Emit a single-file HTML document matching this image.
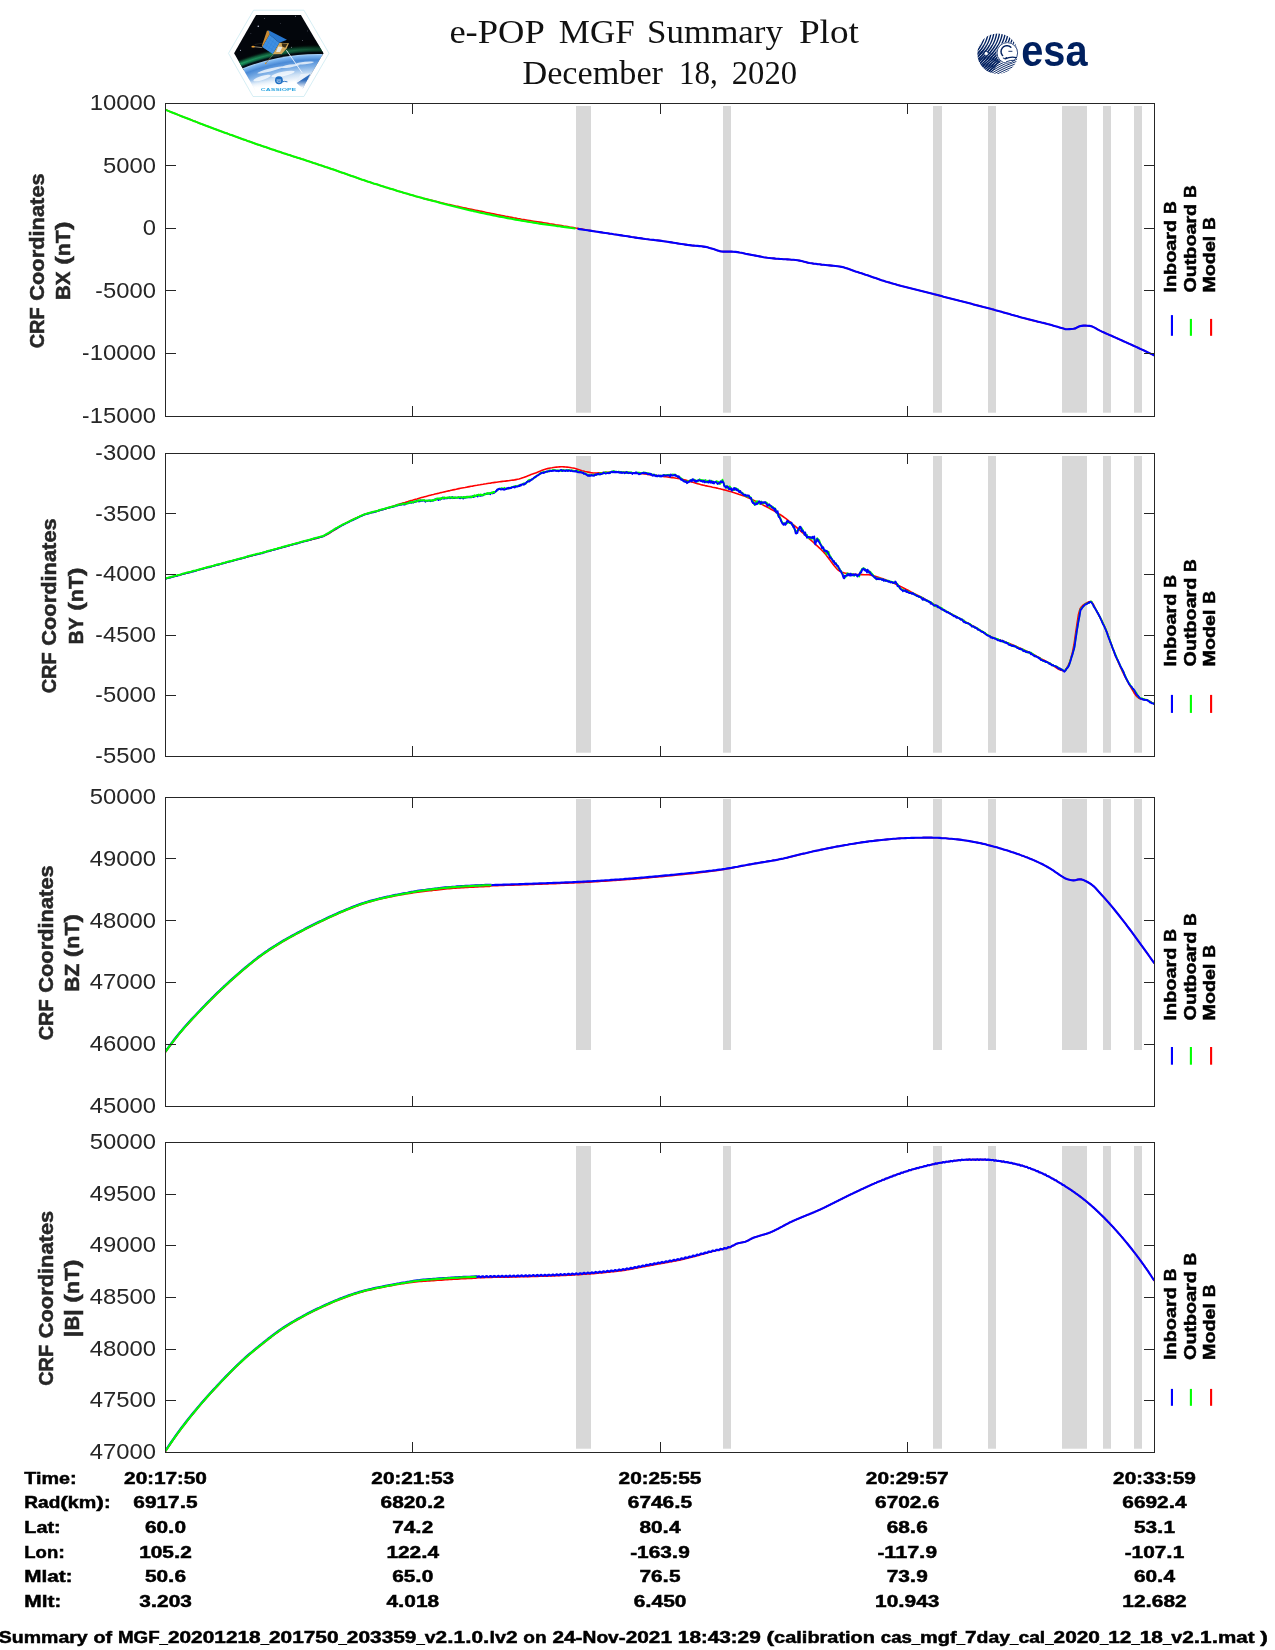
<!DOCTYPE html><html><head><meta charset="utf-8"><title>e-POP MGF Summary Plot</title>
<style>html,body{margin:0;padding:0;background:#fff}svg{display:block}text{font-family:"Liberation Sans",sans-serif}</style></head><body>
<svg width="1275" height="1650" viewBox="0 0 1275 1650" style="opacity:0.999">
<rect width="1275" height="1650" fill="#fff"/>
<clipPath id="c0"><rect x="165.5" y="103.5" width="989.0" height="313.0"/></clipPath>
<rect x="576" y="106" width="15" height="306.7" fill="#d8d8d8"/>
<rect x="723" y="106" width="8" height="306.7" fill="#d8d8d8"/>
<rect x="933" y="106" width="9" height="306.7" fill="#d8d8d8"/>
<rect x="988" y="106" width="8" height="306.7" fill="#d8d8d8"/>
<rect x="1062" y="106" width="25" height="306.7" fill="#d8d8d8"/>
<rect x="1103" y="106" width="8" height="306.7" fill="#d8d8d8"/>
<rect x="1134" y="106" width="8" height="306.7" fill="#d8d8d8"/>
<polyline points="165.5,109.8 167.5,110.6 169.5,111.4 171.5,112.2 173.5,113.0 175.5,113.8 177.5,114.6 179.5,115.4 181.5,116.2 183.5,117.0 185.5,117.7 187.5,118.5 189.5,119.3 191.5,120.1 193.5,120.9 195.5,121.6 197.5,122.4 199.5,123.2 201.5,123.9 203.5,124.7 205.5,125.5 207.5,126.2 209.5,127.0 211.5,127.7 213.5,128.5 215.5,129.2 217.5,130.0 219.5,130.7 221.5,131.4 223.5,132.2 225.5,132.9 227.5,133.6 229.5,134.4 231.5,135.1 233.5,135.8 235.5,136.6 237.5,137.3 239.5,138.0 241.5,138.7 243.5,139.4 245.5,140.1 247.5,140.9 249.5,141.6 251.5,142.3 253.5,143.0 255.5,143.7 257.5,144.4 259.5,145.1 261.5,145.8 263.5,146.4 265.5,147.1 267.5,147.8 269.5,148.5 271.5,149.2 273.5,149.8 275.5,150.5 277.5,151.2 279.5,151.8 281.5,152.5 283.5,153.2 285.5,153.8 287.5,154.5 289.5,155.1 291.5,155.8 293.5,156.4 295.5,157.1 297.5,157.7 299.5,158.3 301.5,159.0 303.5,159.6 305.5,160.3 307.5,160.9 309.5,161.6 311.5,162.2 313.5,162.9 315.5,163.5 317.5,164.2 319.5,164.9 321.5,165.5 323.5,166.2 325.5,166.9 327.5,167.5 329.5,168.2 331.5,168.9 333.5,169.6 335.5,170.3 337.5,171.0 339.5,171.7 341.5,172.4 343.5,173.1 345.5,173.8 347.5,174.5 349.5,175.2 351.5,175.9 353.5,176.6 355.5,177.3 357.5,178.0 359.5,178.7 361.5,179.4 363.5,180.0 365.5,180.7 367.5,181.4 369.5,182.0 371.5,182.7 373.5,183.4 375.5,184.0 377.5,184.6 379.5,185.3 381.5,185.9 383.5,186.5 385.5,187.2 387.5,187.8 389.5,188.4 391.5,189.0 393.5,189.6 395.5,190.2 397.5,190.9 399.5,191.5 401.5,192.1 403.5,192.7 405.5,193.3 407.5,193.8 409.5,194.4 411.5,195.0 413.5,195.6 415.5,196.2 417.5,196.7 419.5,197.3 421.5,197.8 423.5,198.4 425.5,198.9 427.5,199.4 429.5,199.9 431.5,200.4 433.5,200.9 435.5,201.3 437.5,201.8 439.5,202.3 441.5,202.8 443.5,203.2 445.5,203.7 447.5,204.2 449.5,204.6 451.5,205.1 453.5,205.5 455.5,206.0 457.5,206.4 459.5,206.9 461.5,207.3 463.5,207.7 465.5,208.1 467.5,208.6 469.5,209.0 471.5,209.4 473.5,209.8 475.5,210.2 477.5,210.6 479.5,211.0 481.5,211.4 483.5,211.8 485.5,212.3 487.5,212.7 489.5,213.1 491.5,213.5 493.5,213.9 495.5,214.3 497.5,214.7 499.5,215.1 501.5,215.5 503.5,215.9 505.5,216.3 507.5,216.6 509.5,217.0 511.5,217.4 513.5,217.8 515.5,218.1 517.5,218.5 519.5,218.8 521.5,219.2 523.5,219.5 525.5,219.9 527.5,220.2 529.5,220.5 531.5,220.9 533.5,221.2 535.5,221.5 537.5,221.8 539.5,222.1 541.5,222.4 543.5,222.7 545.5,223.0 547.5,223.3 549.5,223.7 551.5,224.0 553.5,224.3 555.5,224.7 557.5,225.0 559.5,225.3 561.5,225.6 563.5,226.0 565.5,226.3 567.5,226.6 569.5,227.0 571.5,227.3 573.5,227.6 575.5,228.0 577.5,228.3 579.5,228.7 581.5,229.0 583.5,229.4 585.5,229.7 587.5,230.1 589.5,230.4 591.5,230.8 593.5,231.1 595.5,231.5 597.5,231.8 599.5,232.1 601.5,232.4 603.5,232.7 605.5,233.0 607.5,233.3 609.5,233.6 611.5,233.8 613.5,234.2 615.5,234.5 617.5,234.8 619.5,235.1 621.5,235.4 623.5,235.7 625.5,236.0 627.5,236.3 629.5,236.6 631.5,237.0 633.5,237.3 635.5,237.6 637.5,237.9 639.5,238.1 641.5,238.4 643.5,238.7 645.5,239.0 647.5,239.2 649.5,239.5 651.5,239.7 653.5,239.9 655.5,240.2 657.5,240.4 659.5,240.6 661.5,240.9 663.5,241.2 665.5,241.5 667.5,241.8 669.5,242.1 671.5,242.4 673.5,242.7 675.5,243.0 677.5,243.4 679.5,243.7 681.5,244.0 683.5,244.3 685.5,244.6 687.5,244.9 689.5,245.1 691.5,245.4 693.5,245.6 695.5,245.8 697.5,245.9 699.5,246.1 701.5,246.3 703.5,246.6 705.5,246.9 707.5,247.3 709.5,247.9 711.5,248.5 713.5,249.1 715.5,249.7 717.5,250.4 719.5,251.1 721.5,251.5 723.5,251.6 725.5,251.6 727.5,251.6 729.5,251.6 731.5,251.6 733.5,251.7 735.5,251.9 737.5,252.1 739.5,252.5 741.5,252.8 743.5,253.2 745.5,253.7 747.5,254.1 749.5,254.5 751.5,254.9 753.5,255.2 755.5,255.6 757.5,256.0 759.5,256.4 761.5,256.8 763.5,257.2 765.5,257.5 767.5,257.8 769.5,258.0 771.5,258.2 773.5,258.4 775.5,258.6 777.5,258.7 779.5,258.9 781.5,259.0 783.5,259.2 785.5,259.3 787.5,259.4 789.5,259.5 791.5,259.7 793.5,259.8 795.5,260.0 797.5,260.2 799.5,260.6 801.5,261.0 803.5,261.6 805.5,262.1 807.5,262.6 809.5,263.0 811.5,263.3 813.5,263.6 815.5,263.8 817.5,264.1 819.5,264.3 821.5,264.6 823.5,264.8 825.5,265.0 827.5,265.2 829.5,265.4 831.5,265.6 833.5,265.8 835.5,266.0 837.5,266.2 839.5,266.5 841.5,266.9 843.5,267.3 845.5,267.9 847.5,268.6 849.5,269.3 851.5,270.0 853.5,270.7 855.5,271.4 857.5,272.0 859.5,272.7 861.5,273.3 863.5,274.0 865.5,274.7 867.5,275.3 869.5,276.0 871.5,276.7 873.5,277.4 875.5,278.1 877.5,278.8 879.5,279.5 881.5,280.2 883.5,280.8 885.5,281.5 887.5,282.1 889.5,282.6 891.5,283.2 893.5,283.8 895.5,284.3 897.5,284.9 899.5,285.4 901.5,286.0 903.5,286.5 905.5,287.0 907.5,287.5 909.5,288.0 911.5,288.5 913.5,289.0 915.5,289.5 917.5,290.0 919.5,290.5 921.5,291.0 923.5,291.5 925.5,292.0 927.5,292.5 929.5,293.0 931.5,293.5 933.5,294.1 935.5,294.6 937.5,295.1 939.5,295.6 941.5,296.1 943.5,296.7 945.5,297.2 947.5,297.7 949.5,298.2 951.5,298.7 953.5,299.2 955.5,299.7 957.5,300.2 959.5,300.8 961.5,301.3 963.5,301.8 965.5,302.3 967.5,302.8 969.5,303.3 971.5,303.8 973.5,304.4 975.5,304.9 977.5,305.4 979.5,305.9 981.5,306.4 983.5,307.0 985.5,307.5 987.5,308.0 989.5,308.5 991.5,309.1 993.5,309.6 995.5,310.2 997.5,310.7 999.5,311.3 1001.5,311.8 1003.5,312.4 1005.5,312.9 1007.5,313.5 1009.5,314.1 1011.5,314.7 1013.5,315.2 1015.5,315.8 1017.5,316.3 1019.5,316.9 1021.5,317.5 1023.5,318.0 1025.5,318.5 1027.5,319.1 1029.5,319.6 1031.5,320.1 1033.5,320.6 1035.5,321.1 1037.5,321.6 1039.5,322.0 1041.5,322.5 1043.5,322.9 1045.5,323.4 1047.5,324.0 1049.5,324.5 1051.5,325.1 1053.5,325.7 1055.5,326.3 1057.5,326.8 1059.5,327.4 1061.5,328.0 1063.5,328.6 1065.5,329.2 1067.5,329.2 1069.5,329.1 1071.5,329.0 1073.5,328.8 1075.5,328.4 1077.5,327.2 1079.5,326.3 1081.5,325.9 1083.5,325.6 1085.5,325.6 1087.5,325.7 1089.5,325.9 1091.5,326.3 1093.5,327.1 1095.5,328.1 1097.5,329.3 1099.5,330.4 1101.5,331.4 1103.5,332.3 1105.5,333.2 1107.5,334.1 1109.5,335.0 1111.5,335.8 1113.5,336.7 1115.5,337.6 1117.5,338.5 1119.5,339.4 1121.5,340.3 1123.5,341.2 1125.5,342.1 1127.5,343.0 1129.5,343.9 1131.5,344.8 1133.5,345.7 1135.5,346.6 1137.5,347.5 1139.5,348.5 1141.5,349.4 1143.5,350.3 1145.5,351.2 1147.5,352.2 1149.5,353.1 1151.5,354.1 1153.5,355.0 1154.5,355.5" fill="none" stroke="#ff0000" stroke-width="1.6" stroke-linejoin="round" clip-path="url(#c0)"/>
<polyline points="165.5,109.8 167.5,110.6 169.5,111.4 171.5,112.2 173.5,113.0 175.5,113.8 177.5,114.6 179.5,115.4 181.5,116.2 183.5,117.0 185.5,117.7 187.5,118.5 189.5,119.3 191.5,120.1 193.5,120.9 195.5,121.6 197.5,122.4 199.5,123.2 201.5,123.9 203.5,124.7 205.5,125.5 207.5,126.2 209.5,127.0 211.5,127.7 213.5,128.5 215.5,129.2 217.5,130.0 219.5,130.7 221.5,131.4 223.5,132.2 225.5,132.9 227.5,133.6 229.5,134.4 231.5,135.1 233.5,135.8 235.5,136.6 237.5,137.3 239.5,138.0 241.5,138.7 243.5,139.4 245.5,140.1 247.5,140.9 249.5,141.6 251.5,142.3 253.5,143.0 255.5,143.7 257.5,144.4 259.5,145.1 261.5,145.8 263.5,146.4 265.5,147.1 267.5,147.8 269.5,148.5 271.5,149.2 273.5,149.8 275.5,150.5 277.5,151.2 279.5,151.8 281.5,152.5 283.5,153.2 285.5,153.8 287.5,154.5 289.5,155.1 291.5,155.8 293.5,156.4 295.5,157.1 297.5,157.7 299.5,158.3 301.5,159.0 303.5,159.6 305.5,160.3 307.5,160.9 309.5,161.6 311.5,162.2 313.5,162.9 315.5,163.5 317.5,164.2 319.5,164.9 321.5,165.5 323.5,166.2 325.5,166.9 327.5,167.5 329.5,168.2 331.5,168.9 333.5,169.6 335.5,170.3 337.5,171.0 339.5,171.7 341.5,172.4 343.5,173.1 345.5,173.8 347.5,174.5 349.5,175.2 351.5,175.9 353.5,176.6 355.5,177.3 357.5,178.0 359.5,178.7 361.5,179.4 363.5,180.0 365.5,180.7 367.5,181.4 369.5,182.0 371.5,182.7 373.5,183.4 375.5,184.0 377.5,184.6 379.5,185.3 381.5,185.9 383.5,186.5 385.5,187.2 387.5,187.8 389.5,188.4 391.5,189.0 393.5,189.6 395.5,190.2 397.5,190.9 399.5,191.5 401.5,192.1 403.5,192.7 405.5,193.3 407.5,193.8 409.5,194.4 411.5,195.0 413.5,195.6 415.5,196.2 417.5,196.7 419.5,197.3 421.5,197.8 423.5,198.4 425.5,198.9 427.5,199.5 429.5,200.0 431.5,200.5 433.5,201.1 435.5,201.6 437.5,202.1 439.5,202.7 441.5,203.2 443.5,203.7 445.5,204.2 447.5,204.7 449.5,205.3 451.5,205.8 453.5,206.3 455.5,206.8 457.5,207.3 459.5,207.8 461.5,208.2 463.5,208.7 465.5,209.2 467.5,209.7 469.5,210.2 471.5,210.6 473.5,211.1 475.5,211.5 477.5,212.0 479.5,212.4 481.5,212.9 483.5,213.3 485.5,213.7 487.5,214.1 489.5,214.5 491.5,214.9 493.5,215.4 495.5,215.8 497.5,216.2 499.5,216.6 501.5,216.9 503.5,217.3 505.5,217.7 507.5,218.1 509.5,218.5 511.5,218.8 513.5,219.2 515.5,219.6 517.5,219.9 519.5,220.3 521.5,220.6 523.5,221.0 525.5,221.3 527.5,221.6 529.5,222.0 531.5,222.3 533.5,222.6 535.5,222.9 537.5,223.3 539.5,223.6 541.5,223.9 543.5,224.2 545.5,224.4 547.5,224.7 549.5,225.0 551.5,225.3 553.5,225.5 555.5,225.8 557.5,226.1 559.5,226.3 561.5,226.6 563.5,226.9 565.5,227.1 567.5,227.4 569.5,227.7 571.5,228.0 573.5,228.2 575.5,228.5" fill="none" stroke="#00ff00" stroke-width="2.1" stroke-linejoin="round" clip-path="url(#c0)"/>
<polyline points="577.5,228.8 579.5,229.1 581.5,229.4 583.5,229.7 585.5,230.0 587.5,230.3 589.5,230.6 591.5,230.9 593.5,231.2 595.5,231.5 597.5,231.8 599.5,232.1 601.5,232.4 603.5,232.7 605.5,233.0 607.5,233.3 609.5,233.6 611.5,233.8 613.5,234.2 615.5,234.5 617.5,234.8 619.5,235.1 621.5,235.4 623.5,235.7 625.5,236.0 627.5,236.3 629.5,236.6 631.5,237.0 633.5,237.3 635.5,237.6 637.5,237.9 639.5,238.1 641.5,238.4 643.5,238.7 645.5,239.0 647.5,239.2 649.5,239.5 651.5,239.7 653.5,239.9 655.5,240.2 657.5,240.4 659.5,240.6 661.5,240.9 663.5,241.2 665.5,241.5 667.5,241.8 669.5,242.1 671.5,242.4 673.5,242.7 675.5,243.0 677.5,243.4 679.5,243.7 681.5,244.0 683.5,244.3 685.5,244.6 687.5,244.9 689.5,245.1 691.5,245.4 693.5,245.6 695.5,245.8 697.5,245.9 699.5,246.1 701.5,246.3 703.5,246.6 705.5,246.9 707.5,247.3 709.5,247.9 711.5,248.5 713.5,249.1 715.5,249.7 717.5,250.4 719.5,251.1 721.5,251.5 723.5,251.6 725.5,251.6 727.5,251.6 729.5,251.6 731.5,251.6 733.5,251.7 735.5,251.9 737.5,252.1 739.5,252.5 741.5,252.8 743.5,253.2 745.5,253.7 747.5,254.1 749.5,254.5 751.5,254.9 753.5,255.2 755.5,255.6 757.5,256.0 759.5,256.4 761.5,256.8 763.5,257.2 765.5,257.5 767.5,257.8 769.5,258.0 771.5,258.2 773.5,258.4 775.5,258.6 777.5,258.7 779.5,258.9 781.5,259.0 783.5,259.2 785.5,259.3 787.5,259.4 789.5,259.5 791.5,259.7 793.5,259.8 795.5,260.0 797.5,260.2 799.5,260.6 801.5,261.0 803.5,261.6 805.5,262.1 807.5,262.6 809.5,263.0 811.5,263.3 813.5,263.6 815.5,263.8 817.5,264.1 819.5,264.3 821.5,264.6 823.5,264.8 825.5,265.0 827.5,265.2 829.5,265.4 831.5,265.6 833.5,265.8 835.5,266.0 837.5,266.2 839.5,266.5 841.5,266.9 843.5,267.3 845.5,267.9 847.5,268.6 849.5,269.3 851.5,270.0 853.5,270.7 855.5,271.4 857.5,272.0 859.5,272.7 861.5,273.3 863.5,274.0 865.5,274.7 867.5,275.3 869.5,276.0 871.5,276.7 873.5,277.4 875.5,278.1 877.5,278.8 879.5,279.5 881.5,280.2 883.5,280.8 885.5,281.5 887.5,282.1 889.5,282.6 891.5,283.2 893.5,283.8 895.5,284.3 897.5,284.9 899.5,285.4 901.5,286.0 903.5,286.5 905.5,287.0 907.5,287.5 909.5,288.0 911.5,288.5 913.5,289.0 915.5,289.5 917.5,290.0 919.5,290.5 921.5,291.0 923.5,291.5 925.5,292.0 927.5,292.5 929.5,293.0 931.5,293.5 933.5,294.1 935.5,294.6 937.5,295.1 939.5,295.6 941.5,296.1 943.5,296.7 945.5,297.2 947.5,297.7 949.5,298.2 951.5,298.7 953.5,299.2 955.5,299.7 957.5,300.2 959.5,300.8 961.5,301.3 963.5,301.8 965.5,302.3 967.5,302.8 969.5,303.3 971.5,303.8 973.5,304.4 975.5,304.9 977.5,305.4 979.5,305.9 981.5,306.4 983.5,307.0 985.5,307.5 987.5,308.0 989.5,308.5 991.5,309.1 993.5,309.6 995.5,310.2 997.5,310.7 999.5,311.3 1001.5,311.8 1003.5,312.4 1005.5,312.9 1007.5,313.5 1009.5,314.1 1011.5,314.7 1013.5,315.2 1015.5,315.8 1017.5,316.3 1019.5,316.9 1021.5,317.5 1023.5,318.0 1025.5,318.5 1027.5,319.1 1029.5,319.6 1031.5,320.1 1033.5,320.6 1035.5,321.1 1037.5,321.6 1039.5,322.0 1041.5,322.5 1043.5,322.9 1045.5,323.4 1047.5,324.0 1049.5,324.5 1051.5,325.1 1053.5,325.7 1055.5,326.3 1057.5,326.8 1059.5,327.4 1061.5,328.0 1063.5,328.6 1065.5,329.2 1067.5,329.2 1069.5,329.1 1071.5,329.0 1073.5,328.8 1075.5,328.4 1077.5,327.2 1079.5,326.3 1081.5,325.9 1083.5,325.6 1085.5,325.6 1087.5,325.7 1089.5,325.9 1091.5,326.3 1093.5,327.1 1095.5,328.1 1097.5,329.3 1099.5,330.4 1101.5,331.4 1103.5,332.3 1105.5,333.2 1107.5,334.1 1109.5,335.0 1111.5,335.8 1113.5,336.7 1115.5,337.6 1117.5,338.5 1119.5,339.4 1121.5,340.3 1123.5,341.2 1125.5,342.1 1127.5,343.0 1129.5,343.9 1131.5,344.8 1133.5,345.7 1135.5,346.6 1137.5,347.5 1139.5,348.5 1141.5,349.4 1143.5,350.3 1145.5,351.2 1147.5,352.2 1149.5,353.1 1151.5,354.1 1153.5,355.0 1154.5,355.5" fill="none" stroke="#0000ff" stroke-width="2.1" stroke-linejoin="round" clip-path="url(#c0)"/>
<g stroke="#262626" stroke-width="1" fill="none" shape-rendering="crispEdges">
<rect x="165.5" y="103.5" width="989.0" height="313.0"/>
<line x1="412.5" y1="103.5" x2="412.5" y2="114.0"/><line x1="412.5" y1="416.5" x2="412.5" y2="406.0"/>
<line x1="660.5" y1="103.5" x2="660.5" y2="114.0"/><line x1="660.5" y1="416.5" x2="660.5" y2="406.0"/>
<line x1="907.5" y1="103.5" x2="907.5" y2="114.0"/><line x1="907.5" y1="416.5" x2="907.5" y2="406.0"/>
<line x1="165.5" y1="165.5" x2="176.0" y2="165.5"/><line x1="1154.5" y1="165.5" x2="1144.0" y2="165.5"/>
<line x1="165.5" y1="228.5" x2="176.0" y2="228.5"/><line x1="1154.5" y1="228.5" x2="1144.0" y2="228.5"/>
<line x1="165.5" y1="290.5" x2="176.0" y2="290.5"/><line x1="1154.5" y1="290.5" x2="1144.0" y2="290.5"/>
<line x1="165.5" y1="353.5" x2="176.0" y2="353.5"/><line x1="1154.5" y1="353.5" x2="1144.0" y2="353.5"/>
</g>
<g font-size="22.07" fill="#262626">
<text x="89.65" y="110.00" textLength="66.25" lengthAdjust="spacingAndGlyphs">10000</text>
</g>
<g font-size="22.07" fill="#262626">
<text x="102.90" y="172.60" textLength="53.00" lengthAdjust="spacingAndGlyphs">5000</text>
</g>
<g font-size="22.07" fill="#262626">
<text x="142.65" y="235.20" textLength="13.25" lengthAdjust="spacingAndGlyphs">0</text>
</g>
<g font-size="22.07" fill="#262626">
<text x="95.38" y="297.80" textLength="7.52" lengthAdjust="spacingAndGlyphs">-</text>
<text x="102.90" y="297.80" textLength="53.00" lengthAdjust="spacingAndGlyphs">5000</text>
</g>
<g font-size="22.07" fill="#262626">
<text x="82.13" y="360.40" textLength="7.52" lengthAdjust="spacingAndGlyphs">-</text>
<text x="89.65" y="360.40" textLength="66.25" lengthAdjust="spacingAndGlyphs">10000</text>
</g>
<g font-size="22.07" fill="#262626">
<text x="82.13" y="423.00" textLength="7.52" lengthAdjust="spacingAndGlyphs">-</text>
<text x="89.65" y="423.00" textLength="66.25" lengthAdjust="spacingAndGlyphs">15000</text>
</g>
<g font-size="19.47" font-weight="bold" stroke="#262626" stroke-width="0.5" fill="#262626" transform="rotate(-90 44.20 260.80)">
<text x="-43.30" y="260.80" textLength="41.02" lengthAdjust="spacingAndGlyphs">CRF</text>
<text x="4.25" y="260.80" textLength="127.45" lengthAdjust="spacingAndGlyphs">Coordinates</text>
</g>
<g font-size="19.47" font-weight="bold" stroke="#262626" stroke-width="0.5" fill="#262626" transform="rotate(-90 69.60 260.80)">
<text x="30.33" y="260.80" textLength="28.75" lengthAdjust="spacingAndGlyphs">BX</text>
<text x="65.61" y="260.80" textLength="8.56" lengthAdjust="spacingAndGlyphs">(</text>
<text x="74.17" y="260.80" textLength="26.14" lengthAdjust="spacingAndGlyphs">nT</text>
<text x="100.31" y="260.80" textLength="8.56" lengthAdjust="spacingAndGlyphs">)</text>
</g>
<g font-size="17.31" font-weight="bold" stroke="#000" stroke-width="0.5" fill="#000" transform="rotate(-90 1176.20 292.60)">
<text x="1176.20" y="292.60" textLength="72.80" lengthAdjust="spacingAndGlyphs">Inboard</text>
<text x="1254.79" y="292.60" textLength="12.70" lengthAdjust="spacingAndGlyphs">B</text>
</g>
<g font-size="17.31" font-weight="bold" stroke="#000" stroke-width="0.5" fill="#000" transform="rotate(-90 1196.00 292.60)">
<text x="1196.00" y="292.60" textLength="88.72" lengthAdjust="spacingAndGlyphs">Outboard</text>
<text x="1290.52" y="292.60" textLength="12.70" lengthAdjust="spacingAndGlyphs">B</text>
</g>
<g font-size="17.31" font-weight="bold" stroke="#000" stroke-width="0.5" fill="#000" transform="rotate(-90 1215.20 292.60)">
<text x="1215.20" y="292.60" textLength="56.94" lengthAdjust="spacingAndGlyphs">Model</text>
<text x="1277.93" y="292.60" textLength="12.70" lengthAdjust="spacingAndGlyphs">B</text>
</g>
<rect x="1170.9" y="315.1" width="2.1" height="20.7" fill="#0000ff"/>
<rect x="1189.85" y="318.9" width="2.1" height="16.9" fill="#00ff00"/>
<rect x="1210.05" y="318.9" width="2.1" height="16.9" fill="#ff0000"/>
<clipPath id="c1"><rect x="165.5" y="453.5" width="989.0" height="303.0"/></clipPath>
<rect x="576" y="456" width="15" height="296.7" fill="#d8d8d8"/>
<rect x="723" y="456" width="8" height="296.7" fill="#d8d8d8"/>
<rect x="933" y="456" width="9" height="296.7" fill="#d8d8d8"/>
<rect x="988" y="456" width="8" height="296.7" fill="#d8d8d8"/>
<rect x="1062" y="456" width="25" height="296.7" fill="#d8d8d8"/>
<rect x="1103" y="456" width="8" height="296.7" fill="#d8d8d8"/>
<rect x="1134" y="456" width="8" height="296.7" fill="#d8d8d8"/>
<polyline points="165.0,578.9 166.5,578.5 168.0,578.1 169.5,577.7 171.0,577.3 172.5,576.9 174.0,576.5 175.5,576.1 177.0,575.7 178.5,575.3 180.0,574.9 181.5,574.5 183.0,574.1 184.5,573.7 186.0,573.3 187.5,572.9 189.0,572.5 190.5,572.1 192.0,571.7 193.5,571.3 195.0,570.9 196.5,570.5 198.0,570.1 199.5,569.6 201.0,569.2 202.5,568.8 204.0,568.4 205.5,568.0 207.0,567.6 208.5,567.2 210.0,566.8 211.5,566.4 213.0,566.0 214.5,565.6 216.0,565.2 217.5,564.8 219.0,564.4 220.5,564.0 222.0,563.6 223.5,563.2 225.0,562.8 226.5,562.4 228.0,562.0 229.5,561.6 231.0,561.2 232.5,560.8 234.0,560.4 235.5,560.0 237.0,559.6 238.5,559.2 240.0,558.8 241.5,558.4 243.0,558.0 244.5,557.7 246.0,557.3 247.5,556.9 249.0,556.5 250.5,556.1 252.0,555.7 253.5,555.3 255.0,554.9 256.5,554.5 258.0,554.1 259.5,553.7 261.0,553.3 262.5,552.9 264.0,552.5 265.5,552.1 267.0,551.6 268.5,551.2 270.0,550.8 271.5,550.4 273.0,550.0 274.5,549.6 276.0,549.2 277.5,548.8 279.0,548.3 280.5,547.9 282.0,547.5 283.5,547.1 285.0,546.7 286.5,546.3 288.0,545.8 289.5,545.4 291.0,545.0 292.5,544.6 294.0,544.2 295.5,543.8 297.0,543.4 298.5,542.9 300.0,542.5 301.5,542.1 303.0,541.7 304.5,541.3 306.0,540.9 307.5,540.6 309.0,540.2 310.5,539.9 312.0,539.5 313.5,539.1 315.0,538.8 316.5,538.4 318.0,538.0 319.5,537.5 321.0,537.0 322.5,536.5 324.0,535.9 325.5,535.3 327.0,534.5 328.5,533.7 330.0,532.8 331.5,531.9 333.0,530.9 334.5,530.0 336.0,529.0 337.5,528.0 339.0,527.0 340.5,526.1 342.0,525.2 343.5,524.4 345.0,523.6 346.5,522.8 348.0,522.1 349.5,521.3 351.0,520.5 352.5,519.8 354.0,519.0 355.5,518.3 357.0,517.6 358.5,516.9 360.0,516.3 361.5,515.7 363.0,515.1 364.5,514.6 366.0,514.1 367.5,513.6 369.0,513.2 370.5,512.8 372.0,512.4 373.5,512.0 375.0,511.6 376.5,511.2 378.0,510.8 379.5,510.4 381.0,510.0 382.5,509.6 384.0,509.2 385.5,508.7 387.0,508.2 388.5,507.8 390.0,507.2 391.5,506.7 393.0,506.2 394.5,505.7 396.0,505.2 397.5,504.7 399.0,504.2 400.5,503.7 402.0,503.3 403.5,502.8 405.0,502.4 406.5,501.9 408.0,501.5 409.5,501.0 411.0,500.6 412.5,500.2 414.0,499.7 415.5,499.3 417.0,498.9 418.5,498.4 420.0,498.0 421.5,497.6 423.0,497.2 424.5,496.8 426.0,496.4 427.5,496.0 429.0,495.6 430.5,495.2 432.0,494.8 433.5,494.5 435.0,494.1 436.5,493.7 438.0,493.4 439.5,493.0 441.0,492.6 442.5,492.3 444.0,491.9 445.5,491.6 447.0,491.2 448.5,490.9 450.0,490.6 451.5,490.2 453.0,489.9 454.5,489.6 456.0,489.3 457.5,488.9 459.0,488.6 460.5,488.3 462.0,488.0 463.5,487.7 465.0,487.5 466.5,487.2 468.0,486.9 469.5,486.6 471.0,486.3 472.5,486.1 474.0,485.8 475.5,485.5 477.0,485.3 478.5,485.0 480.0,484.8 481.5,484.5 483.0,484.3 484.5,484.0 486.0,483.8 487.5,483.5 489.0,483.3 490.5,483.1 492.0,482.8 493.5,482.6 495.0,482.4 496.5,482.2 498.0,482.0 499.5,481.8 501.0,481.6 502.5,481.4 504.0,481.3 505.5,481.1 507.0,480.9 508.5,480.7 510.0,480.5 511.5,480.3 513.0,480.1 514.5,479.9 516.0,479.6 517.5,479.3 519.0,479.0 520.5,478.6 522.0,478.1 523.5,477.6 525.0,477.0 526.5,476.4 528.0,475.8 529.5,475.2 531.0,474.6 532.5,474.1 534.0,473.5 535.5,473.0 537.0,472.4 538.5,471.8 540.0,471.2 541.5,470.6 543.0,470.0 544.5,469.5 546.0,469.0 547.5,468.6 549.0,468.3 550.5,468.0 552.0,467.8 553.5,467.5 555.0,467.3 556.5,467.1 558.0,467.0 559.5,466.9 561.0,466.8 562.5,466.8 564.0,466.9 565.5,467.0 567.0,467.1 568.5,467.3 570.0,467.5 571.5,467.8 573.0,468.0 574.5,468.3 576.0,468.7 577.5,469.2 579.0,469.7 580.5,470.2 582.0,470.7 583.5,471.1 585.0,471.5 586.5,471.8 588.0,472.1 589.5,472.4 591.0,472.7 592.5,472.9 594.0,473.0 595.5,473.0 597.0,473.0 598.5,472.9 600.0,472.8 601.5,472.7 603.0,472.6 604.5,472.5 606.0,472.4 607.5,472.3 609.0,472.2 610.5,472.1 612.0,472.0 613.5,472.0 615.0,472.0 616.5,472.0 618.0,472.1 619.5,472.1 621.0,472.2 622.5,472.2 624.0,472.3 625.5,472.4 627.0,472.5 628.5,472.6 630.0,472.7 631.5,472.8 633.0,472.9 634.5,473.1 636.0,473.2 637.5,473.3 639.0,473.4 640.5,473.5 642.0,473.7 643.5,473.8 645.0,474.0 646.5,474.2 648.0,474.4 649.5,474.6 651.0,474.8 652.5,475.0 654.0,475.2 655.5,475.4 657.0,475.6 658.5,475.8 660.0,476.0 661.5,476.2 663.0,476.4 664.5,476.6 666.0,476.8 667.5,477.0 669.0,477.2 670.5,477.4 672.0,477.6 673.5,477.8 675.0,478.0 676.5,478.3 678.0,478.5 679.5,478.8 681.0,479.0 682.5,479.3 684.0,479.7 685.5,480.1 687.0,480.5 688.5,480.9 690.0,481.4 691.5,481.9 693.0,482.3 694.5,482.8 696.0,483.3 697.5,483.7 699.0,484.1 700.5,484.5 702.0,484.9 703.5,485.2 705.0,485.6 706.5,485.9 708.0,486.2 709.5,486.5 711.0,486.8 712.5,487.2 714.0,487.5 715.5,487.8 717.0,488.1 718.5,488.5 720.0,488.8 721.5,489.2 723.0,489.6 724.5,489.9 726.0,490.3 727.5,490.8 729.0,491.2 730.5,491.6 732.0,492.0 733.5,492.5 735.0,492.9 736.5,493.4 738.0,493.9 739.5,494.4 741.0,494.9 742.5,495.5 744.0,496.1 745.5,496.6 747.0,497.3 748.5,497.9 750.0,498.6 751.5,499.3 753.0,500.0 754.5,500.7 756.0,501.4 757.5,502.2 759.0,502.9 760.5,503.7 762.0,504.4 763.5,505.2 765.0,506.0 766.5,506.8 768.0,507.6 769.5,508.4 771.0,509.2 772.5,510.0 774.0,510.9 775.5,511.8 777.0,512.6 778.5,513.6 780.0,514.5 781.5,515.5 783.0,516.5 784.5,517.6 786.0,518.7 787.5,519.8 789.0,521.0 790.5,522.2 792.0,523.5 793.5,524.8 795.0,526.1 796.5,527.4 798.0,528.7 799.5,530.0 801.0,531.4 802.5,532.7 804.0,534.0 805.5,535.3 807.0,536.6 808.5,537.9 810.0,539.3 811.5,540.6 813.0,542.0 814.5,543.4 816.0,544.8 817.5,546.2 819.0,547.6 820.5,549.0 822.0,550.5 823.5,552.0 825.0,553.6 826.5,555.4 828.0,557.4 829.5,559.4 831.0,561.5 832.5,563.5 834.0,565.5 835.5,567.3 837.0,569.0 838.5,570.4 840.0,571.4 841.5,572.2 843.0,572.6 844.5,573.0 846.0,573.3 847.5,573.6 849.0,573.9 850.5,574.1 852.0,574.2 853.5,574.4 855.0,574.4 856.5,574.5 858.0,574.5 859.5,574.6 861.0,574.6 862.5,574.6 864.0,574.7 865.5,574.7 867.0,574.7 868.5,574.8 870.0,574.9 871.5,575.2 873.0,575.5 874.5,575.9 876.0,576.4 877.5,576.9 879.0,577.4 880.5,578.0 882.0,578.5 883.5,579.1 885.0,579.6 886.5,580.2 888.0,580.7 889.5,581.4 891.0,582.0 892.5,582.7 894.0,583.4 895.5,584.1 897.0,584.8 898.5,585.5 900.0,586.2 901.5,586.9 903.0,587.7 904.5,588.5 906.0,589.3 907.5,590.0 909.0,590.8 910.5,591.6 912.0,592.4 913.5,593.2 915.0,593.9 916.5,594.7 918.0,595.5 919.5,596.3 921.0,597.0 922.5,597.8 924.0,598.7 925.5,599.5 927.0,600.4 928.5,601.2 930.0,602.1 931.5,603.0 933.0,603.9 934.5,604.8 936.0,605.7 937.5,606.5 939.0,607.4 940.5,608.2 942.0,609.0 943.5,609.8 945.0,610.6 946.5,611.4 948.0,612.2 949.5,613.0 951.0,613.8 952.5,614.7 954.0,615.5 955.5,616.3 957.0,617.1 958.5,617.9 960.0,618.8 961.5,619.6 963.0,620.4 964.5,621.3 966.0,622.1 967.5,622.9 969.0,623.8 970.5,624.6 972.0,625.5 973.5,626.3 975.0,627.2 976.5,628.1 978.0,629.0 979.5,629.9 981.0,630.9 982.5,631.8 984.0,632.8 985.5,633.7 987.0,634.6 988.5,635.4 990.0,636.2 991.5,636.9 993.0,637.6 994.5,638.2 996.0,638.7 997.5,639.3 999.0,639.8 1000.5,640.3 1002.0,640.8 1003.5,641.3 1005.0,641.8 1006.5,642.4 1008.0,643.0 1009.5,643.6 1011.0,644.2 1012.5,644.8 1014.0,645.5 1015.5,646.1 1017.0,646.7 1018.5,647.4 1020.0,648.1 1021.5,648.7 1023.0,649.4 1024.5,650.1 1026.0,650.8 1027.5,651.5 1029.0,652.2 1030.5,653.0 1032.0,653.7 1033.5,654.5 1035.0,655.3 1036.5,656.1 1038.0,656.9 1039.5,657.7 1041.0,658.6 1042.5,659.4 1044.0,660.2 1045.5,661.0 1047.0,661.8 1048.5,662.6 1050.0,663.5 1051.5,664.4 1053.0,665.5 1054.5,666.5 1056.0,667.5 1057.5,668.5 1059.0,669.4 1060.5,670.1 1062.0,670.5 1063.5,670.8 1065.0,670.4 1066.5,668.5 1068.0,665.9 1069.5,662.5 1071.0,657.8 1072.5,652.0 1074.0,644.5 1075.5,633.9 1077.0,623.9 1078.5,614.2 1080.0,609.0 1081.5,606.7 1083.0,605.2 1084.5,604.2 1086.0,603.2 1087.5,602.4 1089.0,601.8 1090.5,601.5 1092.0,602.2 1093.5,604.6 1095.0,607.8 1096.5,610.8 1098.0,613.5 1099.5,616.3 1101.0,619.2 1102.5,622.2 1104.0,625.4 1105.5,628.7 1107.0,632.3 1108.5,636.4 1110.0,640.7 1111.5,645.1 1113.0,649.3 1114.5,653.2 1116.0,656.8 1117.5,660.4 1119.0,663.9 1120.5,667.3 1122.0,670.6 1123.5,673.7 1125.0,676.7 1126.5,679.5 1128.0,682.1 1129.5,684.8 1131.0,687.5 1132.5,690.2 1134.0,692.7 1135.5,694.9 1137.0,696.7 1138.5,698.0 1140.0,698.7 1141.5,699.1 1143.0,699.3 1144.5,699.5 1146.0,699.7 1147.5,700.2 1149.0,700.9 1150.5,701.7 1152.0,702.6 1153.5,703.6 1154.5,704.4" fill="none" stroke="#ff0000" stroke-width="1.6" stroke-linejoin="round" clip-path="url(#c1)"/>
<polyline points="494.4,492.1 495.0,491.8 495.6,491.5 496.2,491.0 496.8,490.8 497.4,489.8 498.0,489.4 498.6,489.1 499.2,488.7 499.8,489.1 500.4,489.2 501.0,488.4 501.6,488.1 502.2,488.5 502.8,488.9 503.4,488.5 504.0,488.4 504.6,487.8 505.2,488.9 505.8,488.7 506.4,488.8 507.0,488.7 507.6,488.6 508.2,488.5 508.8,488.0 509.4,488.1 510.0,487.8 510.6,488.0 511.2,487.3 511.8,486.9 512.4,487.0 513.0,487.2 513.6,486.9 514.2,486.3 514.8,486.1 515.4,485.8 516.0,486.4 516.6,486.3 517.2,486.3 517.8,486.0 518.4,485.4 519.0,485.5 519.6,485.7 520.2,485.4 520.8,484.9 521.4,485.0 522.0,484.4 522.6,484.4 523.2,483.8 523.8,483.3 524.4,483.5 525.0,483.5 525.6,483.8 526.2,483.1 526.8,482.5 527.4,481.7 528.0,480.8 528.6,480.1 529.2,480.3 529.8,479.7 530.4,479.9 531.0,480.0 531.6,479.3 532.2,479.4 532.8,478.8 533.4,478.6 534.0,477.9 534.6,477.7 535.2,476.8 535.8,476.6 536.4,475.9 537.0,475.5 537.6,475.3 538.2,474.9 538.8,474.4 539.4,474.2 540.0,474.0 540.6,472.9 541.2,472.8 541.8,472.8 542.4,472.4 543.0,472.4 543.6,471.8 544.2,472.3 544.8,472.0 545.4,471.8 546.0,472.1 546.6,471.8 547.2,471.8 547.8,471.2 548.4,470.9 549.0,470.5 549.6,470.5 550.2,470.9 550.8,470.8 551.4,470.9 552.0,470.3 552.6,470.0 553.2,469.8 553.8,470.1 554.4,470.2 555.0,470.2 555.6,470.4 556.2,470.3 556.8,470.3 557.4,470.7 558.0,470.3 558.6,470.4 559.2,470.9 559.8,470.7 560.4,470.8 561.0,470.4 561.6,471.0 562.2,470.1 562.8,469.9 563.4,469.8 564.0,470.6 564.6,470.7 565.2,470.5 565.8,470.1 566.4,470.4 567.0,470.5 567.6,470.3 568.2,470.0 568.8,469.9 569.4,470.3 570.0,470.5 570.6,470.6 571.2,470.7 571.8,470.2 572.4,470.6 573.0,470.5 573.6,470.8 574.2,471.1 574.8,471.0 575.4,470.9 576.0,471.4 576.6,471.6 577.2,471.4 577.8,470.7 578.4,471.1 579.0,471.6 579.6,472.1 580.2,471.9 580.8,471.9 581.4,472.1 582.0,472.7 582.6,472.6 583.2,472.9 583.8,473.0 584.4,473.4 585.0,473.3 585.6,473.8 586.2,474.0 586.8,474.3 587.4,474.8 588.0,475.4 588.6,474.8 589.2,475.1 589.8,475.2 590.4,475.0 591.0,475.3 591.6,475.1 592.2,475.3 592.8,474.9 593.4,474.5 594.0,474.9 594.6,475.3 595.2,475.2 595.8,475.1 596.4,474.7 597.0,474.1 597.6,474.1 598.2,474.5 598.8,473.7 599.4,473.6 600.0,473.1 600.6,473.4 601.2,473.7 601.8,473.2 602.4,473.1 603.0,473.5 603.6,473.3 604.2,472.9 604.8,472.5 605.4,472.1 606.0,472.6 606.6,472.4 607.2,472.8 607.8,472.9 608.4,472.5 609.0,472.3 609.6,472.5 610.2,472.4 610.8,472.3 611.4,471.7 612.0,472.0 612.6,471.7 613.2,471.0 613.8,471.1 614.4,471.4 615.0,472.2 615.6,471.9 616.2,471.5 616.8,472.3 617.4,472.2 618.0,472.0 618.6,471.7 619.2,471.6 619.8,472.2 620.4,472.1 621.0,472.0 621.6,471.9 622.2,472.5 622.8,472.2 623.4,472.4 624.0,472.5 624.6,472.5 625.2,472.2 625.8,472.5 626.4,473.0 627.0,472.8 627.6,472.4 628.2,472.1 628.8,472.3 629.4,472.4 630.0,472.5 630.6,472.6 631.2,472.2 631.8,472.7 632.4,472.8 633.0,472.8 633.6,472.9 634.2,473.2 634.8,473.1 635.4,472.8 636.0,473.2 636.6,473.0 637.2,472.8 637.8,472.5 638.4,472.8 639.0,472.6 639.6,472.7 640.2,473.0 640.8,473.0 641.4,473.3 642.0,473.2 642.6,472.8 643.2,472.6 643.8,472.4 644.4,472.6 645.0,472.6 645.6,472.7 646.2,473.2 646.8,473.3 647.4,473.3 648.0,473.0 648.6,473.5 649.2,473.9 649.8,474.1 650.4,474.1 651.0,474.0 651.6,474.2 652.2,474.5 652.8,474.6 653.4,474.7 654.0,474.7 654.6,475.0 655.2,475.2 655.8,475.1 656.4,475.5 657.0,475.8 657.6,476.1 658.2,476.0 658.8,476.0 659.4,475.7 660.0,476.2 660.6,475.5 661.2,475.6 661.8,475.6 662.4,475.9 663.0,475.8 663.6,475.5 664.2,475.0 664.8,475.0 665.4,475.2 666.0,475.2 666.6,475.2 667.2,474.9 667.8,474.9 668.4,475.2 669.0,474.7 669.6,474.8 670.2,475.3 670.8,475.2 671.4,474.8 672.0,474.9 672.6,474.4 673.2,474.4 673.8,474.8 674.4,475.1 675.0,474.4 675.6,475.0 676.2,475.9 676.8,475.9 677.4,476.2 678.0,477.0 678.6,477.0 679.2,477.5 679.8,477.7 680.4,477.5 681.0,478.2 681.6,478.6 682.2,479.4 682.8,480.4 683.4,480.7 684.0,480.7 684.6,481.1 685.2,481.4 685.8,482.1 686.4,481.8 687.0,481.8 687.6,481.1 688.2,481.4 688.8,481.3 689.4,481.0 690.0,480.6 690.6,480.4 691.2,480.0 691.8,479.9 692.4,479.6 693.0,480.1 693.6,480.2 694.2,479.8 694.8,479.7 695.4,480.5 696.0,480.6 696.6,480.7 697.2,480.9 697.8,481.6 698.4,480.5 699.0,480.1 699.6,479.3 700.2,480.1 700.8,480.1 701.4,480.0 702.0,479.8 702.6,480.7 703.2,480.7 703.8,480.5 704.4,481.6 705.0,480.7 705.6,480.0 706.2,482.4 706.8,481.7 707.4,481.2 708.0,480.7 708.6,480.9 709.2,481.7 709.8,482.2 710.4,482.3 711.0,481.9 711.6,480.7 712.2,481.3 712.8,482.6 713.4,483.0 714.0,482.4 714.6,482.8 715.2,482.2 715.8,482.0 716.4,481.1 717.0,481.3 717.6,481.7 718.2,481.7 718.8,482.5 719.4,483.7 720.0,484.1 720.6,483.2 721.2,482.3 721.8,481.4 722.4,479.7 723.0,480.9 723.6,483.1 724.2,485.0 724.8,486.3 725.4,486.5 726.0,486.4 726.6,486.0 727.2,487.6 727.8,488.2 728.4,487.1 729.0,486.6 729.6,486.5 730.2,487.0 730.8,488.3 731.4,488.9 732.0,489.4 732.6,489.8 733.2,490.1 733.8,490.0 734.4,489.9 735.0,489.4 735.6,488.0 736.2,488.4 736.8,490.2 737.4,489.5 738.0,489.2 738.6,490.5 739.2,490.7 739.8,490.6 740.4,492.2 741.0,492.6 741.6,493.2 742.2,492.7 742.8,493.3 743.4,493.8 744.0,494.5 744.6,495.3 745.2,496.0 745.8,495.9 746.4,496.3 747.0,495.4 747.6,496.3 748.2,497.1 748.8,496.9 749.4,496.7 750.0,497.2 750.6,497.2 751.2,498.7 751.8,499.9 752.4,500.0 753.0,501.1 753.6,502.9 754.2,504.3 754.8,504.9 755.4,503.5 756.0,502.3 756.6,501.3 757.2,501.1 757.8,502.7 758.4,503.2 759.0,503.6 759.6,503.8 760.2,501.8 760.8,501.7 761.4,501.5 762.0,502.7 762.6,503.8 763.2,502.8 763.8,502.8 764.4,503.2 765.0,502.7 765.6,502.4 766.2,502.3 766.8,503.6 767.4,503.3 768.0,504.8 768.6,505.1 769.2,505.9 769.8,507.2 770.4,506.5 771.0,506.2 771.6,507.1 772.2,506.7 772.8,506.9 773.4,507.6 774.0,508.4 774.6,508.1 775.2,508.7 775.8,510.1 776.4,512.3 777.0,511.6 777.6,514.0 778.2,515.6 778.8,515.6 779.4,515.7 780.0,517.7 780.6,518.6 781.2,520.1 781.8,521.9 782.4,522.6 783.0,523.1 783.6,523.1 784.2,523.3 784.8,523.9 785.4,524.2 786.0,523.1 786.6,522.0 787.2,523.2 787.8,522.5 788.4,522.7 789.0,522.0 789.6,523.2 790.2,523.1 790.8,523.5 791.4,523.3 792.0,524.1 792.6,525.2 793.2,525.5 793.8,527.0 794.4,529.1 795.0,530.2 795.6,531.4 796.2,532.3 796.8,530.9 797.4,531.1 798.0,529.7 798.6,529.6 799.2,529.3 799.8,527.2 800.4,527.3 801.0,527.8 801.6,528.0 802.2,529.0 802.8,530.0 803.4,531.6 804.0,533.0 804.6,532.7 805.2,533.3 805.8,534.7 806.4,536.3 807.0,534.9 807.6,536.8 808.2,536.8 808.8,538.2 809.4,537.7 810.0,537.2 810.6,537.6 811.2,538.8 811.8,538.8 812.4,537.2 813.0,538.5 813.6,537.7 814.2,537.8 814.8,542.0 815.4,542.1 816.0,540.6 816.6,539.3 817.2,538.2 817.8,538.9 818.4,539.9 819.0,539.9 819.6,541.3 820.2,543.2 820.8,544.7 821.4,545.3 822.0,546.4 822.6,547.5 823.2,548.9 823.8,550.2 824.4,549.9 825.0,550.1 825.6,551.7 826.2,553.1 826.8,554.3 827.4,552.4 828.0,553.2 828.6,551.8 829.2,554.1 829.8,555.4 830.4,556.4 831.0,557.2 831.6,559.0 832.2,559.2 832.8,560.6 833.4,561.4 834.0,562.0 834.6,562.8 835.2,563.2 835.8,563.0 836.4,564.4 837.0,565.6 837.6,565.9 838.2,567.3 838.8,568.8 839.4,568.6 840.0,569.7 840.6,570.6 841.2,571.2 841.8,572.9 842.4,573.5 843.0,574.6 843.6,576.2 844.2,576.9 844.8,576.5 845.4,577.4 846.0,575.8 846.6,575.1 847.2,573.4 847.8,573.3 848.4,574.1 849.0,574.7 849.6,573.9 850.2,573.6 850.8,574.7 851.4,574.4 852.0,575.0 852.6,574.1 853.2,575.2 853.8,575.7 854.4,575.6 855.0,574.8 855.6,574.8 856.2,575.1 856.8,575.3 857.4,575.3 858.0,575.3 858.6,575.6 859.2,576.6 859.8,574.0 860.4,572.4 861.0,570.9 861.6,570.1 862.2,568.6 862.8,568.6 863.4,568.1 864.0,568.5 864.6,568.7 865.2,569.4 865.8,570.0 866.4,570.6 867.0,570.6 867.6,571.4 868.2,571.0 868.8,572.3 869.4,571.2 870.0,571.8 870.6,572.1 871.2,573.4 871.8,573.4 872.4,575.1 873.0,574.8 873.6,576.4 874.2,576.8 874.8,577.1 875.4,577.7 876.0,579.0 876.6,579.3 877.2,578.1 877.8,578.9 878.4,579.0 879.0,578.3 879.6,579.0 880.2,578.6 880.8,579.0 881.4,579.4 882.0,579.2 882.6,579.8 883.2,579.4 883.8,579.8 884.4,579.8 885.0,580.0 885.6,581.1 886.2,581.0 886.8,580.5 887.4,580.7 888.0,580.5 888.6,580.9 889.2,581.2 889.8,581.4 890.4,581.6 891.0,581.5 891.6,581.9 892.2,582.5 892.8,582.1 893.4,582.2 894.0,582.4 894.6,583.1 895.2,582.9 895.8,582.7 896.4,583.5 897.0,583.6 897.6,584.2 898.2,585.3 898.8,586.5 899.4,587.7 900.0,588.2 900.6,588.4 901.2,589.0 901.8,589.2 902.4,589.6 903.0,589.8 903.6,590.3 904.2,590.6 904.8,591.0 905.4,590.7 906.0,591.3 906.6,591.0 907.2,591.2 907.8,592.2 908.4,592.2 909.0,591.7 909.6,592.5 910.2,592.9 910.8,593.3 911.4,593.2 912.0,593.4 912.6,593.4 913.2,593.3 913.8,594.4 914.4,594.3 915.0,594.3 915.6,594.5 916.2,595.6 916.8,596.1 917.4,595.9 918.0,596.1 918.6,596.5 919.2,597.1 919.8,596.5 920.4,597.3 921.0,597.5 921.6,597.5 922.2,597.7 922.8,598.5 923.4,599.4 924.0,599.5 924.6,599.8 925.2,599.6 925.8,600.2 926.4,600.8 927.0,600.3 927.6,600.6 928.2,601.4 928.8,601.0 929.4,601.5 930.0,602.3 930.6,602.0 931.2,602.5 931.8,603.1 932.4,603.9 933.0,603.7 933.6,604.6 934.2,605.0 934.8,605.7 935.4,606.2 936.0,606.4 936.6,606.7 937.2,606.2 937.8,606.1 938.4,606.4 939.0,606.9 939.6,607.8 940.2,607.5 940.8,607.9 941.4,608.0 942.0,608.1 942.6,609.3 943.2,609.7 943.8,610.5 944.4,611.0 945.0,610.8 945.6,610.5 946.2,611.6 946.8,611.7 947.4,611.6 948.0,612.3 948.6,612.6 949.2,612.7 949.8,613.0 950.4,613.5 951.0,613.8 951.6,614.4 952.2,614.5 952.8,614.7 953.4,615.3 954.0,615.6 954.6,616.2 955.2,616.3 955.8,616.6 956.4,616.5 957.0,617.4 957.6,617.2 958.2,617.7 958.8,617.8 959.4,618.4 960.0,619.0 960.6,618.8 961.2,619.2 961.8,619.2 962.4,620.2 963.0,620.4 963.6,620.3 964.2,620.6 964.8,621.6 965.4,622.3 966.0,622.8 966.6,622.6 967.2,622.9 967.8,623.6 968.4,623.6 969.0,623.8 969.6,623.9 970.2,624.0 970.8,624.9 971.4,625.4 972.0,625.7 972.6,626.1 973.2,626.6 973.8,627.2 974.4,627.3 975.0,627.3 975.6,627.4 976.2,628.1 976.8,628.3 977.4,628.2 978.0,628.7 978.6,629.2 979.2,629.9 979.8,630.5 980.4,630.6 981.0,630.7 981.6,631.1 982.2,631.2 982.8,631.7 983.4,632.4 984.0,632.8 984.6,632.7 985.2,632.9 985.8,633.9 986.4,634.0 987.0,634.7 987.6,635.2 988.2,635.4 988.8,635.5 989.4,636.1 990.0,636.2 990.6,636.7 991.2,637.2 991.8,637.4 992.4,637.6 993.0,637.8 993.6,637.8 994.2,638.1 994.8,638.3 995.4,638.2 996.0,638.6 996.6,638.9 997.2,639.1 997.8,638.9 998.4,639.6 999.0,640.1 999.6,640.5 1000.2,640.7 1000.8,640.5 1001.4,640.8 1002.0,640.8 1002.6,641.8 1003.2,641.7 1003.8,642.0 1004.4,641.7 1005.0,641.7 1005.6,642.0 1006.2,642.5 1006.8,642.9 1007.4,643.2 1008.0,642.9 1008.6,643.7 1009.2,643.6 1009.8,644.4 1010.4,645.1 1011.0,645.3 1011.6,645.5 1012.2,645.2 1012.8,646.1 1013.4,646.2 1014.0,646.5 1014.6,646.3 1015.2,646.5 1015.8,646.4 1016.4,646.7 1017.0,647.1 1017.6,647.4 1018.2,648.1 1018.8,648.3 1019.4,648.5 1020.0,648.7 1020.6,649.4 1021.2,649.2 1021.8,649.7 1022.4,649.3 1023.0,649.4 1023.6,649.9 1024.2,650.2 1024.8,651.3 1025.4,651.9 1026.0,651.3 1026.6,651.2 1027.2,651.5 1027.8,652.3 1028.4,652.7 1029.0,652.9 1029.6,652.7 1030.2,652.8 1030.8,652.5 1031.4,652.8 1032.0,653.6 1032.6,654.3 1033.2,654.3 1033.8,654.8 1034.4,655.7 1035.0,655.9 1035.6,656.1 1036.2,656.5 1036.8,656.9 1037.4,657.1 1038.0,657.2 1038.6,657.5 1039.2,657.9 1039.8,658.0 1040.4,658.8 1041.0,659.2 1041.6,659.7 1042.2,660.3 1042.8,660.7 1043.4,661.1 1044.0,661.1 1044.6,661.1 1045.2,661.9 1045.8,661.7 1046.4,661.8 1047.0,661.8 1047.6,662.3 1048.2,662.8 1048.8,663.3 1049.4,663.4 1050.0,663.2 1050.6,663.8 1051.2,664.4 1051.8,664.6 1052.4,664.8 1053.0,665.3 1053.6,665.9 1054.2,666.0 1054.8,665.8 1055.4,666.0 1056.0,666.4 1056.6,666.3 1057.2,667.0 1057.8,667.2 1058.4,667.7 1059.0,668.1 1059.6,668.3 1060.2,669.1 1060.8,669.0 1061.4,669.1 1062.0,669.6 1062.6,670.1 1063.2,670.3 1063.8,670.3 1064.4,670.8 1065.0,670.7 1065.6,670.4 1066.2,669.3 1066.8,668.5 1067.4,667.5 1068.0,666.4 1068.6,665.8 1069.2,664.7 1069.8,662.5 1070.4,660.5 1071.0,658.4 1071.6,657.0 1072.2,654.9 1072.8,653.2 1073.4,651.0 1074.0,649.2 1074.6,645.7 1075.2,641.3 1075.8,637.6 1076.4,634.0 1077.0,629.5 1077.6,626.0 1078.2,622.6 1078.8,619.1 1079.4,615.9 1080.0,612.2 1080.6,609.1 1081.2,608.9 1081.8,607.8 1082.4,607.2 1083.0,607.0 1083.6,606.2 1084.2,605.3 1084.8,604.4 1085.4,604.2 1086.0,603.9 1086.6,603.9 1087.2,603.1 1087.8,603.3 1088.4,602.9 1089.0,602.8 1089.6,602.2 1090.2,601.7 1090.8,601.4 1091.4,601.5 1092.0,602.6 1092.6,603.9 1093.2,605.2 1093.8,606.2 1094.4,607.0 1095.0,607.9 1095.6,609.1 1096.2,610.3 1096.8,611.2 1097.4,612.3 1098.0,613.3 1098.6,614.7 1099.2,616.1 1099.8,616.5 1100.4,618.0 1101.0,619.2 1101.6,620.0 1102.2,621.6 1102.8,622.9 1103.4,624.3 1104.0,625.2 1104.6,627.1 1105.2,628.2 1105.8,629.2 1106.4,631.1 1107.0,632.8 1107.6,634.4 1108.2,636.2 1108.8,637.1 1109.4,639.2 1110.0,640.7 1110.6,642.3 1111.2,644.2 1111.8,645.5 1112.4,647.2 1113.0,649.0 1113.6,650.6 1114.2,652.3 1114.8,653.3 1115.4,654.4 1116.0,655.6 1116.6,657.2 1117.2,659.5 1117.8,660.6 1118.4,661.6 1119.0,662.8 1119.6,664.3 1120.2,665.6 1120.8,666.5 1121.4,668.1 1122.0,669.3 1122.6,670.7 1123.2,671.4 1123.8,672.5 1124.4,674.1 1125.0,675.1 1125.6,676.7 1126.2,678.2 1126.8,679.5 1127.4,680.8 1128.0,681.7 1128.6,682.6 1129.2,683.2 1129.8,684.1 1130.4,685.7 1131.0,686.5 1131.6,687.2 1132.2,687.9 1132.8,688.4 1133.4,689.3 1134.0,690.0 1134.6,691.1 1135.2,691.7 1135.8,692.0 1136.4,692.9 1137.0,694.2 1137.6,695.7 1138.2,696.6 1138.8,696.9 1139.4,697.7 1140.0,698.2 1140.6,698.3 1141.2,698.3 1141.8,698.1 1142.4,698.6 1143.0,698.8 1143.6,698.9 1144.2,699.2 1144.8,699.8 1145.4,699.7 1146.0,699.6 1146.6,700.0 1147.2,699.8 1147.8,700.4 1148.4,700.6 1149.0,700.8 1149.6,701.2 1150.2,702.0 1150.8,702.1 1151.4,702.6 1152.0,702.9 1152.6,702.8 1153.2,703.5 1153.8,703.6 1154.4,703.6" fill="none" stroke="#00ff00" stroke-width="1.8" stroke-linejoin="round" clip-path="url(#c1)"/>
<polyline points="165.0,578.9 165.6,578.8 166.2,578.6 166.8,578.4 167.4,578.2 168.0,578.1 168.6,577.8 169.2,577.5 169.8,577.6 170.4,577.5 171.0,577.3 171.6,577.1 172.2,577.0 172.8,576.7 173.4,576.6 174.0,576.3 174.6,576.4 175.2,576.2 175.8,576.0 176.4,575.8 177.0,575.8 177.6,575.6 178.2,575.4 178.8,575.4 179.4,575.1 180.0,574.9 180.6,574.7 181.2,574.4 181.8,574.4 182.4,574.2 183.0,574.0 183.6,574.0 184.2,573.6 184.8,573.6 185.4,573.4 186.0,573.2 186.6,573.0 187.2,572.9 187.8,572.9 188.4,572.7 189.0,572.6 189.6,572.4 190.2,572.3 190.8,572.0 191.4,571.8 192.0,571.5 192.6,571.3 193.2,571.5 193.8,571.3 194.4,571.1 195.0,571.0 195.6,570.8 196.2,570.6 196.8,570.3 197.4,570.2 198.0,570.1 198.6,569.8 199.2,569.7 199.8,569.6 200.4,569.4 201.0,569.3 201.6,568.9 202.2,568.8 202.8,568.8 203.4,568.6 204.0,568.3 204.6,568.1 205.2,567.8 205.8,567.9 206.4,567.6 207.0,567.6 207.6,567.4 208.2,567.3 208.8,567.2 209.4,567.2 210.0,566.9 210.6,566.8 211.2,566.6 211.8,566.4 212.4,566.1 213.0,566.0 213.6,565.9 214.2,565.7 214.8,565.5 215.4,565.3 216.0,565.2 216.6,564.8 217.2,564.9 217.8,564.9 218.4,564.7 219.0,564.5 219.6,564.4 220.2,564.2 220.8,564.0 221.4,563.7 222.0,563.6 222.6,563.6 223.2,563.4 223.8,563.2 224.4,562.9 225.0,562.8 225.6,562.5 226.2,562.5 226.8,562.1 227.4,562.1 228.0,561.9 228.6,561.9 229.2,561.7 229.8,561.6 230.4,561.4 231.0,561.3 231.6,561.1 232.2,561.0 232.8,560.8 233.4,560.5 234.0,560.4 234.6,560.2 235.2,560.1 235.8,559.9 236.4,559.9 237.0,559.6 237.6,559.4 238.2,559.3 238.8,559.2 239.4,559.0 240.0,558.8 240.6,558.7 241.2,558.6 241.8,558.4 242.4,558.3 243.0,558.1 243.6,557.8 244.2,557.6 244.8,557.6 245.4,557.3 246.0,557.1 246.6,557.0 247.2,556.7 247.8,556.5 248.4,556.4 249.0,556.3 249.6,556.2 250.2,556.0 250.8,555.8 251.4,555.7 252.0,555.5 252.6,555.3 253.2,555.1 253.8,555.0 254.4,554.8 255.0,554.8 255.6,554.6 256.2,554.3 256.8,554.3 257.4,554.3 258.0,554.2 258.6,553.9 259.2,553.8 259.8,553.7 260.4,553.5 261.0,553.3 261.6,553.2 262.2,553.2 262.8,552.7 263.4,552.6 264.0,552.5 264.6,552.2 265.2,552.2 265.8,551.9 266.4,551.7 267.0,551.4 267.6,551.4 268.2,551.3 268.8,551.3 269.4,550.9 270.0,550.8 270.6,550.6 271.2,550.5 271.8,550.2 272.4,550.1 273.0,550.0 273.6,549.9 274.2,549.6 274.8,549.6 275.4,549.3 276.0,549.1 276.6,548.8 277.2,548.8 277.8,548.6 278.4,548.5 279.0,548.4 279.6,548.1 280.2,548.1 280.8,547.8 281.4,547.5 282.0,547.6 282.6,547.2 283.2,547.1 283.8,547.2 284.4,546.8 285.0,546.5 285.6,546.6 286.2,546.3 286.8,546.0 287.4,545.8 288.0,545.8 288.6,545.6 289.2,545.5 289.8,545.3 290.4,545.2 291.0,545.0 291.6,544.7 292.2,544.7 292.8,544.5 293.4,544.4 294.0,544.1 294.6,543.9 295.2,543.9 295.8,543.7 296.4,543.5 297.0,543.5 297.6,543.4 298.2,543.1 298.8,542.8 299.4,542.6 300.0,542.5 300.6,542.4 301.2,542.1 301.8,542.1 302.4,542.0 303.0,541.7 303.6,541.4 304.2,541.4 304.8,541.3 305.4,541.2 306.0,541.1 306.6,540.9 307.2,540.6 307.8,540.4 308.4,540.3 309.0,540.1 309.6,539.8 310.2,539.8 310.8,539.6 311.4,539.5 312.0,539.2 312.6,539.1 313.2,539.0 313.8,538.7 314.4,538.5 315.0,538.4 315.6,538.3 316.2,538.1 316.8,538.0 317.4,537.8 318.0,537.7 318.6,537.5 319.2,537.3 319.8,537.1 320.4,537.0 321.0,536.9 321.6,536.8 322.2,536.5 322.8,536.4 323.4,536.4 324.0,535.9 324.6,535.4 325.2,535.1 325.8,534.7 326.4,534.4 327.0,534.1 327.6,533.9 328.2,533.3 328.8,533.0 329.4,532.7 330.0,532.4 330.6,532.0 331.2,531.5 331.8,531.1 332.4,530.8 333.0,530.4 333.6,530.0 334.2,529.5 334.8,529.3 335.4,529.0 336.0,528.7 336.6,528.5 337.2,528.0 337.8,527.5 338.4,527.3 339.0,527.2 339.6,526.7 340.2,526.4 340.8,526.0 341.4,525.5 342.0,525.3 342.6,525.2 343.2,524.7 343.8,524.5 344.4,524.1 345.0,523.8 345.6,523.4 346.2,523.0 346.8,522.8 347.4,522.6 348.0,522.3 348.6,522.0 349.2,521.8 349.8,521.4 350.4,521.0 351.0,520.7 351.6,520.5 352.2,520.3 352.8,520.1 353.4,519.8 354.0,519.4 354.6,519.3 355.2,518.9 355.8,518.6 356.4,518.4 357.0,518.2 357.6,517.7 358.2,517.5 358.8,517.1 359.4,517.0 360.0,516.6 360.6,516.2 361.2,516.0 361.8,515.8 362.4,515.5 363.0,515.2 363.6,514.9 364.2,514.6 364.8,514.4 365.4,514.3 366.0,514.1 366.6,514.0 367.2,513.8 367.8,513.7 368.4,513.4 369.0,513.5 369.6,513.1 370.2,512.9 370.8,512.7 371.4,512.5 372.0,512.5 372.6,512.4 373.2,512.2 373.8,512.2 374.4,511.9 375.0,511.9 375.6,511.9 376.2,511.5 376.8,511.1 377.4,511.0 378.0,510.9 378.6,510.5 379.2,510.5 379.8,510.3 380.4,510.0 381.0,509.9 381.6,509.9 382.2,509.6 382.8,509.5 383.4,509.3 384.0,509.0 384.6,509.0 385.2,509.0 385.8,508.6 386.4,508.3 387.0,508.2 387.6,508.0 388.2,507.9 388.8,507.9 389.4,507.7 390.0,507.6 390.6,507.2 391.2,507.2 391.8,507.1 392.4,507.0 393.0,506.9 393.6,506.7 394.2,506.4 394.8,506.3 395.4,505.8 396.0,505.5 396.6,505.7 397.2,505.4 397.8,505.5 398.4,505.1 399.0,505.0 399.6,505.0 400.2,504.7 400.8,504.8 401.4,504.1 402.0,504.5 402.6,504.2 403.2,504.4 403.8,504.5 404.4,504.3 405.0,504.5 405.6,504.1 406.2,503.7 406.8,503.3 407.4,503.4 408.0,502.9 408.6,503.3 409.2,502.8 409.8,502.8 410.4,502.0 411.0,502.8 411.6,502.8 412.2,502.4 412.8,502.1 413.4,502.5 414.0,502.2 414.6,502.1 415.2,501.7 415.8,501.9 416.4,501.0 417.0,500.9 417.6,500.7 418.2,501.2 418.8,501.5 419.4,501.0 420.0,501.3 420.6,500.3 421.2,500.9 421.8,500.9 422.4,500.9 423.0,500.4 423.6,500.6 424.2,500.5 424.8,501.0 425.4,501.8 426.0,500.9 426.6,500.7 427.2,501.1 427.8,500.9 428.4,500.8 429.0,500.4 429.6,500.5 430.2,501.2 430.8,500.9 431.4,500.8 432.0,500.8 432.6,500.3 433.2,500.7 433.8,500.6 434.4,499.5 435.0,499.7 435.6,499.2 436.2,499.4 436.8,499.3 437.4,499.2 438.0,499.5 438.6,500.1 439.2,498.8 439.8,498.6 440.4,499.5 441.0,498.8 441.6,498.8 442.2,498.1 442.8,497.5 443.4,498.2 444.0,498.7 444.6,498.6 445.2,498.1 445.8,498.3 446.4,498.2 447.0,498.3 447.6,498.0 448.2,497.8 448.8,497.8 449.4,497.3 450.0,498.3 450.6,497.9 451.2,497.7 451.8,498.0 452.4,497.0 453.0,498.2 453.6,498.1 454.2,498.0 454.8,498.1 455.4,497.5 456.0,497.7 456.6,497.6 457.2,497.8 457.8,497.7 458.4,497.3 459.0,497.8 459.6,498.0 460.2,498.3 460.8,497.9 461.4,497.2 462.0,497.8 462.6,497.9 463.2,498.5 463.8,497.3 464.4,497.2 465.0,497.9 465.6,497.6 466.2,497.3 466.8,496.7 467.4,497.4 468.0,497.4 468.6,496.8 469.2,497.3 469.8,497.3 470.4,497.2 471.0,497.3 471.6,496.4 472.2,496.5 472.8,496.1 473.4,497.1 474.0,496.8 474.6,495.9 475.2,496.2 475.8,495.7 476.4,496.0 477.0,495.5 477.6,496.5 478.2,495.6 478.8,494.9 479.4,495.4 480.0,495.9 480.6,495.8 481.2,495.2 481.8,495.6 482.4,495.0 483.0,495.3 483.6,495.0 484.2,494.1 484.8,493.8 485.4,494.1 486.0,493.9 486.6,494.1 487.2,493.8 487.8,493.5 488.4,493.5 489.0,493.3 489.6,493.4 490.2,494.3 490.8,493.3 491.4,492.5 492.0,493.0 492.6,493.4 493.2,493.2 493.8,493.1 494.4,492.4 495.0,492.1 495.6,491.6 496.2,491.2 496.8,490.1 497.4,489.4 498.0,489.7 498.6,489.3 499.2,488.6 499.8,488.8 500.4,489.3 501.0,489.5 501.6,489.4 502.2,489.4 502.8,488.8 503.4,489.3 504.0,489.8 504.6,489.7 505.2,489.4 505.8,488.9 506.4,489.1 507.0,488.1 507.6,488.5 508.2,487.8 508.8,488.5 509.4,488.3 510.0,487.8 510.6,488.2 511.2,488.0 511.8,487.7 512.4,487.1 513.0,487.1 513.6,486.7 514.2,487.4 514.8,487.5 515.4,487.1 516.0,486.4 516.6,486.3 517.2,486.6 517.8,486.6 518.4,486.2 519.0,485.9 519.6,486.0 520.2,484.6 520.8,485.6 521.4,484.9 522.0,484.3 522.6,484.2 523.2,484.3 523.8,484.8 524.4,483.7 525.0,484.0 525.6,483.2 526.2,482.7 526.8,481.9 527.4,481.8 528.0,481.3 528.6,481.6 529.2,481.5 529.8,481.0 530.4,480.7 531.0,480.0 531.6,479.9 532.2,479.0 532.8,478.9 533.4,478.4 534.0,477.6 534.6,477.1 535.2,477.2 535.8,476.7 536.4,476.4 537.0,475.6 537.6,475.4 538.2,475.4 538.8,474.9 539.4,474.4 540.0,473.6 540.6,473.5 541.2,473.3 541.8,472.7 542.4,472.7 543.0,472.7 543.6,473.1 544.2,472.5 544.8,472.5 545.4,472.2 546.0,471.6 546.6,471.5 547.2,471.5 547.8,471.6 548.4,471.4 549.0,471.4 549.6,471.3 550.2,470.5 550.8,470.9 551.4,471.0 552.0,471.1 552.6,470.6 553.2,470.9 553.8,470.9 554.4,470.4 555.0,470.5 555.6,470.8 556.2,470.6 556.8,471.1 557.4,470.8 558.0,470.6 558.6,471.2 559.2,470.7 559.8,470.7 560.4,470.1 561.0,470.0 561.6,470.0 562.2,470.9 562.8,471.1 563.4,470.7 564.0,470.5 564.6,470.5 565.2,471.0 565.8,471.0 566.4,470.3 567.0,470.1 567.6,471.1 568.2,471.1 568.8,470.7 569.4,470.5 570.0,470.4 570.6,471.0 571.2,470.5 571.8,470.8 572.4,471.1 573.0,471.3 573.6,471.3 574.2,471.2 574.8,471.6 575.4,471.5 576.0,470.7 576.6,471.0 577.2,471.9 577.8,472.2 578.4,472.2 579.0,472.3 579.6,471.9 580.2,472.5 580.8,472.1 581.4,472.5 582.0,472.7 582.6,473.0 583.2,472.6 583.8,473.9 584.4,473.7 585.0,473.7 585.6,473.8 586.2,474.9 586.8,474.8 587.4,475.5 588.0,475.8 588.6,475.3 589.2,475.9 589.8,475.2 590.4,475.8 591.0,475.6 591.6,474.9 592.2,475.3 592.8,475.7 593.4,475.6 594.0,475.9 594.6,474.8 595.2,475.0 595.8,474.3 596.4,474.8 597.0,474.2 597.6,474.3 598.2,473.8 598.8,474.2 599.4,474.3 600.0,474.5 600.6,473.9 601.2,474.1 601.8,474.1 602.4,473.7 603.0,473.2 603.6,472.5 604.2,473.0 604.8,473.1 605.4,473.6 606.0,473.6 606.6,473.1 607.2,473.1 607.8,472.9 608.4,473.0 609.0,473.3 609.6,472.7 610.2,473.0 610.8,472.2 611.4,471.8 612.0,471.5 612.6,472.3 613.2,472.4 613.8,471.8 614.4,471.7 615.0,472.5 615.6,471.7 616.2,471.8 616.8,472.3 617.4,471.9 618.0,472.4 618.6,471.8 619.2,472.7 619.8,472.5 620.4,472.9 621.0,472.1 621.6,472.8 622.2,473.0 622.8,472.6 623.4,472.4 624.0,472.5 624.6,473.3 625.2,472.9 625.8,472.5 626.4,471.9 627.0,472.1 627.6,472.9 628.2,473.2 628.8,473.1 629.4,473.0 630.0,472.7 630.6,473.0 631.2,473.1 631.8,473.1 632.4,473.9 633.0,472.8 633.6,472.8 634.2,473.3 634.8,473.0 635.4,473.4 636.0,472.1 636.6,473.4 637.2,473.2 637.8,473.1 638.4,473.8 639.0,474.3 639.6,473.8 640.2,474.0 640.8,473.6 641.4,473.4 642.0,472.9 642.6,472.9 643.2,473.3 643.8,472.7 644.4,473.4 645.0,473.4 645.6,472.9 646.2,473.0 646.8,473.4 647.4,473.6 648.0,474.3 648.6,473.9 649.2,474.0 649.8,473.4 650.4,474.7 651.0,474.0 651.6,474.6 652.2,475.4 652.8,475.8 653.4,475.1 654.0,474.6 654.6,475.7 655.2,475.6 655.8,476.2 656.4,475.4 657.0,476.4 657.6,476.4 658.2,475.5 658.8,475.4 659.4,475.6 660.0,476.4 660.6,475.7 661.2,476.5 661.8,476.0 662.4,475.4 663.0,476.0 663.6,475.0 664.2,475.3 664.8,475.4 665.4,475.9 666.0,475.4 666.6,475.4 667.2,475.6 667.8,475.2 668.4,475.5 669.0,475.6 669.6,475.5 670.2,476.7 670.8,474.5 671.4,475.1 672.0,475.3 672.6,475.5 673.2,475.5 673.8,475.2 674.4,475.5 675.0,474.8 675.6,475.0 676.2,476.2 676.8,476.0 677.4,476.3 678.0,477.2 678.6,476.1 679.2,477.0 679.8,478.2 680.4,478.5 681.0,479.7 681.6,479.3 682.2,480.1 682.8,479.9 683.4,481.2 684.0,481.5 684.6,481.2 685.2,481.9 685.8,481.3 686.4,481.7 687.0,483.2 687.6,482.3 688.2,482.4 688.8,481.6 689.4,481.8 690.0,480.6 690.6,480.2 691.2,480.4 691.8,481.4 692.4,479.3 693.0,479.1 693.6,479.8 694.2,480.8 694.8,481.0 695.4,480.6 696.0,482.0 696.6,480.9 697.2,481.1 697.8,480.3 698.4,480.1 699.0,480.6 699.6,480.3 700.2,480.5 700.8,481.1 701.4,481.0 702.0,481.2 702.6,481.7 703.2,481.4 703.8,480.4 704.4,482.3 705.0,482.4 705.6,481.9 706.2,481.7 706.8,481.6 707.4,481.8 708.0,482.5 708.6,482.6 709.2,481.1 709.8,480.5 710.4,482.5 711.0,482.7 711.6,481.5 712.2,482.5 712.8,483.0 713.4,481.7 714.0,483.5 714.6,482.1 715.2,482.1 715.8,481.9 716.4,482.3 717.0,483.1 717.6,484.0 718.2,483.7 718.8,483.4 719.4,482.6 720.0,482.3 720.6,481.2 721.2,482.3 721.8,482.3 722.4,481.3 723.0,482.1 723.6,482.9 724.2,485.8 724.8,486.4 725.4,486.7 726.0,487.8 726.6,486.6 727.2,486.3 727.8,487.1 728.4,487.3 729.0,489.2 729.6,488.7 730.2,488.5 730.8,489.5 731.4,488.4 732.0,490.7 732.6,489.7 733.2,489.5 733.8,488.1 734.4,488.0 735.0,489.8 735.6,489.0 736.2,488.8 736.8,490.2 737.4,489.4 738.0,490.7 738.6,490.6 739.2,492.1 739.8,491.8 740.4,491.1 741.0,492.6 741.6,492.9 742.2,493.4 742.8,494.2 743.4,494.6 744.0,495.1 744.6,495.0 745.2,494.6 745.8,496.0 746.4,495.4 747.0,495.7 747.6,495.5 748.2,495.9 748.8,495.4 749.4,497.0 750.0,497.9 750.6,497.9 751.2,498.2 751.8,501.0 752.4,502.3 753.0,503.1 753.6,502.7 754.2,503.2 754.8,504.7 755.4,504.3 756.0,504.3 756.6,503.1 757.2,503.9 757.8,503.3 758.4,502.5 759.0,501.2 759.6,501.6 760.2,502.3 760.8,503.8 761.4,502.2 762.0,503.0 762.6,502.7 763.2,502.1 763.8,502.6 764.4,502.4 765.0,502.0 765.6,502.7 766.2,503.8 766.8,504.1 767.4,505.9 768.0,505.6 768.6,505.4 769.2,504.3 769.8,505.2 770.4,505.5 771.0,505.9 771.6,506.6 772.2,507.8 772.8,507.6 773.4,508.3 774.0,508.8 774.6,510.5 775.2,508.8 775.8,511.1 776.4,512.7 777.0,512.3 777.6,511.1 778.2,514.3 778.8,517.1 779.4,517.0 780.0,518.4 780.6,519.6 781.2,521.3 781.8,522.3 782.4,523.5 783.0,524.1 783.6,524.8 784.2,523.4 784.8,523.3 785.4,524.8 786.0,523.9 786.6,522.4 787.2,520.8 787.8,520.7 788.4,521.7 789.0,522.2 789.6,522.3 790.2,522.8 790.8,523.0 791.4,522.6 792.0,524.8 792.6,524.9 793.2,527.0 793.8,526.2 794.4,528.4 795.0,529.7 795.6,533.0 796.2,533.6 796.8,532.8 797.4,533.0 798.0,530.0 798.6,529.6 799.2,527.9 799.8,526.7 800.4,526.7 801.0,528.2 801.6,531.4 802.2,530.1 802.8,530.6 803.4,531.7 804.0,532.7 804.6,534.9 805.2,532.5 805.8,535.5 806.4,535.2 807.0,537.8 807.6,537.3 808.2,536.9 808.8,536.9 809.4,537.2 810.0,537.7 810.6,537.3 811.2,537.9 811.8,537.9 812.4,536.8 813.0,538.0 813.6,537.9 814.2,536.4 814.8,542.4 815.4,544.4 816.0,541.9 816.6,541.5 817.2,538.9 817.8,539.8 818.4,540.9 819.0,542.0 819.6,542.9 820.2,543.9 820.8,544.9 821.4,546.0 822.0,548.4 822.6,547.3 823.2,547.2 823.8,548.9 824.4,551.0 825.0,550.6 825.6,550.7 826.2,551.6 826.8,550.8 827.4,552.0 828.0,552.9 828.6,554.5 829.2,555.3 829.8,557.6 830.4,557.2 831.0,558.3 831.6,558.6 832.2,559.8 832.8,560.7 833.4,561.9 834.0,561.1 834.6,563.2 835.2,564.2 835.8,563.5 836.4,564.4 837.0,565.8 837.6,565.6 838.2,566.3 838.8,568.0 839.4,568.7 840.0,570.6 840.6,570.8 841.2,571.5 841.8,573.5 842.4,574.2 843.0,576.1 843.6,578.0 844.2,578.3 844.8,575.6 845.4,576.0 846.0,575.9 846.6,575.5 847.2,575.6 847.8,574.0 848.4,574.2 849.0,575.3 849.6,574.2 850.2,575.7 850.8,573.6 851.4,575.2 852.0,575.6 852.6,574.7 853.2,574.9 853.8,574.3 854.4,575.4 855.0,574.7 855.6,574.2 856.2,574.5 856.8,575.5 857.4,576.5 858.0,575.3 858.6,574.4 859.2,575.0 859.8,573.5 860.4,572.2 861.0,572.7 861.6,571.3 862.2,569.4 862.8,569.5 863.4,568.5 864.0,568.9 864.6,570.3 865.2,569.4 865.8,570.8 866.4,570.3 867.0,572.5 867.6,569.6 868.2,571.1 868.8,571.5 869.4,572.9 870.0,572.2 870.6,573.6 871.2,574.2 871.8,574.9 872.4,575.7 873.0,575.8 873.6,576.6 874.2,577.1 874.8,577.8 875.4,577.3 876.0,578.4 876.6,579.2 877.2,578.4 877.8,579.0 878.4,578.5 879.0,579.3 879.6,579.0 880.2,579.1 880.8,579.2 881.4,579.1 882.0,580.0 882.6,579.7 883.2,579.3 883.8,580.8 884.4,580.7 885.0,580.1 885.6,580.7 886.2,580.4 886.8,580.8 887.4,581.3 888.0,581.1 888.6,581.8 889.2,581.3 889.8,581.7 890.4,582.6 891.0,582.1 891.6,582.0 892.2,582.2 892.8,582.9 893.4,582.8 894.0,583.0 894.6,582.9 895.2,581.5 895.8,581.9 896.4,583.5 897.0,584.1 897.6,586.2 898.2,585.8 898.8,586.4 899.4,586.7 900.0,588.3 900.6,589.1 901.2,589.6 901.8,590.0 902.4,590.1 903.0,591.2 903.6,590.6 904.2,590.7 904.8,590.8 905.4,590.1 906.0,591.6 906.6,592.1 907.2,591.2 907.8,592.2 908.4,592.2 909.0,593.1 909.6,592.8 910.2,592.9 910.8,593.1 911.4,593.2 912.0,593.9 912.6,593.1 913.2,593.8 913.8,594.0 914.4,594.6 915.0,594.9 915.6,595.1 916.2,595.4 916.8,595.8 917.4,596.2 918.0,596.0 918.6,596.7 919.2,596.7 919.8,597.0 920.4,597.0 921.0,597.4 921.6,598.7 922.2,599.0 922.8,599.9 923.4,598.3 924.0,599.3 924.6,599.7 925.2,599.7 925.8,599.7 926.4,600.7 927.0,600.7 927.6,600.6 928.2,601.5 928.8,601.8 929.4,602.1 930.0,601.9 930.6,603.7 931.2,602.8 931.8,603.9 932.4,604.1 933.0,604.7 933.6,605.2 934.2,605.7 934.8,605.6 935.4,605.1 936.0,605.3 936.6,605.8 937.2,605.7 937.8,607.3 938.4,606.7 939.0,607.5 939.6,607.8 940.2,607.6 940.8,608.8 941.4,608.9 942.0,609.6 942.6,609.7 943.2,610.0 943.8,609.7 944.4,610.3 945.0,611.1 945.6,611.4 946.2,611.7 946.8,612.3 947.4,612.0 948.0,612.1 948.6,612.8 949.2,613.1 949.8,613.4 950.4,614.1 951.0,614.1 951.6,614.4 952.2,615.0 952.8,615.4 953.4,615.8 954.0,616.3 954.6,615.7 955.2,616.3 955.8,616.9 956.4,617.7 957.0,617.0 957.6,617.5 958.2,617.9 958.8,618.1 959.4,618.6 960.0,618.5 960.6,619.7 961.2,619.4 961.8,619.5 962.4,619.7 963.0,621.2 963.6,621.8 964.2,622.3 964.8,621.7 965.4,622.5 966.0,622.9 966.6,623.1 967.2,623.2 967.8,623.1 968.4,623.3 969.0,623.7 969.6,624.5 970.2,624.9 970.8,625.1 971.4,625.9 972.0,626.7 972.6,626.4 973.2,626.3 973.8,626.4 974.4,627.3 975.0,627.9 975.6,627.5 976.2,628.0 976.8,628.1 977.4,629.2 978.0,629.8 978.6,629.6 979.2,629.9 979.8,630.1 980.4,630.6 981.0,631.3 981.6,631.6 982.2,632.1 982.8,632.0 983.4,632.0 984.0,632.9 984.6,633.1 985.2,633.9 985.8,634.4 986.4,634.9 987.0,634.9 987.6,635.6 988.2,635.7 988.8,635.8 989.4,636.4 990.0,636.2 990.6,637.5 991.2,637.2 991.8,637.4 992.4,638.3 993.0,637.7 993.6,637.8 994.2,638.3 994.8,638.5 995.4,638.9 996.0,638.8 996.6,639.5 997.2,639.8 997.8,640.3 998.4,640.3 999.0,640.4 999.6,640.8 1000.2,640.1 1000.8,641.3 1001.4,641.4 1002.0,641.2 1002.6,640.6 1003.2,641.5 1003.8,641.5 1004.4,642.4 1005.0,642.6 1005.6,642.8 1006.2,642.4 1006.8,643.2 1007.4,643.0 1008.0,643.8 1008.6,644.7 1009.2,644.6 1009.8,645.1 1010.4,644.7 1011.0,645.5 1011.6,645.4 1012.2,646.1 1012.8,645.6 1013.4,646.1 1014.0,645.6 1014.6,646.3 1015.2,646.7 1015.8,646.8 1016.4,647.2 1017.0,647.8 1017.6,648.0 1018.2,648.0 1018.8,648.7 1019.4,649.0 1020.0,649.2 1020.6,648.7 1021.2,649.2 1021.8,649.5 1022.4,649.6 1023.0,650.9 1023.6,651.2 1024.2,651.1 1024.8,650.6 1025.4,651.1 1026.0,652.0 1026.6,652.2 1027.2,652.4 1027.8,652.1 1028.4,652.4 1029.0,652.0 1029.6,652.4 1030.2,653.0 1030.8,654.2 1031.4,653.5 1032.0,654.4 1032.6,654.7 1033.2,655.3 1033.8,655.7 1034.4,655.6 1035.0,656.6 1035.6,656.2 1036.2,656.4 1036.8,656.9 1037.4,656.9 1038.0,657.6 1038.6,658.2 1039.2,657.9 1039.8,658.6 1040.4,659.4 1041.0,660.0 1041.6,660.0 1042.2,660.2 1042.8,660.6 1043.4,660.9 1044.0,661.1 1044.6,660.8 1045.2,661.4 1045.8,662.0 1046.4,661.8 1047.0,662.1 1047.6,662.4 1048.2,662.9 1048.8,663.0 1049.4,664.0 1050.0,663.7 1050.6,664.0 1051.2,664.6 1051.8,665.4 1052.4,665.3 1053.0,665.0 1053.6,665.5 1054.2,665.8 1054.8,665.9 1055.4,666.4 1056.0,666.5 1056.6,667.1 1057.2,666.9 1057.8,667.8 1058.4,668.7 1059.0,668.6 1059.6,668.3 1060.2,668.6 1060.8,669.7 1061.4,669.5 1062.0,669.7 1062.6,670.3 1063.2,670.5 1063.8,671.3 1064.4,671.7 1065.0,670.9 1065.6,670.5 1066.2,669.1 1066.8,668.4 1067.4,668.1 1068.0,667.1 1068.6,666.3 1069.2,664.6 1069.8,662.9 1070.4,661.3 1071.0,659.2 1071.6,656.9 1072.2,655.4 1072.8,653.3 1073.4,650.8 1074.0,649.2 1074.6,646.3 1075.2,642.2 1075.8,638.0 1076.4,633.8 1077.0,629.9 1077.6,626.5 1078.2,622.6 1078.8,619.5 1079.4,616.8 1080.0,613.1 1080.6,609.6 1081.2,609.4 1081.8,608.4 1082.4,607.5 1083.0,606.7 1083.6,605.9 1084.2,605.6 1084.8,605.0 1085.4,604.2 1086.0,604.4 1086.6,604.0 1087.2,603.7 1087.8,603.3 1088.4,602.7 1089.0,602.9 1089.6,601.9 1090.2,602.0 1090.8,602.2 1091.4,602.2 1092.0,603.2 1092.6,604.0 1093.2,604.7 1093.8,606.6 1094.4,607.5 1095.0,608.1 1095.6,609.2 1096.2,610.2 1096.8,611.3 1097.4,612.6 1098.0,613.4 1098.6,614.5 1099.2,615.8 1099.8,616.8 1100.4,618.1 1101.0,619.6 1101.6,620.8 1102.2,622.5 1102.8,623.6 1103.4,625.0 1104.0,625.7 1104.6,627.2 1105.2,628.6 1105.8,629.8 1106.4,631.4 1107.0,632.4 1107.6,634.7 1108.2,636.4 1108.8,638.1 1109.4,639.5 1110.0,641.2 1110.6,642.9 1111.2,644.2 1111.8,645.8 1112.4,647.6 1113.0,649.2 1113.6,650.3 1114.2,651.8 1114.8,653.9 1115.4,655.7 1116.0,656.8 1116.6,658.1 1117.2,659.2 1117.8,660.1 1118.4,661.7 1119.0,663.0 1119.6,664.1 1120.2,665.9 1120.8,667.0 1121.4,667.9 1122.0,669.0 1122.6,670.1 1123.2,671.4 1123.8,672.9 1124.4,674.6 1125.0,676.2 1125.6,677.2 1126.2,678.6 1126.8,679.5 1127.4,680.9 1128.0,681.7 1128.6,683.2 1129.2,684.2 1129.8,685.1 1130.4,685.6 1131.0,686.2 1131.6,686.7 1132.2,687.9 1132.8,688.8 1133.4,689.0 1134.0,689.8 1134.6,690.6 1135.2,692.1 1135.8,693.4 1136.4,694.2 1137.0,695.0 1137.6,695.4 1138.2,696.0 1138.8,696.9 1139.4,697.7 1140.0,698.0 1140.6,698.7 1141.2,698.9 1141.8,698.8 1142.4,698.8 1143.0,699.9 1143.6,699.9 1144.2,699.7 1144.8,700.0 1145.4,699.8 1146.0,699.8 1146.6,700.2 1147.2,700.0 1147.8,700.4 1148.4,701.3 1149.0,701.3 1149.6,702.0 1150.2,702.6 1150.8,702.2 1151.4,703.0 1152.0,703.3 1152.6,703.3 1153.2,703.3 1153.8,703.5 1154.4,704.6" fill="none" stroke="#0000ff" stroke-width="1.85" stroke-linejoin="round" clip-path="url(#c1)"/>
<polyline points="165.0,578.4 165.6,578.3 166.2,578.2 166.8,578.1 167.4,577.9 168.0,577.8 168.6,577.7 169.2,577.4 169.8,577.3 170.4,577.1 171.0,576.8 171.6,576.8 172.2,576.7 172.8,576.5 173.4,576.3 174.0,576.2 174.6,576.0 175.2,575.9 175.8,575.6 176.4,575.5 177.0,575.4 177.6,575.3 178.2,574.9 178.8,575.0 179.4,574.8 180.0,574.6 180.6,574.6 181.2,574.4 181.8,574.0 182.4,573.9 183.0,573.5 183.6,573.6 184.2,573.4 184.8,573.2 185.4,573.2 186.0,572.8 186.6,572.8 187.2,572.4 187.8,572.3 188.4,572.1 189.0,572.2 189.6,572.2 190.2,571.9 190.8,571.8 191.4,571.6 192.0,571.5 192.6,571.2 193.2,570.9 193.8,570.6 194.4,570.6 195.0,570.7 195.6,570.5 196.2,570.3 196.8,570.3 197.4,570.1 198.0,569.8 198.6,569.7 199.2,569.5 199.8,569.3 200.4,569.0 201.0,568.9 201.6,568.8 202.2,568.7 202.8,568.5 203.4,568.1 204.0,568.0 204.6,568.1 205.2,567.8 205.8,567.6 206.4,567.3 207.0,567.1 207.6,567.0 208.2,566.8 208.8,566.9 209.4,566.7 210.0,566.5 210.6,566.5 211.2,566.4 211.8,566.2 212.4,566.0 213.0,565.8 213.6,565.6 214.2,565.3 214.8,565.2 215.4,565.1 216.0,565.0 216.6,564.7 217.2,564.5 217.8,564.3 218.4,564.2 219.0,564.2 219.6,564.1 220.2,564.0 220.8,563.8 221.4,563.6 222.0,563.4 222.6,563.2 223.2,562.9 223.8,562.8 224.4,562.9 225.0,562.7 225.6,562.4 226.2,562.2 226.8,561.9 227.4,561.8 228.0,561.7 228.6,561.4 229.2,561.4 229.8,561.2 230.4,561.2 231.0,561.0 231.6,561.0 232.2,560.7 232.8,560.5 233.4,560.3 234.0,560.2 234.6,560.1 235.2,559.8 235.8,559.6 236.4,559.5 237.0,559.3 237.6,559.1 238.2,559.1 238.8,558.9 239.4,558.6 240.0,558.5 240.6,558.4 241.2,558.2 241.8,558.1 242.4,558.0 243.0,557.8 243.6,557.7 244.2,557.5 244.8,557.3 245.4,557.1 246.0,556.9 246.6,556.8 247.2,556.5 247.8,556.2 248.4,556.2 249.0,555.9 249.6,555.7 250.2,555.7 250.8,555.5 251.4,555.5 252.0,555.3 252.6,555.0 253.2,554.8 253.8,554.7 254.4,554.6 255.0,554.4 255.6,554.3 256.2,554.0 256.8,553.9 257.4,553.7 258.0,553.6 258.6,553.6 259.2,553.5 259.8,553.5 260.4,553.1 261.0,553.0 261.6,553.0 262.2,552.8 262.8,552.5 263.4,552.4 264.0,552.4 264.6,552.0 265.2,551.9 265.8,551.8 266.4,551.5 267.0,551.4 267.6,551.1 268.2,550.9 268.8,550.7 269.4,550.6 270.0,550.4 270.6,550.4 271.2,550.1 271.8,550.0 272.4,549.9 273.0,549.8 273.6,549.4 274.2,549.4 274.8,549.1 275.4,549.0 276.0,548.9 276.6,548.8 277.2,548.6 277.8,548.2 278.4,548.0 279.0,548.0 279.6,547.8 280.2,547.8 280.8,547.6 281.4,547.3 282.0,547.3 282.6,547.0 283.2,546.7 283.8,546.8 284.4,546.4 285.0,546.3 285.6,546.3 286.2,546.1 286.8,545.7 287.4,545.7 288.0,545.4 288.6,545.2 289.2,545.1 289.8,545.0 290.4,544.9 291.0,544.8 291.6,544.6 292.2,544.4 292.8,544.1 293.4,544.0 294.0,543.9 294.6,543.7 295.2,543.6 295.8,543.4 296.4,543.2 297.0,543.0 297.6,542.9 298.2,542.8 298.8,542.6 299.4,542.6 300.0,542.3 300.6,542.1 301.2,541.8 301.8,541.7 302.4,541.6 303.0,541.4 303.6,541.2 304.2,541.1 304.8,541.0 305.4,540.7 306.0,540.7 306.6,540.5 307.2,540.4 307.8,540.3 308.4,540.2 309.0,539.9 309.6,539.6 310.2,539.5 310.8,539.3 311.4,539.0 312.0,539.0 312.6,538.8 313.2,538.7 313.8,538.4 314.4,538.4 315.0,538.2 315.6,538.0 316.2,537.7 316.8,537.6 317.4,537.5 318.0,537.3 318.6,537.2 319.2,537.1 319.8,537.0 320.4,536.7 321.0,536.5 321.6,536.3 322.2,536.3 322.8,536.2 323.4,536.0 324.0,535.4 324.6,535.1 325.2,534.9 325.8,534.5 326.4,534.1 327.0,533.8 327.6,533.3 328.2,533.1 328.8,532.7 329.4,532.5 330.0,532.1 330.6,531.6 331.2,531.3 331.8,531.1 332.4,530.6 333.0,530.2 333.6,529.6 334.2,529.5 334.8,529.1 335.4,528.6 336.0,528.1 336.6,527.9 337.2,527.7 337.8,527.4 338.4,527.1 339.0,526.6 339.6,526.2 340.2,526.0 340.8,525.7 341.4,525.3 342.0,525.1 342.6,524.6 343.2,524.2 343.8,524.0 344.4,523.9 345.0,523.5 345.6,523.4 346.2,522.9 346.8,522.6 347.4,522.3 348.0,521.8 348.6,521.6 349.2,521.5 349.8,521.2 350.4,520.9 351.0,520.7 351.6,520.2 352.2,519.8 352.8,519.6 353.4,519.2 354.0,519.2 354.6,518.9 355.2,518.5 355.8,518.2 356.4,518.2 357.0,517.8 357.6,517.4 358.2,517.2 358.8,517.0 359.4,516.7 360.0,516.3 360.6,515.9 361.2,515.7 361.8,515.5 362.4,515.0 363.0,514.9 363.6,514.7 364.2,514.4 364.8,514.2 365.4,514.1 366.0,513.9 366.6,513.6 367.2,513.5 367.8,513.2 368.4,513.2 369.0,512.9 369.6,512.8 370.2,512.7 370.8,512.7 371.4,512.4 372.0,512.1 372.6,511.9 373.2,511.7 373.8,511.6 374.4,511.5 375.0,511.4 375.6,511.4 376.2,511.1 376.8,511.2 377.4,511.1 378.0,510.8 378.6,510.3 379.2,510.2 379.8,510.0 380.4,509.6 381.0,509.6 381.6,509.5 382.2,509.2 382.8,509.2 383.4,509.1 384.0,508.9 384.6,508.7 385.2,508.5 385.8,508.3 386.4,508.2 387.0,508.1 387.6,507.9 388.2,507.5 388.8,507.5 389.4,507.2 390.0,507.2 390.6,507.2 391.2,507.0 391.8,506.7 392.4,506.4 393.0,506.5 393.6,506.3 394.2,506.2 394.8,506.1 395.4,505.9 396.0,505.7 396.6,505.4 397.2,504.9 397.8,504.7 398.4,504.7 399.0,504.6 399.6,504.6 400.2,504.5 400.8,504.4 401.4,504.5 402.0,504.1 402.6,504.0 403.2,503.5 403.8,503.8 404.4,503.7 405.0,503.7 405.6,503.9 406.2,503.9 406.8,503.6 407.4,503.5 408.0,502.8 408.6,502.9 409.2,502.8 409.8,502.1 410.4,502.6 411.0,502.2 411.6,502.4 412.2,502.1 412.8,502.3 413.4,502.5 414.0,501.8 414.6,501.2 415.2,501.2 415.8,501.5 416.4,501.3 417.0,501.1 417.6,501.3 418.2,500.3 418.8,500.4 419.4,500.2 420.0,500.6 420.6,500.5 421.2,500.3 421.8,500.4 422.4,500.1 423.0,500.4 423.6,500.3 424.2,500.3 424.8,500.2 425.4,500.7 426.0,500.6 426.6,500.7 427.2,500.8 427.8,500.4 428.4,500.5 429.0,500.6 429.6,500.6 430.2,500.3 430.8,500.1 431.4,500.4 432.0,500.9 432.6,500.2 433.2,500.2 433.8,499.9 434.4,500.0 435.0,499.9 435.6,500.1 436.2,498.8 436.8,498.7 437.4,498.5 438.0,498.7 438.6,498.5 439.2,498.4 439.8,498.7 440.4,499.3 441.0,498.0 441.6,498.0 442.2,498.2 442.8,498.2 443.4,498.0 444.0,497.5 444.6,497.4 445.2,497.8 445.8,498.1 446.4,497.9 447.0,497.5 447.6,497.5 448.2,497.5 448.8,497.7 449.4,497.7 450.0,497.4 450.6,497.5 451.2,497.1 451.8,497.6 452.4,498.0 453.0,497.4 453.6,497.6 454.2,497.2 454.8,497.7 455.4,497.9 456.0,497.7 456.6,497.9 457.2,497.6 457.8,497.3 458.4,497.2 459.0,497.2 459.6,497.2 460.2,497.3 460.8,497.2 461.4,497.5 462.0,497.8 462.6,497.5 463.2,496.9 463.8,497.3 464.4,497.7 465.0,497.4 465.6,496.9 466.2,497.1 466.8,497.6 467.4,496.7 468.0,497.0 468.6,496.9 469.2,496.6 469.8,496.9 470.4,496.4 471.0,496.7 471.6,497.2 472.2,497.1 472.8,496.6 473.4,496.0 474.0,495.7 474.6,495.3 475.2,496.2 475.8,496.0 476.4,495.5 477.0,495.1 477.6,494.9 478.2,494.9 478.8,494.6 479.4,495.4 480.0,494.9 480.6,494.5 481.2,494.7 481.8,495.1 482.4,495.3 483.0,494.7 483.6,494.6 484.2,494.5 484.8,494.5 485.4,494.4 486.0,493.8 486.6,493.3 487.2,493.5 487.8,493.1 488.4,493.8 489.0,493.6 489.6,493.1 490.2,493.0 490.8,492.9 491.4,492.9 492.0,493.2 492.6,492.5 493.2,491.9 493.8,492.3 494.4,492.1 495.0,491.8" fill="none" stroke="#00ff00" stroke-width="1.9" stroke-linejoin="round" clip-path="url(#c1)"/>
<g stroke="#262626" stroke-width="1" fill="none" shape-rendering="crispEdges">
<rect x="165.5" y="453.5" width="989.0" height="303.0"/>
<line x1="412.5" y1="453.5" x2="412.5" y2="464.0"/><line x1="412.5" y1="756.5" x2="412.5" y2="746.0"/>
<line x1="660.5" y1="453.5" x2="660.5" y2="464.0"/><line x1="660.5" y1="756.5" x2="660.5" y2="746.0"/>
<line x1="907.5" y1="453.5" x2="907.5" y2="464.0"/><line x1="907.5" y1="756.5" x2="907.5" y2="746.0"/>
<line x1="165.5" y1="513.5" x2="176.0" y2="513.5"/><line x1="1154.5" y1="513.5" x2="1144.0" y2="513.5"/>
<line x1="165.5" y1="574.5" x2="176.0" y2="574.5"/><line x1="1154.5" y1="574.5" x2="1144.0" y2="574.5"/>
<line x1="165.5" y1="635.5" x2="176.0" y2="635.5"/><line x1="1154.5" y1="635.5" x2="1144.0" y2="635.5"/>
<line x1="165.5" y1="695.5" x2="176.0" y2="695.5"/><line x1="1154.5" y1="695.5" x2="1144.0" y2="695.5"/>
</g>
<g font-size="22.07" fill="#262626">
<text x="95.38" y="460.00" textLength="7.52" lengthAdjust="spacingAndGlyphs">-</text>
<text x="102.90" y="460.00" textLength="53.00" lengthAdjust="spacingAndGlyphs">3000</text>
</g>
<g font-size="22.07" fill="#262626">
<text x="95.38" y="520.60" textLength="7.52" lengthAdjust="spacingAndGlyphs">-</text>
<text x="102.90" y="520.60" textLength="53.00" lengthAdjust="spacingAndGlyphs">3500</text>
</g>
<g font-size="22.07" fill="#262626">
<text x="95.38" y="581.20" textLength="7.52" lengthAdjust="spacingAndGlyphs">-</text>
<text x="102.90" y="581.20" textLength="53.00" lengthAdjust="spacingAndGlyphs">4000</text>
</g>
<g font-size="22.07" fill="#262626">
<text x="95.38" y="641.80" textLength="7.52" lengthAdjust="spacingAndGlyphs">-</text>
<text x="102.90" y="641.80" textLength="53.00" lengthAdjust="spacingAndGlyphs">4500</text>
</g>
<g font-size="22.07" fill="#262626">
<text x="95.38" y="702.40" textLength="7.52" lengthAdjust="spacingAndGlyphs">-</text>
<text x="102.90" y="702.40" textLength="53.00" lengthAdjust="spacingAndGlyphs">5000</text>
</g>
<g font-size="22.07" fill="#262626">
<text x="95.38" y="763.00" textLength="7.52" lengthAdjust="spacingAndGlyphs">-</text>
<text x="102.90" y="763.00" textLength="53.00" lengthAdjust="spacingAndGlyphs">5500</text>
</g>
<g font-size="19.47" font-weight="bold" stroke="#262626" stroke-width="0.5" fill="#262626" transform="rotate(-90 56.50 605.80)">
<text x="-31.00" y="605.80" textLength="41.02" lengthAdjust="spacingAndGlyphs">CRF</text>
<text x="16.55" y="605.80" textLength="127.45" lengthAdjust="spacingAndGlyphs">Coordinates</text>
</g>
<g font-size="19.47" font-weight="bold" stroke="#262626" stroke-width="0.5" fill="#262626" transform="rotate(-90 83.00 605.80)">
<text x="44.68" y="605.80" textLength="26.84" lengthAdjust="spacingAndGlyphs">BY</text>
<text x="78.05" y="605.80" textLength="8.56" lengthAdjust="spacingAndGlyphs">(</text>
<text x="86.62" y="605.80" textLength="26.14" lengthAdjust="spacingAndGlyphs">nT</text>
<text x="112.76" y="605.80" textLength="8.56" lengthAdjust="spacingAndGlyphs">)</text>
</g>
<g font-size="17.31" font-weight="bold" stroke="#000" stroke-width="0.5" fill="#000" transform="rotate(-90 1176.20 666.40)">
<text x="1176.20" y="666.40" textLength="72.80" lengthAdjust="spacingAndGlyphs">Inboard</text>
<text x="1254.79" y="666.40" textLength="12.70" lengthAdjust="spacingAndGlyphs">B</text>
</g>
<g font-size="17.31" font-weight="bold" stroke="#000" stroke-width="0.5" fill="#000" transform="rotate(-90 1196.00 666.40)">
<text x="1196.00" y="666.40" textLength="88.72" lengthAdjust="spacingAndGlyphs">Outboard</text>
<text x="1290.52" y="666.40" textLength="12.70" lengthAdjust="spacingAndGlyphs">B</text>
</g>
<g font-size="17.31" font-weight="bold" stroke="#000" stroke-width="0.5" fill="#000" transform="rotate(-90 1215.20 666.40)">
<text x="1215.20" y="666.40" textLength="56.94" lengthAdjust="spacingAndGlyphs">Model</text>
<text x="1277.93" y="666.40" textLength="12.70" lengthAdjust="spacingAndGlyphs">B</text>
</g>
<rect x="1170.9" y="694.9" width="2.1" height="18.0" fill="#0000ff"/>
<rect x="1189.85" y="694.9" width="2.1" height="18.0" fill="#00ff00"/>
<rect x="1210.05" y="694.9" width="2.1" height="18.0" fill="#ff0000"/>
<clipPath id="c2"><rect x="165.5" y="797.5" width="989.0" height="309.0"/></clipPath>
<rect x="576" y="799" width="15" height="251.0" fill="#d8d8d8"/>
<rect x="723" y="799" width="8" height="251.0" fill="#d8d8d8"/>
<rect x="933" y="799" width="9" height="251.0" fill="#d8d8d8"/>
<rect x="988" y="799" width="8" height="251.0" fill="#d8d8d8"/>
<rect x="1062" y="799" width="25" height="251.0" fill="#d8d8d8"/>
<rect x="1103" y="799" width="8" height="251.0" fill="#d8d8d8"/>
<rect x="1134" y="799" width="8" height="251.0" fill="#d8d8d8"/>
<polyline points="165.5,1052.2 167.5,1049.4 169.5,1046.7 171.5,1044.0 173.5,1041.4 175.5,1038.8 177.5,1036.3 179.5,1033.8 181.5,1031.4 183.5,1029.1 185.5,1026.8 187.5,1024.6 189.5,1022.4 191.5,1020.2 193.5,1018.0 195.5,1015.9 197.5,1013.8 199.5,1011.7 201.5,1009.6 203.5,1007.5 205.5,1005.5 207.5,1003.4 209.5,1001.4 211.5,999.4 213.5,997.4 215.5,995.4 217.5,993.5 219.5,991.6 221.5,989.7 223.5,987.8 225.5,985.9 227.5,984.1 229.5,982.2 231.5,980.4 233.5,978.6 235.5,976.8 237.5,975.1 239.5,973.3 241.5,971.6 243.5,969.9 245.5,968.3 247.5,966.6 249.5,964.9 251.5,963.3 253.5,961.7 255.5,960.1 257.5,958.6 259.5,957.1 261.5,955.6 263.5,954.2 265.5,952.8 267.5,951.4 269.5,950.1 271.5,948.8 273.5,947.5 275.5,946.2 277.5,945.0 279.5,943.7 281.5,942.5 283.5,941.3 285.5,940.2 287.5,939.0 289.5,937.9 291.5,936.8 293.5,935.7 295.5,934.6 297.5,933.6 299.5,932.5 301.5,931.5 303.5,930.4 305.5,929.4 307.5,928.4 309.5,927.3 311.5,926.3 313.5,925.3 315.5,924.3 317.5,923.3 319.5,922.4 321.5,921.4 323.5,920.5 325.5,919.5 327.5,918.6 329.5,917.6 331.5,916.7 333.5,915.8 335.5,914.9 337.5,914.0 339.5,913.1 341.5,912.3 343.5,911.5 345.5,910.6 347.5,909.8 349.5,909.0 351.5,908.2 353.5,907.4 355.5,906.6 357.5,905.9 359.5,905.1 361.5,904.4 363.5,903.8 365.5,903.2 367.5,902.5 369.5,902.0 371.5,901.4 373.5,900.8 375.5,900.3 377.5,899.8 379.5,899.3 381.5,898.8 383.5,898.3 385.5,897.9 387.5,897.4 389.5,897.0 391.5,896.6 393.5,896.2 395.5,895.8 397.5,895.4 399.5,895.0 401.5,894.7 403.5,894.4 405.5,894.0 407.5,893.7 409.5,893.4 411.5,893.1 413.5,892.7 415.5,892.4 417.5,892.2 419.5,891.9 421.5,891.7 423.5,891.5 425.5,891.2 427.5,891.0 429.5,890.8 431.5,890.6 433.5,890.3 435.5,890.1 437.5,889.9 439.5,889.6 441.5,889.4 443.5,889.2 445.5,889.0 447.5,888.8 449.5,888.6 451.5,888.5 453.5,888.3 455.5,888.2 457.5,888.0 459.5,887.9 461.5,887.7 463.5,887.6 465.5,887.5 467.5,887.4 469.5,887.3 471.5,887.2 473.5,887.1 475.5,887.0 477.5,886.9 479.5,886.8 481.5,886.7 483.5,886.6 485.5,886.5 487.5,886.4 489.5,886.4 491.5,885.8 493.5,885.7 495.5,885.7 497.5,885.6 499.5,885.5 501.5,885.5 503.5,885.4 505.5,885.3 507.5,885.3 509.5,885.2 511.5,885.1 513.5,885.1 515.5,885.0 517.5,884.9 519.5,884.9 521.5,884.8 523.5,884.7 525.5,884.7 527.5,884.6 529.5,884.5 531.5,884.5 533.5,884.4 535.5,884.3 537.5,884.2 539.5,884.2 541.5,884.1 543.5,884.0 545.5,884.0 547.5,883.9 549.5,883.8 551.5,883.7 553.5,883.6 555.5,883.6 557.5,883.5 559.5,883.4 561.5,883.3 563.5,883.3 565.5,883.2 567.5,883.1 569.5,883.0 571.5,882.9 573.5,882.9 575.5,882.8 577.5,882.7 579.5,882.6 581.5,882.5 583.5,882.4 585.5,882.3 587.5,882.2 589.5,882.1 591.5,881.9 593.5,881.8 595.5,881.7 597.5,881.6 599.5,881.5 601.5,881.3 603.5,881.2 605.5,881.1 607.5,880.9 609.5,880.8 611.5,880.7 613.5,880.5 615.5,880.4 617.5,880.2 619.5,880.1 621.5,880.0 623.5,879.8 625.5,879.7 627.5,879.5 629.5,879.4 631.5,879.2 633.5,879.1 635.5,878.9 637.5,878.7 639.5,878.6 641.5,878.4 643.5,878.2 645.5,878.0 647.5,877.9 649.5,877.7 651.5,877.5 653.5,877.3 655.5,877.1 657.5,877.0 659.5,876.8 661.5,876.6 663.5,876.4 665.5,876.2 667.5,876.0 669.5,875.8 671.5,875.6 673.5,875.4 675.5,875.2 677.5,875.0 679.5,874.8 681.5,874.6 683.5,874.4 685.5,874.2 687.5,874.0 689.5,873.8 691.5,873.6 693.5,873.4 695.5,873.2 697.5,873.0 699.5,872.8 701.5,872.5 703.5,872.3 705.5,872.0 707.5,871.8 709.5,871.5 711.5,871.3 713.5,871.0 715.5,870.7 717.5,870.4 719.5,870.1 721.5,869.8 723.5,869.5 725.5,869.2 727.5,868.8 729.5,868.5 731.5,868.1 733.5,867.7 735.5,867.3 737.5,866.9 739.5,866.5 741.5,866.1 743.5,865.7 745.5,865.3 747.5,865.0 749.5,864.6 751.5,864.2 753.5,863.8 755.5,863.4 757.5,863.1 759.5,862.7 761.5,862.4 763.5,862.1 765.5,861.8 767.5,861.4 769.5,861.1 771.5,860.8 773.5,860.4 775.5,860.1 777.5,859.7 779.5,859.3 781.5,858.9 783.5,858.5 785.5,858.0 787.5,857.6 789.5,857.1 791.5,856.6 793.5,856.1 795.5,855.6 797.5,855.1 799.5,854.6 801.5,854.1 803.5,853.6 805.5,853.2 807.5,852.7 809.5,852.2 811.5,851.8 813.5,851.3 815.5,850.9 817.5,850.5 819.5,850.1 821.5,849.6 823.5,849.2 825.5,848.8 827.5,848.4 829.5,848.0 831.5,847.6 833.5,847.2 835.5,846.8 837.5,846.4 839.5,846.1 841.5,845.7 843.5,845.4 845.5,845.0 847.5,844.7 849.5,844.3 851.5,844.0 853.5,843.7 855.5,843.4 857.5,843.0 859.5,842.7 861.5,842.4 863.5,842.1 865.5,841.9 867.5,841.6 869.5,841.3 871.5,841.1 873.5,840.9 875.5,840.6 877.5,840.4 879.5,840.2 881.5,840.0 883.5,839.8 885.5,839.6 887.5,839.4 889.5,839.2 891.5,839.0 893.5,838.8 895.5,838.7 897.5,838.5 899.5,838.4 901.5,838.3 903.5,838.2 905.5,838.1 907.5,838.0 909.5,838.0 911.5,837.9 913.5,837.9 915.5,837.8 917.5,837.7 919.5,837.7 921.5,837.7 923.5,837.6 925.5,837.6 927.5,837.6 929.5,837.6 931.5,837.6 933.5,837.7 935.5,837.7 937.5,837.8 939.5,837.9 941.5,838.1 943.5,838.2 945.5,838.3 947.5,838.5 949.5,838.7 951.5,838.8 953.5,839.0 955.5,839.2 957.5,839.4 959.5,839.6 961.5,839.9 963.5,840.2 965.5,840.5 967.5,840.8 969.5,841.1 971.5,841.5 973.5,841.9 975.5,842.2 977.5,842.6 979.5,843.0 981.5,843.4 983.5,843.9 985.5,844.3 987.5,844.9 989.5,845.4 991.5,845.9 993.5,846.5 995.5,847.0 997.5,847.6 999.5,848.2 1001.5,848.8 1003.5,849.4 1005.5,850.0 1007.5,850.6 1009.5,851.2 1011.5,851.9 1013.5,852.5 1015.5,853.2 1017.5,853.9 1019.5,854.6 1021.5,855.4 1023.5,856.1 1025.5,856.9 1027.5,857.6 1029.5,858.5 1031.5,859.3 1033.5,860.1 1035.5,861.0 1037.5,861.9 1039.5,862.9 1041.5,863.8 1043.5,864.8 1045.5,865.9 1047.5,867.0 1049.5,868.1 1051.5,869.4 1053.5,870.7 1055.5,872.1 1057.5,873.4 1059.5,874.8 1061.5,876.1 1063.5,877.3 1065.5,878.6 1067.5,879.3 1069.5,879.8 1071.5,880.2 1073.5,880.4 1075.5,880.2 1077.5,879.6 1079.5,879.2 1081.5,879.4 1083.5,880.1 1085.5,881.0 1087.5,882.0 1089.5,883.2 1091.5,884.5 1093.5,886.1 1095.5,888.0 1097.5,890.2 1099.5,892.5 1101.5,894.7 1103.5,896.9 1105.5,899.1 1107.5,901.4 1109.5,903.7 1111.5,906.1 1113.5,908.5 1115.5,911.0 1117.5,913.5 1119.5,916.0 1121.5,918.6 1123.5,921.1 1125.5,923.7 1127.5,926.4 1129.5,929.0 1131.5,931.7 1133.5,934.4 1135.5,937.2 1137.5,939.9 1139.5,942.7 1141.5,945.4 1143.5,948.2 1145.5,950.9 1147.5,953.7 1149.5,956.5 1151.5,959.3 1153.5,962.1 1154.5,963.5" fill="none" stroke="#ff0000" stroke-width="1.6" stroke-linejoin="round" clip-path="url(#c2)"/>
<polyline points="165.5,1051.3 167.5,1048.5 169.5,1045.8 171.5,1043.2 173.5,1040.5 175.5,1038.0 177.5,1035.4 179.5,1033.0 181.5,1030.6 183.5,1028.3 185.5,1026.0 187.5,1023.7 189.5,1021.5 191.5,1019.3 193.5,1017.2 195.5,1015.1 197.5,1013.0 199.5,1010.9 201.5,1008.8 203.5,1006.7 205.5,1004.6 207.5,1002.6 209.5,1000.6 211.5,998.5 213.5,996.6 215.5,994.6 217.5,992.6 219.5,990.7 221.5,988.8 223.5,986.9 225.5,985.1 227.5,983.2 229.5,981.4 231.5,979.6 233.5,977.8 235.5,976.0 237.5,974.2 239.5,972.5 241.5,970.8 243.5,969.1 245.5,967.4 247.5,965.7 249.5,964.1 251.5,962.5 253.5,960.9 255.5,959.3 257.5,957.7 259.5,956.2 261.5,954.8 263.5,953.3 265.5,951.9 267.5,950.6 269.5,949.2 271.5,947.9 273.5,946.6 275.5,945.4 277.5,944.1 279.5,942.9 281.5,941.7 283.5,940.5 285.5,939.3 287.5,938.2 289.5,937.1 291.5,936.0 293.5,934.9 295.5,933.8 297.5,932.7 299.5,931.7 301.5,930.6 303.5,929.6 305.5,928.5 307.5,927.5 309.5,926.5 311.5,925.5 313.5,924.5 315.5,923.5 317.5,922.5 319.5,921.5 321.5,920.6 323.5,919.6 325.5,918.7 327.5,917.7 329.5,916.8 331.5,915.9 333.5,915.0 335.5,914.1 337.5,913.2 339.5,912.3 341.5,911.4 343.5,910.6 345.5,909.8 347.5,908.9 349.5,908.1 351.5,907.3 353.5,906.5 355.5,905.8 357.5,905.0 359.5,904.3 361.5,903.6 363.5,902.9 365.5,902.3 367.5,901.7 369.5,901.1 371.5,900.5 373.5,900.0 375.5,899.5 377.5,898.9 379.5,898.4 381.5,898.0 383.5,897.5 385.5,897.0 387.5,896.6 389.5,896.2 391.5,895.7 393.5,895.3 395.5,894.9 397.5,894.6 399.5,894.2 401.5,893.8 403.5,893.4 405.5,893.0 407.5,892.7 409.5,892.3 411.5,891.9 413.5,891.6 415.5,891.2 417.5,890.9 419.5,890.6 421.5,890.3 423.5,890.0 425.5,889.8 427.5,889.5 429.5,889.2 431.5,889.0 433.5,888.7 435.5,888.5 437.5,888.3 439.5,888.0 441.5,887.8 443.5,887.6 445.5,887.4 447.5,887.2 449.5,887.0 451.5,886.9 453.5,886.7 455.5,886.6 457.5,886.4 459.5,886.3 461.5,886.1 463.5,886.0 465.5,885.9 467.5,885.8 469.5,885.7 471.5,885.6 473.5,885.5 475.5,885.4 477.5,885.3 479.5,885.2 481.5,885.1 483.5,885.0 485.5,884.9 487.5,884.8 489.5,884.8 491.5,884.7" fill="none" stroke="#0000ff" stroke-width="2.1" stroke-linejoin="round" clip-path="url(#c2)"/>
<polyline points="165.5,1051.7 167.5,1048.9 169.5,1046.2 171.5,1043.6 173.5,1040.9 175.5,1038.4 177.5,1035.8 179.5,1033.4 181.5,1031.0 183.5,1028.7 185.5,1026.4 187.5,1024.1 189.5,1021.9 191.5,1019.7 193.5,1017.6 195.5,1015.5 197.5,1013.4 199.5,1011.3 201.5,1009.2 203.5,1007.1 205.5,1005.0 207.5,1003.0 209.5,1001.0 211.5,998.9 213.5,997.0 215.5,995.0 217.5,993.0 219.5,991.1 221.5,989.2 223.5,987.3 225.5,985.5 227.5,983.6 229.5,981.8 231.5,980.0 233.5,978.2 235.5,976.4 237.5,974.6 239.5,972.9 241.5,971.2 243.5,969.5 245.5,967.8 247.5,966.1 249.5,964.5 251.5,962.9 253.5,961.3 255.5,959.7 257.5,958.1 259.5,956.6 261.5,955.2 263.5,953.7 265.5,952.3 267.5,951.0 269.5,949.6 271.5,948.3 273.5,947.0 275.5,945.8 277.5,944.5 279.5,943.3 281.5,942.1 283.5,940.9 285.5,939.7 287.5,938.6 289.5,937.5 291.5,936.4 293.5,935.3 295.5,934.2 297.5,933.1 299.5,932.1 301.5,931.0 303.5,930.0 305.5,928.9 307.5,927.9 309.5,926.9 311.5,925.9 313.5,924.9 315.5,923.9 317.5,922.9 319.5,921.9 321.5,921.0 323.5,920.0 325.5,919.1 327.5,918.1 329.5,917.2 331.5,916.3 333.5,915.4 335.5,914.5 337.5,913.6 339.5,912.7 341.5,911.8 343.5,911.0 345.5,910.2 347.5,909.3 349.5,908.5 351.5,907.7 353.5,906.9 355.5,906.2 357.5,905.4 359.5,904.7 361.5,904.0 363.5,903.3 365.5,902.7 367.5,902.1 369.5,901.5 371.5,900.9 373.5,900.4 375.5,899.9 377.5,899.3 379.5,898.8 381.5,898.4 383.5,897.9 385.5,897.4 387.5,897.0 389.5,896.6 391.5,896.1 393.5,895.7 395.5,895.3 397.5,895.0 399.5,894.6 401.5,894.2 403.5,893.8 405.5,893.4 407.5,893.1 409.5,892.7 411.5,892.3 413.5,892.0 415.5,891.6 417.5,891.3 419.5,891.0 421.5,890.7 423.5,890.4 425.5,890.2 427.5,889.9 429.5,889.6 431.5,889.4 433.5,889.1 435.5,888.9 437.5,888.7 439.5,888.4 441.5,888.2 443.5,888.0 445.5,887.8 447.5,887.6 449.5,887.4 451.5,887.3 453.5,887.1 455.5,887.0 457.5,886.8 459.5,886.7 461.5,886.5 463.5,886.4 465.5,886.3 467.5,886.2 469.5,886.1 471.5,886.0 473.5,885.9 475.5,885.8 477.5,885.7 479.5,885.6 481.5,885.5 483.5,885.4 485.5,885.3 487.5,885.2 489.5,885.2 491.5,885.1" fill="none" stroke="#00ff00" stroke-width="2.1" stroke-linejoin="round" clip-path="url(#c2)"/>
<polyline points="491.5,885.1 493.5,885.0 495.5,884.9 497.5,884.9 499.5,884.8 501.5,884.7 503.5,884.6 505.5,884.6 507.5,884.5 509.5,884.5 511.5,884.4 513.5,884.3 515.5,884.3 517.5,884.2 519.5,884.1 521.5,884.1 523.5,884.0 525.5,883.9 527.5,883.9 529.5,883.8 531.5,883.7 533.5,883.6 535.5,883.6 537.5,883.5 539.5,883.4 541.5,883.3 543.5,883.3 545.5,883.2 547.5,883.1 549.5,883.0 551.5,883.0 553.5,882.9 555.5,882.8 557.5,882.7 559.5,882.7 561.5,882.6 563.5,882.5 565.5,882.4 567.5,882.4 569.5,882.3 571.5,882.2 573.5,882.1 575.5,882.0 577.5,881.9 579.5,881.8 581.5,881.7 583.5,881.6 585.5,881.5 587.5,881.4 589.5,881.3 591.5,881.2 593.5,881.1 595.5,881.0 597.5,880.8 599.5,880.7 601.5,880.6 603.5,880.5 605.5,880.3 607.5,880.2 609.5,880.1 611.5,879.9 613.5,879.8 615.5,879.6 617.5,879.5 619.5,879.4 621.5,879.2 623.5,879.1 625.5,878.9 627.5,878.8 629.5,878.6 631.5,878.5 633.5,878.3 635.5,878.1 637.5,878.0 639.5,877.8 641.5,877.6 643.5,877.5 645.5,877.3 647.5,877.1 649.5,876.9 651.5,876.8 653.5,876.6 655.5,876.4 657.5,876.2 659.5,876.0 661.5,875.8 663.5,875.6 665.5,875.4 667.5,875.2 669.5,875.1 671.5,874.9 673.5,874.7 675.5,874.5 677.5,874.3 679.5,874.1 681.5,873.9 683.5,873.7 685.5,873.5 687.5,873.3 689.5,873.1 691.5,872.9 693.5,872.7 695.5,872.5 697.5,872.2 699.5,872.0 701.5,871.8 703.5,871.6 705.5,871.4 707.5,871.1 709.5,870.9 711.5,870.7 713.5,870.4 715.5,870.2 717.5,869.9 719.5,869.6 721.5,869.4 723.5,869.1 725.5,868.8 727.5,868.4 729.5,868.1 731.5,867.8 733.5,867.4 735.5,867.0 737.5,866.7 739.5,866.3 741.5,865.9 743.5,865.5 745.5,865.2 747.5,864.8 749.5,864.4 751.5,864.1 753.5,863.7 755.5,863.4 757.5,863.1 759.5,862.7 761.5,862.4 763.5,862.1 765.5,861.8 767.5,861.4 769.5,861.1 771.5,860.8 773.5,860.4 775.5,860.1 777.5,859.7 779.5,859.3 781.5,858.9 783.5,858.5 785.5,858.0 787.5,857.6 789.5,857.1 791.5,856.6 793.5,856.1 795.5,855.6 797.5,855.1 799.5,854.6 801.5,854.1 803.5,853.6 805.5,853.2 807.5,852.7 809.5,852.2 811.5,851.8 813.5,851.3 815.5,850.9 817.5,850.5 819.5,850.1 821.5,849.6 823.5,849.2 825.5,848.8 827.5,848.4 829.5,848.0 831.5,847.6 833.5,847.2 835.5,846.8 837.5,846.4 839.5,846.1 841.5,845.7 843.5,845.4 845.5,845.0 847.5,844.7 849.5,844.3 851.5,844.0 853.5,843.7 855.5,843.4 857.5,843.0 859.5,842.7 861.5,842.4 863.5,842.1 865.5,841.9 867.5,841.6 869.5,841.3 871.5,841.1 873.5,840.9 875.5,840.6 877.5,840.4 879.5,840.2 881.5,840.0 883.5,839.8 885.5,839.6 887.5,839.4 889.5,839.2 891.5,839.0 893.5,838.8 895.5,838.7 897.5,838.5 899.5,838.4 901.5,838.3 903.5,838.2 905.5,838.1 907.5,838.0 909.5,838.0 911.5,837.9 913.5,837.9 915.5,837.8 917.5,837.7 919.5,837.7 921.5,837.7 923.5,837.6 925.5,837.6 927.5,837.6 929.5,837.6 931.5,837.6 933.5,837.7 935.5,837.7 937.5,837.8 939.5,837.9 941.5,838.1 943.5,838.2 945.5,838.3 947.5,838.5 949.5,838.7 951.5,838.8 953.5,839.0 955.5,839.2 957.5,839.4 959.5,839.6 961.5,839.9 963.5,840.2 965.5,840.5 967.5,840.8 969.5,841.1 971.5,841.5 973.5,841.9 975.5,842.2 977.5,842.6 979.5,843.0 981.5,843.4 983.5,843.9 985.5,844.3 987.5,844.9 989.5,845.4 991.5,845.9 993.5,846.5 995.5,847.0 997.5,847.6 999.5,848.2 1001.5,848.8 1003.5,849.4 1005.5,850.0 1007.5,850.6 1009.5,851.2 1011.5,851.9 1013.5,852.5 1015.5,853.2 1017.5,853.9 1019.5,854.6 1021.5,855.4 1023.5,856.1 1025.5,856.9 1027.5,857.6 1029.5,858.5 1031.5,859.3 1033.5,860.1 1035.5,861.0 1037.5,861.9 1039.5,862.9 1041.5,863.8 1043.5,864.8 1045.5,865.9 1047.5,867.0 1049.5,868.1 1051.5,869.4 1053.5,870.7 1055.5,872.1 1057.5,873.4 1059.5,874.8 1061.5,876.1 1063.5,877.3 1065.5,878.6 1067.5,879.3 1069.5,879.8 1071.5,880.2 1073.5,880.4 1075.5,880.2 1077.5,879.6 1079.5,879.2 1081.5,879.4 1083.5,880.1 1085.5,881.0 1087.5,882.0 1089.5,883.2 1091.5,884.5 1093.5,886.1 1095.5,888.0 1097.5,890.2 1099.5,892.5 1101.5,894.7 1103.5,896.9 1105.5,899.1 1107.5,901.4 1109.5,903.7 1111.5,906.1 1113.5,908.5 1115.5,911.0 1117.5,913.5 1119.5,916.0 1121.5,918.6 1123.5,921.1 1125.5,923.7 1127.5,926.4 1129.5,929.0 1131.5,931.7 1133.5,934.4 1135.5,937.2 1137.5,939.9 1139.5,942.7 1141.5,945.4 1143.5,948.2 1145.5,950.9 1147.5,953.7 1149.5,956.5 1151.5,959.3 1153.5,962.1 1154.5,963.5" fill="none" stroke="#0000ff" stroke-width="2.1" stroke-linejoin="round" clip-path="url(#c2)"/>
<g stroke="#262626" stroke-width="1" fill="none" shape-rendering="crispEdges">
<rect x="165.5" y="797.5" width="989.0" height="309.0"/>
<line x1="412.5" y1="797.5" x2="412.5" y2="808.0"/><line x1="412.5" y1="1106.5" x2="412.5" y2="1096.0"/>
<line x1="660.5" y1="797.5" x2="660.5" y2="808.0"/><line x1="660.5" y1="1106.5" x2="660.5" y2="1096.0"/>
<line x1="907.5" y1="797.5" x2="907.5" y2="808.0"/><line x1="907.5" y1="1106.5" x2="907.5" y2="1096.0"/>
<line x1="165.5" y1="858.5" x2="176.0" y2="858.5"/><line x1="1154.5" y1="858.5" x2="1144.0" y2="858.5"/>
<line x1="165.5" y1="920.5" x2="176.0" y2="920.5"/><line x1="1154.5" y1="920.5" x2="1144.0" y2="920.5"/>
<line x1="165.5" y1="982.5" x2="176.0" y2="982.5"/><line x1="1154.5" y1="982.5" x2="1144.0" y2="982.5"/>
<line x1="165.5" y1="1044.5" x2="176.0" y2="1044.5"/><line x1="1154.5" y1="1044.5" x2="1144.0" y2="1044.5"/>
</g>
<g font-size="22.07" fill="#262626">
<text x="89.65" y="804.00" textLength="66.25" lengthAdjust="spacingAndGlyphs">50000</text>
</g>
<g font-size="22.07" fill="#262626">
<text x="89.65" y="865.80" textLength="66.25" lengthAdjust="spacingAndGlyphs">49000</text>
</g>
<g font-size="22.07" fill="#262626">
<text x="89.65" y="927.60" textLength="66.25" lengthAdjust="spacingAndGlyphs">48000</text>
</g>
<g font-size="22.07" fill="#262626">
<text x="89.65" y="989.40" textLength="66.25" lengthAdjust="spacingAndGlyphs">47000</text>
</g>
<g font-size="22.07" fill="#262626">
<text x="89.65" y="1051.20" textLength="66.25" lengthAdjust="spacingAndGlyphs">46000</text>
</g>
<g font-size="22.07" fill="#262626">
<text x="89.65" y="1113.00" textLength="66.25" lengthAdjust="spacingAndGlyphs">45000</text>
</g>
<g font-size="19.47" font-weight="bold" stroke="#262626" stroke-width="0.5" fill="#262626" transform="rotate(-90 53.50 952.80)">
<text x="-34.00" y="952.80" textLength="41.02" lengthAdjust="spacingAndGlyphs">CRF</text>
<text x="13.55" y="952.80" textLength="127.45" lengthAdjust="spacingAndGlyphs">Coordinates</text>
</g>
<g font-size="19.47" font-weight="bold" stroke="#262626" stroke-width="0.5" fill="#262626" transform="rotate(-90 79.40 952.80)">
<text x="40.56" y="952.80" textLength="27.89" lengthAdjust="spacingAndGlyphs">BZ</text>
<text x="74.98" y="952.80" textLength="8.56" lengthAdjust="spacingAndGlyphs">(</text>
<text x="83.54" y="952.80" textLength="26.14" lengthAdjust="spacingAndGlyphs">nT</text>
<text x="109.68" y="952.80" textLength="8.56" lengthAdjust="spacingAndGlyphs">)</text>
</g>
<g font-size="17.31" font-weight="bold" stroke="#000" stroke-width="0.5" fill="#000" transform="rotate(-90 1176.20 1020.40)">
<text x="1176.20" y="1020.40" textLength="72.80" lengthAdjust="spacingAndGlyphs">Inboard</text>
<text x="1254.79" y="1020.40" textLength="12.70" lengthAdjust="spacingAndGlyphs">B</text>
</g>
<g font-size="17.31" font-weight="bold" stroke="#000" stroke-width="0.5" fill="#000" transform="rotate(-90 1196.00 1020.40)">
<text x="1196.00" y="1020.40" textLength="88.72" lengthAdjust="spacingAndGlyphs">Outboard</text>
<text x="1290.52" y="1020.40" textLength="12.70" lengthAdjust="spacingAndGlyphs">B</text>
</g>
<g font-size="17.31" font-weight="bold" stroke="#000" stroke-width="0.5" fill="#000" transform="rotate(-90 1215.20 1020.40)">
<text x="1215.20" y="1020.40" textLength="56.94" lengthAdjust="spacingAndGlyphs">Model</text>
<text x="1277.93" y="1020.40" textLength="12.70" lengthAdjust="spacingAndGlyphs">B</text>
</g>
<rect x="1170.9" y="1047.0" width="2.1" height="17.7" fill="#0000ff"/>
<rect x="1189.85" y="1047.0" width="2.1" height="17.7" fill="#00ff00"/>
<rect x="1210.05" y="1047.0" width="2.1" height="17.7" fill="#ff0000"/>
<clipPath id="c3"><rect x="165.5" y="1142.5" width="989.0" height="310.0"/></clipPath>
<rect x="576" y="1146" width="15" height="302.7" fill="#d8d8d8"/>
<rect x="723" y="1146" width="8" height="302.7" fill="#d8d8d8"/>
<rect x="933" y="1146" width="9" height="302.7" fill="#d8d8d8"/>
<rect x="988" y="1146" width="8" height="302.7" fill="#d8d8d8"/>
<rect x="1062" y="1146" width="25" height="302.7" fill="#d8d8d8"/>
<rect x="1103" y="1146" width="8" height="302.7" fill="#d8d8d8"/>
<rect x="1134" y="1146" width="8" height="302.7" fill="#d8d8d8"/>
<polyline points="165.5,1451.5 167.5,1448.4 169.5,1445.5 171.5,1442.5 173.5,1439.6 175.5,1436.8 177.5,1434.0 179.5,1431.3 181.5,1428.6 183.5,1426.0 185.5,1423.4 187.5,1420.8 189.5,1418.3 191.5,1415.8 193.5,1413.4 195.5,1410.9 197.5,1408.5 199.5,1406.2 201.5,1403.8 203.5,1401.5 205.5,1399.2 207.5,1397.0 209.5,1394.7 211.5,1392.5 213.5,1390.4 215.5,1388.2 217.5,1386.1 219.5,1383.9 221.5,1381.8 223.5,1379.7 225.5,1377.7 227.5,1375.6 229.5,1373.5 231.5,1371.5 233.5,1369.5 235.5,1367.5 237.5,1365.6 239.5,1363.7 241.5,1361.8 243.5,1360.0 245.5,1358.2 247.5,1356.5 249.5,1354.7 251.5,1353.0 253.5,1351.4 255.5,1349.7 257.5,1348.1 259.5,1346.5 261.5,1344.8 263.5,1343.3 265.5,1341.7 267.5,1340.1 269.5,1338.5 271.5,1337.0 273.5,1335.4 275.5,1333.9 277.5,1332.5 279.5,1331.1 281.5,1329.7 283.5,1328.4 285.5,1327.1 287.5,1325.8 289.5,1324.5 291.5,1323.3 293.5,1322.1 295.5,1321.0 297.5,1319.8 299.5,1318.7 301.5,1317.6 303.5,1316.5 305.5,1315.4 307.5,1314.4 309.5,1313.4 311.5,1312.3 313.5,1311.3 315.5,1310.3 317.5,1309.4 319.5,1308.4 321.5,1307.5 323.5,1306.6 325.5,1305.7 327.5,1304.8 329.5,1303.9 331.5,1303.0 333.5,1302.1 335.5,1301.3 337.5,1300.5 339.5,1299.7 341.5,1298.9 343.5,1298.2 345.5,1297.4 347.5,1296.7 349.5,1296.0 351.5,1295.3 353.5,1294.6 355.5,1293.9 357.5,1293.3 359.5,1292.7 361.5,1292.1 363.5,1291.6 365.5,1291.0 367.5,1290.5 369.5,1290.1 371.5,1289.6 373.5,1289.2 375.5,1288.7 377.5,1288.3 379.5,1287.9 381.5,1287.5 383.5,1287.1 385.5,1286.7 387.5,1286.3 389.5,1285.9 391.5,1285.6 393.5,1285.2 395.5,1284.8 397.5,1284.5 399.5,1284.1 401.5,1283.8 403.5,1283.6 405.5,1283.3 407.5,1283.0 409.5,1282.7 411.5,1282.4 413.5,1282.2 415.5,1281.9 417.5,1281.7 419.5,1281.5 421.5,1281.4 423.5,1281.2 425.5,1281.1 427.5,1281.0 429.5,1280.9 431.5,1280.8 433.5,1280.6 435.5,1280.5 437.5,1280.3 439.5,1280.2 441.5,1280.1 443.5,1279.9 445.5,1279.8 447.5,1279.7 449.5,1279.5 451.5,1279.4 453.5,1279.3 455.5,1279.2 457.5,1279.1 459.5,1278.9 461.5,1278.8 463.5,1278.7 465.5,1278.6 467.5,1278.5 469.5,1278.5 471.5,1278.4 473.5,1278.3 475.5,1278.2 477.5,1277.7 479.5,1277.7 481.5,1277.6 483.5,1277.6 485.5,1277.5 487.5,1277.5 489.5,1277.4 491.5,1277.4 493.5,1277.3 495.5,1277.3 497.5,1277.3 499.5,1277.2 501.5,1277.2 503.5,1277.2 505.5,1277.1 507.5,1277.1 509.5,1277.1 511.5,1277.0 513.5,1277.0 515.5,1276.9 517.5,1276.9 519.5,1276.8 521.5,1276.8 523.5,1276.7 525.5,1276.7 527.5,1276.6 529.5,1276.6 531.5,1276.5 533.5,1276.5 535.5,1276.4 537.5,1276.4 539.5,1276.3 541.5,1276.3 543.5,1276.2 545.5,1276.2 547.5,1276.1 549.5,1276.0 551.5,1275.9 553.5,1275.9 555.5,1275.8 557.5,1275.7 559.5,1275.6 561.5,1275.5 563.5,1275.4 565.5,1275.4 567.5,1275.3 569.5,1275.2 571.5,1275.1 573.5,1274.9 575.5,1274.8 577.5,1274.7 579.5,1274.6 581.5,1274.5 583.5,1274.3 585.5,1274.2 587.5,1274.0 589.5,1273.9 591.5,1273.7 593.5,1273.6 595.5,1273.4 597.5,1273.2 599.5,1273.0 601.5,1272.9 603.5,1272.7 605.5,1272.5 607.5,1272.3 609.5,1272.1 611.5,1271.8 613.5,1271.6 615.5,1271.4 617.5,1271.2 619.5,1270.9 621.5,1270.7 623.5,1270.4 625.5,1270.1 627.5,1269.8 629.5,1269.4 631.5,1269.1 633.5,1268.7 635.5,1268.3 637.5,1267.9 639.5,1267.5 641.5,1267.2 643.5,1266.8 645.5,1266.4 647.5,1266.0 649.5,1265.6 651.5,1265.2 653.5,1264.9 655.5,1264.5 657.5,1264.2 659.5,1263.8 661.5,1263.5 663.5,1263.1 665.5,1262.7 667.5,1262.4 669.5,1262.0 671.5,1261.7 673.5,1261.3 675.5,1260.9 677.5,1260.5 679.5,1260.1 681.5,1259.7 683.5,1259.2 685.5,1258.7 687.5,1258.3 689.5,1257.7 691.5,1257.2 693.5,1256.7 695.5,1256.2 697.5,1255.6 699.5,1255.1 701.5,1254.5 703.5,1253.9 705.5,1253.4 707.5,1252.8 709.5,1252.3 711.5,1251.8 713.5,1251.3 715.5,1250.8 717.5,1250.3 719.5,1249.9 721.5,1249.4 723.5,1249.0 725.5,1248.5 727.5,1248.0 729.5,1247.4 731.5,1246.5 733.5,1245.5 735.5,1244.3 737.5,1243.5 739.5,1242.9 741.5,1242.5 743.5,1242.1 745.5,1241.6 747.5,1240.8 749.5,1239.7 751.5,1238.6 753.5,1237.7 755.5,1237.0 757.5,1236.4 759.5,1235.8 761.5,1235.2 763.5,1234.7 765.5,1234.1 767.5,1233.4 769.5,1232.7 771.5,1231.9 773.5,1231.0 775.5,1230.0 777.5,1229.0 779.5,1228.0 781.5,1226.9 783.5,1225.8 785.5,1224.7 787.5,1223.7 789.5,1222.6 791.5,1221.7 793.5,1220.7 795.5,1219.9 797.5,1219.0 799.5,1218.2 801.5,1217.3 803.5,1216.5 805.5,1215.7 807.5,1214.9 809.5,1214.1 811.5,1213.3 813.5,1212.4 815.5,1211.6 817.5,1210.7 819.5,1209.8 821.5,1208.9 823.5,1208.0 825.5,1207.0 827.5,1206.0 829.5,1205.0 831.5,1204.0 833.5,1203.0 835.5,1202.0 837.5,1201.0 839.5,1200.0 841.5,1199.0 843.5,1198.0 845.5,1197.0 847.5,1196.0 849.5,1195.0 851.5,1194.1 853.5,1193.1 855.5,1192.2 857.5,1191.2 859.5,1190.3 861.5,1189.3 863.5,1188.4 865.5,1187.5 867.5,1186.5 869.5,1185.6 871.5,1184.7 873.5,1183.8 875.5,1183.0 877.5,1182.1 879.5,1181.3 881.5,1180.5 883.5,1179.7 885.5,1178.9 887.5,1178.1 889.5,1177.3 891.5,1176.6 893.5,1175.8 895.5,1175.1 897.5,1174.3 899.5,1173.6 901.5,1172.9 903.5,1172.2 905.5,1171.6 907.5,1170.9 909.5,1170.3 911.5,1169.7 913.5,1169.2 915.5,1168.6 917.5,1168.1 919.5,1167.5 921.5,1167.0 923.5,1166.5 925.5,1166.0 927.5,1165.5 929.5,1165.0 931.5,1164.6 933.5,1164.1 935.5,1163.7 937.5,1163.3 939.5,1163.0 941.5,1162.6 943.5,1162.3 945.5,1162.0 947.5,1161.7 949.5,1161.4 951.5,1161.2 953.5,1160.9 955.5,1160.6 957.5,1160.4 959.5,1160.1 961.5,1160.0 963.5,1159.8 965.5,1159.7 967.5,1159.6 969.5,1159.6 971.5,1159.6 973.5,1159.6 975.5,1159.6 977.5,1159.6 979.5,1159.6 981.5,1159.6 983.5,1159.6 985.5,1159.6 987.5,1159.7 989.5,1159.8 991.5,1160.0 993.5,1160.3 995.5,1160.5 997.5,1160.8 999.5,1161.1 1001.5,1161.4 1003.5,1161.6 1005.5,1162.0 1007.5,1162.3 1009.5,1162.7 1011.5,1163.1 1013.5,1163.5 1015.5,1164.0 1017.5,1164.5 1019.5,1165.0 1021.5,1165.5 1023.5,1166.1 1025.5,1166.7 1027.5,1167.4 1029.5,1168.1 1031.5,1168.9 1033.5,1169.7 1035.5,1170.5 1037.5,1171.3 1039.5,1172.2 1041.5,1173.1 1043.5,1174.0 1045.5,1174.9 1047.5,1175.9 1049.5,1177.0 1051.5,1178.0 1053.5,1179.2 1055.5,1180.3 1057.5,1181.5 1059.5,1182.7 1061.5,1183.9 1063.5,1185.1 1065.5,1186.4 1067.5,1187.7 1069.5,1189.0 1071.5,1190.3 1073.5,1191.7 1075.5,1193.1 1077.5,1194.6 1079.5,1196.0 1081.5,1197.5 1083.5,1199.1 1085.5,1200.7 1087.5,1202.4 1089.5,1204.1 1091.5,1205.8 1093.5,1207.6 1095.5,1209.4 1097.5,1211.3 1099.5,1213.2 1101.5,1215.1 1103.5,1217.1 1105.5,1219.1 1107.5,1221.1 1109.5,1223.2 1111.5,1225.4 1113.5,1227.5 1115.5,1229.7 1117.5,1232.0 1119.5,1234.3 1121.5,1236.6 1123.5,1239.0 1125.5,1241.3 1127.5,1243.8 1129.5,1246.2 1131.5,1248.8 1133.5,1251.3 1135.5,1253.9 1137.5,1256.6 1139.5,1259.2 1141.5,1262.0 1143.5,1264.7 1145.5,1267.5 1147.5,1270.4 1149.5,1273.4 1151.5,1276.4 1153.5,1279.5 1154.5,1281.1" fill="none" stroke="#ff0000" stroke-width="1.6" stroke-linejoin="round" clip-path="url(#c3)"/>
<polyline points="165.5,1450.6 167.5,1447.6 169.5,1444.6 171.5,1441.7 173.5,1438.8 175.5,1435.9 177.5,1433.1 179.5,1430.4 181.5,1427.7 183.5,1425.1 185.5,1422.5 187.5,1420.0 189.5,1417.4 191.5,1415.0 193.5,1412.5 195.5,1410.1 197.5,1407.7 199.5,1405.3 201.5,1403.0 203.5,1400.7 205.5,1398.4 207.5,1396.1 209.5,1393.9 211.5,1391.7 213.5,1389.5 215.5,1387.4 217.5,1385.2 219.5,1383.1 221.5,1381.0 223.5,1378.9 225.5,1376.8 227.5,1374.7 229.5,1372.7 231.5,1370.7 233.5,1368.7 235.5,1366.7 237.5,1364.8 239.5,1362.9 241.5,1361.0 243.5,1359.2 245.5,1357.4 247.5,1355.6 249.5,1353.9 251.5,1352.2 253.5,1350.5 255.5,1348.9 257.5,1347.2 259.5,1345.6 261.5,1344.0 263.5,1342.4 265.5,1340.8 267.5,1339.2 269.5,1337.7 271.5,1336.1 273.5,1334.6 275.5,1333.1 277.5,1331.6 279.5,1330.2 281.5,1328.8 283.5,1327.5 285.5,1326.2 287.5,1324.9 289.5,1323.7 291.5,1322.5 293.5,1321.3 295.5,1320.1 297.5,1319.0 299.5,1317.9 301.5,1316.8 303.5,1315.7 305.5,1314.6 307.5,1313.5 309.5,1312.5 311.5,1311.5 313.5,1310.5 315.5,1309.5 317.5,1308.5 319.5,1307.6 321.5,1306.6 323.5,1305.7 325.5,1304.8 327.5,1303.9 329.5,1303.0 331.5,1302.1 333.5,1301.3 335.5,1300.4 337.5,1299.6 339.5,1298.8 341.5,1298.1 343.5,1297.3 345.5,1296.6 347.5,1295.8 349.5,1295.1 351.5,1294.4 353.5,1293.7 355.5,1293.1 357.5,1292.5 359.5,1291.8 361.5,1291.3 363.5,1290.7 365.5,1290.2 367.5,1289.7 369.5,1289.2 371.5,1288.8 373.5,1288.3 375.5,1287.9 377.5,1287.5 379.5,1287.1 381.5,1286.7 383.5,1286.3 385.5,1285.9 387.5,1285.5 389.5,1285.1 391.5,1284.7 393.5,1284.4 395.5,1284.0 397.5,1283.6 399.5,1283.3 401.5,1282.9 403.5,1282.6 405.5,1282.3 407.5,1281.9 409.5,1281.6 411.5,1281.2 413.5,1280.9 415.5,1280.6 417.5,1280.3 419.5,1280.1 421.5,1279.8 423.5,1279.6 425.5,1279.5 427.5,1279.3 429.5,1279.1 431.5,1279.0 433.5,1278.8 435.5,1278.7 437.5,1278.5 439.5,1278.4 441.5,1278.3 443.5,1278.1 445.5,1278.0 447.5,1277.9 449.5,1277.7 451.5,1277.6 453.5,1277.5 455.5,1277.4 457.5,1277.3 459.5,1277.1 461.5,1277.0 463.5,1276.9 465.5,1276.8 467.5,1276.7 469.5,1276.7 471.5,1276.6 473.5,1276.5 475.5,1276.4 477.5,1276.4" fill="none" stroke="#0000ff" stroke-width="2.1" stroke-linejoin="round" clip-path="url(#c3)"/>
<polyline points="165.5,1451.0 167.5,1448.0 169.5,1445.0 171.5,1442.1 173.5,1439.2 175.5,1436.3 177.5,1433.5 179.5,1430.8 181.5,1428.1 183.5,1425.5 185.5,1422.9 187.5,1420.4 189.5,1417.8 191.5,1415.4 193.5,1412.9 195.5,1410.5 197.5,1408.1 199.5,1405.7 201.5,1403.4 203.5,1401.1 205.5,1398.8 207.5,1396.5 209.5,1394.3 211.5,1392.1 213.5,1389.9 215.5,1387.8 217.5,1385.6 219.5,1383.5 221.5,1381.4 223.5,1379.3 225.5,1377.2 227.5,1375.1 229.5,1373.1 231.5,1371.1 233.5,1369.1 235.5,1367.1 237.5,1365.2 239.5,1363.3 241.5,1361.4 243.5,1359.6 245.5,1357.8 247.5,1356.0 249.5,1354.3 251.5,1352.6 253.5,1350.9 255.5,1349.3 257.5,1347.6 259.5,1346.0 261.5,1344.4 263.5,1342.8 265.5,1341.2 267.5,1339.6 269.5,1338.1 271.5,1336.5 273.5,1335.0 275.5,1333.5 277.5,1332.0 279.5,1330.6 281.5,1329.2 283.5,1327.9 285.5,1326.6 287.5,1325.3 289.5,1324.1 291.5,1322.9 293.5,1321.7 295.5,1320.5 297.5,1319.4 299.5,1318.3 301.5,1317.2 303.5,1316.1 305.5,1315.0 307.5,1313.9 309.5,1312.9 311.5,1311.9 313.5,1310.9 315.5,1309.9 317.5,1308.9 319.5,1308.0 321.5,1307.0 323.5,1306.1 325.5,1305.2 327.5,1304.3 329.5,1303.4 331.5,1302.5 333.5,1301.7 335.5,1300.8 337.5,1300.0 339.5,1299.2 341.5,1298.5 343.5,1297.7 345.5,1297.0 347.5,1296.2 349.5,1295.5 351.5,1294.8 353.5,1294.1 355.5,1293.5 357.5,1292.9 359.5,1292.2 361.5,1291.7 363.5,1291.1 365.5,1290.6 367.5,1290.1 369.5,1289.6 371.5,1289.2 373.5,1288.7 375.5,1288.3 377.5,1287.9 379.5,1287.5 381.5,1287.1 383.5,1286.7 385.5,1286.3 387.5,1285.9 389.5,1285.5 391.5,1285.1 393.5,1284.8 395.5,1284.4 397.5,1284.0 399.5,1283.7 401.5,1283.3 403.5,1283.0 405.5,1282.7 407.5,1282.3 409.5,1282.0 411.5,1281.6 413.5,1281.3 415.5,1281.0 417.5,1280.7 419.5,1280.5 421.5,1280.2 423.5,1280.0 425.5,1279.9 427.5,1279.7 429.5,1279.5 431.5,1279.4 433.5,1279.2 435.5,1279.1 437.5,1278.9 439.5,1278.8 441.5,1278.7 443.5,1278.5 445.5,1278.4 447.5,1278.3 449.5,1278.1 451.5,1278.0 453.5,1277.9 455.5,1277.8 457.5,1277.7 459.5,1277.5 461.5,1277.4 463.5,1277.3 465.5,1277.2 467.5,1277.1 469.5,1277.1 471.5,1277.0 473.5,1276.9 475.5,1276.8 477.5,1276.8" fill="none" stroke="#00ff00" stroke-width="2.1" stroke-linejoin="round" clip-path="url(#c3)"/>
<polyline points="476.5,1277.3 477.3,1277.1 478.1,1276.5 478.9,1276.2 479.7,1276.7 480.5,1277.2 481.3,1276.9 482.1,1276.3 482.9,1276.2 483.7,1276.7 484.5,1277.1 485.3,1276.8 486.1,1276.2 486.9,1276.1 487.7,1276.7 488.5,1277.0 489.3,1276.6 490.1,1276.0 490.9,1276.1 491.7,1276.7 492.5,1276.9 493.3,1276.4 494.1,1275.9 494.9,1276.1 495.7,1276.7 496.5,1276.8 497.3,1276.3 498.1,1275.8 498.9,1276.1 499.7,1276.6 500.5,1276.7 501.3,1276.1 502.1,1275.7 502.9,1276.1 503.7,1276.6 504.5,1276.6 505.3,1276.0 506.1,1275.7 506.9,1276.1 507.7,1276.6 508.5,1276.5 509.3,1275.8 510.1,1275.6 510.9,1276.1 511.7,1276.5 512.5,1276.3 513.3,1275.7 514.1,1275.5 514.9,1276.1 515.7,1276.5 516.5,1276.1 517.3,1275.5 518.1,1275.5 518.9,1276.0 519.7,1276.4 520.5,1276.0 521.3,1275.4 522.1,1275.5 522.9,1276.0 523.7,1276.3 524.5,1275.8 525.3,1275.3 526.1,1275.4 526.9,1276.0 527.7,1276.2 528.5,1275.6 529.3,1275.2 530.1,1275.4 530.9,1276.0 531.7,1276.0 532.5,1275.4 533.3,1275.0 534.1,1275.4 534.9,1275.9 535.7,1275.9 536.5,1275.3 537.3,1274.9 538.1,1275.3 538.9,1275.9 539.7,1275.7 540.5,1275.1 541.3,1274.8 542.1,1275.3 542.9,1275.8 543.7,1275.5 544.5,1274.9 545.3,1274.8 546.1,1275.3 546.9,1275.7 547.7,1275.3 548.5,1274.7 549.3,1274.7 550.1,1275.2 550.9,1275.5 551.7,1275.1 552.5,1274.5 553.3,1274.6 554.1,1275.1 554.9,1275.4 555.7,1274.9 556.5,1274.3 557.3,1274.5 558.1,1275.0 558.9,1275.2 559.7,1274.6 560.5,1274.1 561.3,1274.4 562.1,1274.9 562.9,1275.0 563.7,1274.4 564.5,1274.0 565.3,1274.3 566.1,1274.8 566.9,1274.7 567.7,1274.1 568.5,1273.8 569.3,1274.1 570.1,1274.6 570.9,1274.5 571.7,1273.8 572.5,1273.6 573.3,1274.0 574.1,1274.4 574.9,1274.2 575.7,1273.5 576.5,1273.4 577.3,1273.9 578.1,1274.2 578.9,1273.9 579.7,1273.2 580.5,1273.2 581.3,1273.7 582.1,1274.0 582.9,1273.5 583.7,1272.9 584.5,1272.9 585.3,1273.5 586.1,1273.7 586.9,1273.2 587.7,1272.6 588.5,1272.7 589.3,1273.3 590.1,1273.4 590.9,1272.8 591.7,1272.3 592.5,1272.5 593.3,1273.0 594.1,1273.0 594.9,1272.4 595.7,1271.9 596.5,1272.2 597.3,1272.7 598.1,1272.6 598.9,1272.0 599.7,1271.6 600.5,1271.9 601.3,1272.4 602.1,1272.2 602.9,1271.5 603.7,1271.2 604.5,1271.6 605.3,1272.0 606.1,1271.7 606.9,1271.0 607.7,1270.8 608.5,1271.3 609.3,1271.6 610.1,1271.2 610.9,1270.6 611.7,1270.5 612.5,1270.9 613.3,1271.2 614.1,1270.7 614.9,1270.1 615.7,1270.1 616.5,1270.6 617.3,1270.7 618.1,1270.2 618.9,1269.6 619.7,1269.6 620.5,1270.1 621.3,1270.2 622.1,1269.6 622.9,1269.0 623.7,1269.2 624.5,1269.6 625.3,1269.6 626.1,1268.9 626.9,1268.4 627.7,1268.6 628.5,1269.1 629.3,1268.9 630.1,1268.2 630.9,1267.7 631.7,1268.0 632.5,1268.4 633.3,1268.1 634.1,1267.4 634.9,1267.0 635.7,1267.3 636.5,1267.7 637.3,1267.3 638.1,1266.5 638.9,1266.3 639.7,1266.6 640.5,1266.9 641.3,1266.4 642.1,1265.7 642.9,1265.5 643.7,1265.9 644.5,1266.1 645.3,1265.6 646.1,1264.9 646.9,1264.8 647.7,1265.2 648.5,1265.3 649.3,1264.7 650.1,1264.1 650.9,1264.1 651.7,1264.5 652.5,1264.6 653.3,1263.9 654.1,1263.3 654.9,1263.4 655.7,1263.9 656.5,1263.8 657.3,1263.1 658.1,1262.6 658.9,1262.8 659.7,1263.2 660.5,1263.1 661.3,1262.3 662.1,1261.9 662.9,1262.2 663.7,1262.6 664.5,1262.3 665.3,1261.6 666.1,1261.2 666.9,1261.5 667.7,1261.9 668.5,1261.5 669.3,1260.8 670.1,1260.5 670.9,1260.9 671.7,1261.2 672.5,1260.7 673.3,1260.0 674.1,1259.8 674.9,1260.2 675.7,1260.4 676.5,1259.9 677.3,1259.2 678.1,1259.1 678.9,1259.5 679.7,1259.6 680.5,1259.0 681.3,1258.3 682.1,1258.3 682.9,1258.8 683.7,1258.8 684.5,1258.1 685.3,1257.4 686.1,1257.5 686.9,1257.9 687.7,1257.8 688.5,1257.1 689.3,1256.5 690.1,1256.6 690.9,1257.0 691.7,1256.8 692.5,1256.0 693.3,1255.5 694.1,1255.7 694.9,1256.1 695.7,1255.7 696.5,1254.9 697.3,1254.5 698.1,1254.8 698.9,1255.0 699.7,1254.6 700.5,1253.8 701.3,1253.5 702.1,1253.8 702.9,1254.0 703.7,1253.5 704.5,1252.7 705.3,1252.5 706.1,1252.9 706.9,1253.0 707.7,1252.4 708.5,1251.6 709.3,1251.5 710.1,1251.9 710.9,1252.0 711.7,1251.3 712.5,1250.6 713.3,1250.6 714.1,1251.0 714.9,1251.0 715.7,1250.3 716.5,1249.7 717.3,1249.8 718.1,1250.2 718.9,1250.1 719.7,1249.4 720.5,1248.9 721.3,1249.0 722.1,1249.4 722.9,1249.3 723.7,1248.5 724.5,1248.0 725.3,1248.3 726.1,1248.6 726.9,1248.3 727.7,1247.5 728.5,1247.0 729.3,1247.3 730.1,1247.3 730.9,1246.8 731.7,1246.1 732.5,1245.6 733.3,1245.5 734.1,1245.2 734.9,1244.7 735.7,1244.1 736.5,1243.8 737.3,1243.5 738.1,1243.3 738.9,1243.1 739.7,1242.9 740.5,1242.7 741.3,1242.6 742.1,1242.4 742.9,1242.2 743.7,1242.1 744.5,1241.9 745.3,1241.7 746.1,1241.4 746.9,1241.0 747.7,1240.7 748.5,1240.3 749.3,1239.8 750.1,1239.4 750.9,1239.0 751.7,1238.5 752.5,1238.2 753.3,1237.8 754.1,1237.5 754.9,1237.2 755.7,1236.9 756.5,1236.7 757.3,1236.4 758.1,1236.2 758.9,1236.0 759.7,1235.7 760.5,1235.5 761.3,1235.3 762.1,1235.1 762.9,1234.8 763.7,1234.6 764.5,1234.4 765.3,1234.1 766.1,1233.9 766.9,1233.6 767.7,1233.4 768.5,1233.1 769.3,1232.8 770.1,1232.5 770.9,1232.1 771.7,1231.8 772.5,1231.4 773.3,1231.1 774.1,1230.7 774.9,1230.3 775.7,1229.9 776.5,1229.5 777.3,1229.1 778.1,1228.7 778.9,1228.3 779.7,1227.8 780.5,1227.4 781.3,1227.0 782.1,1226.6 782.9,1226.1 783.7,1225.7 784.5,1225.3 785.3,1224.8 786.1,1224.4 786.9,1224.0 787.7,1223.6 788.5,1223.2 789.3,1222.7 790.1,1222.3 790.9,1222.0 791.7,1221.6 792.5,1221.2 793.3,1220.8 794.1,1220.5 794.9,1220.1 795.7,1219.8 796.5,1219.4 797.3,1219.1 798.1,1218.7 798.9,1218.4 799.7,1218.1 800.5,1217.7 801.3,1217.4 802.1,1217.1 802.9,1216.7 803.7,1216.4 804.5,1216.1 805.3,1215.8 806.1,1215.4 806.9,1215.1 807.7,1214.8 808.5,1214.5 809.3,1214.2 810.1,1213.8 810.9,1213.5 811.7,1213.2 812.5,1212.8 813.3,1212.5 814.1,1212.2 814.9,1211.8 815.7,1211.5 816.5,1211.1 817.3,1210.8 818.1,1210.4 818.9,1210.1 819.7,1209.7 820.5,1209.4 821.3,1209.0 822.1,1208.6 822.9,1208.3 823.7,1207.9 824.5,1207.5 825.3,1207.1 826.1,1206.7 826.9,1206.3 827.7,1205.9 828.5,1205.5 829.3,1205.1 830.1,1204.7 830.9,1204.3 831.7,1203.9 832.5,1203.5 833.3,1203.1 834.1,1202.7 834.9,1202.3 835.7,1201.9 836.5,1201.5 837.3,1201.1 838.1,1200.7 838.9,1200.3 839.7,1199.9 840.5,1199.5 841.3,1199.1 842.1,1198.7 842.9,1198.3 843.7,1197.9 844.5,1197.5 845.3,1197.1 846.1,1196.7 846.9,1196.3 847.7,1195.9 848.5,1195.5 849.3,1195.1 850.1,1194.7 850.9,1194.3 851.7,1194.0 852.5,1193.6 853.3,1193.2 854.1,1192.8 854.9,1192.4 855.7,1192.1 856.5,1191.7 857.3,1191.3 858.1,1190.9 858.9,1190.6 859.7,1190.2 860.5,1189.8 861.3,1189.4 862.1,1189.0 862.9,1188.7 863.7,1188.3 864.5,1187.9 865.3,1187.6 866.1,1187.2 866.9,1186.8 867.7,1186.5 868.5,1186.1 869.3,1185.7 870.1,1185.4 870.9,1185.0 871.7,1184.6 872.5,1184.3 873.3,1184.0 874.1,1183.6 874.9,1183.1 875.7,1182.9 876.5,1182.7 877.3,1182.2 878.1,1181.7 878.9,1181.6 879.7,1181.3 880.5,1180.9 881.3,1180.7 882.1,1180.2 882.9,1179.7 883.7,1179.7 884.5,1179.6 885.3,1178.8 886.1,1178.4 886.9,1178.5 887.7,1178.2 888.5,1177.7 889.3,1177.5 890.1,1177.0 890.9,1176.6 891.7,1176.8 892.5,1176.4 893.3,1175.6 894.1,1175.4 894.9,1175.6 895.7,1175.1 896.5,1174.6 897.3,1174.4 898.1,1174.0 898.9,1173.8 899.7,1173.9 900.5,1173.3 901.3,1172.6 902.1,1172.7 902.9,1172.8 903.7,1172.2 904.5,1171.7 905.3,1171.7 906.1,1171.4 906.9,1171.2 907.7,1171.1 908.5,1170.5 909.3,1170.0 910.1,1170.3 910.9,1170.2 911.7,1169.5 912.5,1169.3 913.3,1169.3 914.1,1169.0 914.9,1168.8 915.7,1168.7 916.5,1168.1 917.3,1167.9 918.1,1168.3 918.9,1167.9 919.7,1167.2 920.5,1167.2 921.3,1167.3 922.1,1166.9 922.9,1166.7 923.7,1166.5 924.5,1166.0 925.3,1166.0 926.1,1166.2 926.9,1165.7 927.7,1165.1 928.5,1165.3 929.3,1165.4 930.1,1164.9 930.9,1164.7 931.7,1164.5 932.5,1164.2 933.3,1164.3 934.1,1164.3 934.9,1163.7 935.7,1163.3 936.5,1163.7 937.3,1163.6 938.1,1163.1 938.9,1163.0 939.7,1162.9 940.5,1162.7 941.3,1162.8 942.1,1162.7 942.9,1162.1 943.7,1162.1 944.5,1162.5 945.3,1162.2 946.1,1161.6 946.9,1161.7 947.7,1161.8 948.5,1161.6 949.3,1161.6 950.1,1161.4 950.9,1160.9 951.7,1161.1 952.5,1161.4 953.3,1160.9 954.1,1160.5 954.9,1160.7 955.7,1160.7 956.5,1160.5 957.3,1160.5 958.1,1160.2 958.9,1160.0 959.7,1160.3 960.5,1160.4 961.3,1159.7 962.1,1159.6 962.9,1160.0 963.7,1159.9 964.5,1159.7 965.3,1159.7 966.1,1159.6 966.9,1159.5 967.7,1159.9 968.5,1159.8 969.3,1159.2 970.1,1159.4 970.9,1159.9 971.7,1159.7 972.5,1159.4 973.3,1159.6 974.1,1159.5 974.9,1159.6 975.7,1159.9 976.5,1159.6 977.3,1159.2 978.1,1159.6 978.9,1160.0 979.7,1159.5 980.5,1159.4 981.3,1159.6 982.1,1159.6 982.9,1159.6 983.7,1159.8 984.5,1159.5 985.3,1159.3 986.1,1159.9 986.9,1160.0 987.7,1159.5 988.5,1159.5 989.3,1160.0 990.1,1159.9 990.9,1160.0 991.7,1160.1 992.5,1159.9 993.3,1160.1 994.1,1160.7 994.9,1160.6 995.7,1160.2 996.5,1160.6 997.3,1161.0 998.1,1160.9 998.9,1160.9 999.7,1161.1 1000.5,1161.0 1001.3,1161.3 1002.1,1161.8 1002.9,1161.5 1003.7,1161.3 1004.5,1161.9 1005.3,1162.2 1006.1,1162.0 1006.9,1162.1 1007.7,1162.4 1008.5,1162.4 1009.3,1162.8 1010.1,1163.1 1010.9,1162.8 1011.7,1162.8 1012.5,1163.6 1013.3,1163.8 1014.1,1163.5 1014.9,1163.7 1015.7,1164.1 1016.5,1164.2 1017.3,1164.6 1018.1,1164.7 1018.9,1164.5 1019.7,1164.9 1020.5,1165.6 1021.3,1165.6 1022.1,1165.4 1022.9,1165.9 1023.7,1166.3 1024.5,1166.4 1025.3,1166.7 1026.1,1166.9 1026.9,1166.9 1027.7,1167.5 1028.5,1168.1 1029.3,1168.0 1030.1,1168.0 1030.9,1168.7 1031.7,1169.1 1032.5,1169.2 1033.3,1169.6 1034.1,1169.8 1034.9,1170.0 1035.7,1170.7 1036.5,1171.2 1037.3,1171.0 1038.1,1171.3 1038.9,1172.2 1039.7,1172.4 1040.5,1172.5 1041.3,1172.9 1042.1,1173.3 1042.9,1173.6 1043.7,1174.3 1044.5,1174.6 1045.3,1174.4 1046.1,1175.1 1046.9,1176.0 1047.7,1176.1 1048.5,1176.2 1049.3,1176.8 1050.1,1177.3 1050.9,1177.7 1051.7,1178.4 1052.5,1178.6 1053.3,1178.7 1054.1,1179.6 1054.9,1180.3 1055.7,1180.3 1056.5,1180.6 1057.3,1181.5 1058.1,1181.9 1058.9,1182.4 1059.7,1182.9 1060.5,1183.2 1061.3,1183.6 1062.1,1184.5 1062.9,1185.0 1063.7,1185.1 1064.5,1185.7 1065.3,1186.3 1066.1,1186.8 1066.9,1187.3 1067.7,1187.8 1068.5,1188.3 1069.3,1188.9 1070.1,1189.4 1070.9,1189.9 1071.7,1190.5 1072.5,1191.0 1073.3,1191.6 1074.1,1192.1 1074.9,1192.7 1075.7,1193.3 1076.5,1193.8 1077.3,1194.4 1078.1,1195.0 1078.9,1195.6 1079.7,1196.2 1080.5,1196.8 1081.3,1197.4 1082.1,1198.0 1082.9,1198.6 1083.7,1199.3 1084.5,1199.9 1085.3,1200.5 1086.1,1201.2 1086.9,1201.9 1087.7,1202.5 1088.5,1203.2 1089.3,1203.9 1090.1,1204.6 1090.9,1205.3 1091.7,1206.0 1092.5,1206.7 1093.3,1207.4 1094.1,1208.1 1094.9,1208.9 1095.7,1209.6 1096.5,1210.4 1097.3,1211.1 1098.1,1211.9 1098.9,1212.6 1099.7,1213.4 1100.5,1214.2 1101.3,1214.9 1102.1,1215.7 1102.9,1216.5 1103.7,1217.3 1104.5,1218.1 1105.3,1218.9 1106.1,1219.7 1106.9,1220.5 1107.7,1221.4 1108.5,1222.2 1109.3,1223.0 1110.1,1223.9 1110.9,1224.7 1111.7,1225.6 1112.5,1226.4 1113.3,1227.3 1114.1,1228.2 1114.9,1229.1 1115.7,1230.0 1116.5,1230.9 1117.3,1231.8 1118.1,1232.7 1118.9,1233.6 1119.7,1234.5 1120.5,1235.4 1121.3,1236.4 1122.1,1237.3 1122.9,1238.2 1123.7,1239.2 1124.5,1240.1 1125.3,1241.1 1126.1,1242.1 1126.9,1243.0 1127.7,1244.0 1128.5,1245.0 1129.3,1246.0 1130.1,1247.0 1130.9,1248.0 1131.7,1249.0 1132.5,1250.0 1133.3,1251.1 1134.1,1252.1 1134.9,1253.1 1135.7,1254.2 1136.5,1255.2 1137.3,1256.3 1138.1,1257.4 1138.9,1258.4 1139.7,1259.5 1140.5,1260.6 1141.3,1261.7 1142.1,1262.8 1142.9,1263.9 1143.7,1265.0 1144.5,1266.1 1145.3,1267.3 1146.1,1268.4 1146.9,1269.6 1147.7,1270.7 1148.5,1271.9 1149.3,1273.1 1150.1,1274.3 1150.9,1275.5 1151.7,1276.8 1152.5,1278.0 1153.3,1279.2 1154.1,1280.5" fill="none" stroke="#0000ff" stroke-width="2.1" stroke-linejoin="round" clip-path="url(#c3)"/>
<g stroke="#262626" stroke-width="1" fill="none" shape-rendering="crispEdges">
<rect x="165.5" y="1142.5" width="989.0" height="310.0"/>
<line x1="412.5" y1="1142.5" x2="412.5" y2="1153.0"/><line x1="412.5" y1="1452.5" x2="412.5" y2="1442.0"/>
<line x1="660.5" y1="1142.5" x2="660.5" y2="1153.0"/><line x1="660.5" y1="1452.5" x2="660.5" y2="1442.0"/>
<line x1="907.5" y1="1142.5" x2="907.5" y2="1153.0"/><line x1="907.5" y1="1452.5" x2="907.5" y2="1442.0"/>
<line x1="165.5" y1="1194.5" x2="176.0" y2="1194.5"/><line x1="1154.5" y1="1194.5" x2="1144.0" y2="1194.5"/>
<line x1="165.5" y1="1245.5" x2="176.0" y2="1245.5"/><line x1="1154.5" y1="1245.5" x2="1144.0" y2="1245.5"/>
<line x1="165.5" y1="1297.5" x2="176.0" y2="1297.5"/><line x1="1154.5" y1="1297.5" x2="1144.0" y2="1297.5"/>
<line x1="165.5" y1="1349.5" x2="176.0" y2="1349.5"/><line x1="1154.5" y1="1349.5" x2="1144.0" y2="1349.5"/>
<line x1="165.5" y1="1400.5" x2="176.0" y2="1400.5"/><line x1="1154.5" y1="1400.5" x2="1144.0" y2="1400.5"/>
</g>
<g font-size="22.07" fill="#262626">
<text x="89.65" y="1149.00" textLength="66.25" lengthAdjust="spacingAndGlyphs">50000</text>
</g>
<g font-size="22.07" fill="#262626">
<text x="89.65" y="1200.67" textLength="66.25" lengthAdjust="spacingAndGlyphs">49500</text>
</g>
<g font-size="22.07" fill="#262626">
<text x="89.65" y="1252.33" textLength="66.25" lengthAdjust="spacingAndGlyphs">49000</text>
</g>
<g font-size="22.07" fill="#262626">
<text x="89.65" y="1304.00" textLength="66.25" lengthAdjust="spacingAndGlyphs">48500</text>
</g>
<g font-size="22.07" fill="#262626">
<text x="89.65" y="1355.67" textLength="66.25" lengthAdjust="spacingAndGlyphs">48000</text>
</g>
<g font-size="22.07" fill="#262626">
<text x="89.65" y="1407.33" textLength="66.25" lengthAdjust="spacingAndGlyphs">47500</text>
</g>
<g font-size="22.07" fill="#262626">
<text x="89.65" y="1459.00" textLength="66.25" lengthAdjust="spacingAndGlyphs">47000</text>
</g>
<g font-size="19.47" font-weight="bold" stroke="#262626" stroke-width="0.5" fill="#262626" transform="rotate(-90 53.50 1298.30)">
<text x="-34.00" y="1298.30" textLength="41.02" lengthAdjust="spacingAndGlyphs">CRF</text>
<text x="13.55" y="1298.30" textLength="127.45" lengthAdjust="spacingAndGlyphs">Coordinates</text>
</g>
<g font-size="19.47" font-weight="bold" stroke="#262626" stroke-width="0.5" fill="#262626" transform="rotate(-90 79.40 1298.30)">
<text x="40.51" y="1298.30" textLength="6.84" lengthAdjust="spacingAndGlyphs">|</text>
<text x="47.35" y="1298.30" textLength="14.30" lengthAdjust="spacingAndGlyphs">B</text>
<text x="61.65" y="1298.30" textLength="6.84" lengthAdjust="spacingAndGlyphs">|</text>
<text x="75.03" y="1298.30" textLength="8.56" lengthAdjust="spacingAndGlyphs">(</text>
<text x="83.59" y="1298.30" textLength="26.14" lengthAdjust="spacingAndGlyphs">nT</text>
<text x="109.73" y="1298.30" textLength="8.56" lengthAdjust="spacingAndGlyphs">)</text>
</g>
<g font-size="17.31" font-weight="bold" stroke="#000" stroke-width="0.5" fill="#000" transform="rotate(-90 1176.20 1359.90)">
<text x="1176.20" y="1359.90" textLength="72.80" lengthAdjust="spacingAndGlyphs">Inboard</text>
<text x="1254.79" y="1359.90" textLength="12.70" lengthAdjust="spacingAndGlyphs">B</text>
</g>
<g font-size="17.31" font-weight="bold" stroke="#000" stroke-width="0.5" fill="#000" transform="rotate(-90 1196.00 1359.90)">
<text x="1196.00" y="1359.90" textLength="88.72" lengthAdjust="spacingAndGlyphs">Outboard</text>
<text x="1290.52" y="1359.90" textLength="12.70" lengthAdjust="spacingAndGlyphs">B</text>
</g>
<g font-size="17.31" font-weight="bold" stroke="#000" stroke-width="0.5" fill="#000" transform="rotate(-90 1215.20 1359.90)">
<text x="1215.20" y="1359.90" textLength="56.94" lengthAdjust="spacingAndGlyphs">Model</text>
<text x="1277.93" y="1359.90" textLength="12.70" lengthAdjust="spacingAndGlyphs">B</text>
</g>
<rect x="1170.9" y="1388.9" width="2.1" height="16.9" fill="#0000ff"/>
<rect x="1189.85" y="1388.9" width="2.1" height="16.9" fill="#00ff00"/>
<rect x="1210.05" y="1388.9" width="2.1" height="16.9" fill="#ff0000"/>
<g font-size="17.31" font-weight="bold" stroke="#000" stroke-width="0.5" fill="#000">
<text x="24.30" y="1483.70" textLength="45.72" lengthAdjust="spacingAndGlyphs">Time</text>
<text x="70.02" y="1483.70" textLength="6.66" lengthAdjust="spacingAndGlyphs">:</text>
</g>
<g font-size="17.31" font-weight="bold" stroke="#000" stroke-width="0.5" fill="#000">
<text x="124.06" y="1483.70" textLength="23.19" lengthAdjust="spacingAndGlyphs">20</text>
<text x="147.25" y="1483.70" textLength="6.66" lengthAdjust="spacingAndGlyphs">:</text>
<text x="153.91" y="1483.70" textLength="23.19" lengthAdjust="spacingAndGlyphs">17</text>
<text x="177.09" y="1483.70" textLength="6.66" lengthAdjust="spacingAndGlyphs">:</text>
<text x="183.75" y="1483.70" textLength="23.19" lengthAdjust="spacingAndGlyphs">50</text>
</g>
<g font-size="17.31" font-weight="bold" stroke="#000" stroke-width="0.5" fill="#000">
<text x="371.31" y="1483.70" textLength="23.19" lengthAdjust="spacingAndGlyphs">20</text>
<text x="394.50" y="1483.70" textLength="6.66" lengthAdjust="spacingAndGlyphs">:</text>
<text x="401.16" y="1483.70" textLength="23.19" lengthAdjust="spacingAndGlyphs">21</text>
<text x="424.34" y="1483.70" textLength="6.66" lengthAdjust="spacingAndGlyphs">:</text>
<text x="431.00" y="1483.70" textLength="23.19" lengthAdjust="spacingAndGlyphs">53</text>
</g>
<g font-size="17.31" font-weight="bold" stroke="#000" stroke-width="0.5" fill="#000">
<text x="618.56" y="1483.70" textLength="23.19" lengthAdjust="spacingAndGlyphs">20</text>
<text x="641.75" y="1483.70" textLength="6.66" lengthAdjust="spacingAndGlyphs">:</text>
<text x="648.41" y="1483.70" textLength="23.19" lengthAdjust="spacingAndGlyphs">25</text>
<text x="671.59" y="1483.70" textLength="6.66" lengthAdjust="spacingAndGlyphs">:</text>
<text x="678.25" y="1483.70" textLength="23.19" lengthAdjust="spacingAndGlyphs">55</text>
</g>
<g font-size="17.31" font-weight="bold" stroke="#000" stroke-width="0.5" fill="#000">
<text x="865.81" y="1483.70" textLength="23.19" lengthAdjust="spacingAndGlyphs">20</text>
<text x="889.00" y="1483.70" textLength="6.66" lengthAdjust="spacingAndGlyphs">:</text>
<text x="895.66" y="1483.70" textLength="23.19" lengthAdjust="spacingAndGlyphs">29</text>
<text x="918.84" y="1483.70" textLength="6.66" lengthAdjust="spacingAndGlyphs">:</text>
<text x="925.50" y="1483.70" textLength="23.19" lengthAdjust="spacingAndGlyphs">57</text>
</g>
<g font-size="17.31" font-weight="bold" stroke="#000" stroke-width="0.5" fill="#000">
<text x="1113.06" y="1483.70" textLength="23.19" lengthAdjust="spacingAndGlyphs">20</text>
<text x="1136.25" y="1483.70" textLength="6.66" lengthAdjust="spacingAndGlyphs">:</text>
<text x="1142.91" y="1483.70" textLength="23.19" lengthAdjust="spacingAndGlyphs">33</text>
<text x="1166.09" y="1483.70" textLength="6.66" lengthAdjust="spacingAndGlyphs">:</text>
<text x="1172.75" y="1483.70" textLength="23.19" lengthAdjust="spacingAndGlyphs">59</text>
</g>
<g font-size="17.31" font-weight="bold" stroke="#000" stroke-width="0.5" fill="#000">
<text x="24.30" y="1508.30" textLength="35.98" lengthAdjust="spacingAndGlyphs">Rad</text>
<text x="60.28" y="1508.30" textLength="7.61" lengthAdjust="spacingAndGlyphs">(</text>
<text x="67.89" y="1508.30" textLength="28.44" lengthAdjust="spacingAndGlyphs">km</text>
<text x="96.33" y="1508.30" textLength="7.61" lengthAdjust="spacingAndGlyphs">)</text>
<text x="103.94" y="1508.30" textLength="6.66" lengthAdjust="spacingAndGlyphs">:</text>
</g>
<g font-size="17.31" font-weight="bold" stroke="#000" stroke-width="0.5" fill="#000">
<text x="133.35" y="1508.30" textLength="46.38" lengthAdjust="spacingAndGlyphs">6917</text>
<text x="179.73" y="1508.30" textLength="6.33" lengthAdjust="spacingAndGlyphs">.</text>
<text x="186.05" y="1508.30" textLength="11.59" lengthAdjust="spacingAndGlyphs">5</text>
</g>
<g font-size="17.31" font-weight="bold" stroke="#000" stroke-width="0.5" fill="#000">
<text x="380.60" y="1508.30" textLength="46.38" lengthAdjust="spacingAndGlyphs">6820</text>
<text x="426.98" y="1508.30" textLength="6.33" lengthAdjust="spacingAndGlyphs">.</text>
<text x="433.30" y="1508.30" textLength="11.59" lengthAdjust="spacingAndGlyphs">2</text>
</g>
<g font-size="17.31" font-weight="bold" stroke="#000" stroke-width="0.5" fill="#000">
<text x="627.85" y="1508.30" textLength="46.38" lengthAdjust="spacingAndGlyphs">6746</text>
<text x="674.23" y="1508.30" textLength="6.33" lengthAdjust="spacingAndGlyphs">.</text>
<text x="680.55" y="1508.30" textLength="11.59" lengthAdjust="spacingAndGlyphs">5</text>
</g>
<g font-size="17.31" font-weight="bold" stroke="#000" stroke-width="0.5" fill="#000">
<text x="875.10" y="1508.30" textLength="46.38" lengthAdjust="spacingAndGlyphs">6702</text>
<text x="921.48" y="1508.30" textLength="6.33" lengthAdjust="spacingAndGlyphs">.</text>
<text x="927.80" y="1508.30" textLength="11.59" lengthAdjust="spacingAndGlyphs">6</text>
</g>
<g font-size="17.31" font-weight="bold" stroke="#000" stroke-width="0.5" fill="#000">
<text x="1122.35" y="1508.30" textLength="46.38" lengthAdjust="spacingAndGlyphs">6692</text>
<text x="1168.73" y="1508.30" textLength="6.33" lengthAdjust="spacingAndGlyphs">.</text>
<text x="1175.05" y="1508.30" textLength="11.59" lengthAdjust="spacingAndGlyphs">4</text>
</g>
<g font-size="17.31" font-weight="bold" stroke="#000" stroke-width="0.5" fill="#000">
<text x="24.30" y="1533.00" textLength="29.81" lengthAdjust="spacingAndGlyphs">Lat</text>
<text x="54.11" y="1533.00" textLength="6.66" lengthAdjust="spacingAndGlyphs">:</text>
</g>
<g font-size="17.31" font-weight="bold" stroke="#000" stroke-width="0.5" fill="#000">
<text x="144.95" y="1533.00" textLength="23.19" lengthAdjust="spacingAndGlyphs">60</text>
<text x="168.13" y="1533.00" textLength="6.33" lengthAdjust="spacingAndGlyphs">.</text>
<text x="174.46" y="1533.00" textLength="11.59" lengthAdjust="spacingAndGlyphs">0</text>
</g>
<g font-size="17.31" font-weight="bold" stroke="#000" stroke-width="0.5" fill="#000">
<text x="392.20" y="1533.00" textLength="23.19" lengthAdjust="spacingAndGlyphs">74</text>
<text x="415.38" y="1533.00" textLength="6.33" lengthAdjust="spacingAndGlyphs">.</text>
<text x="421.71" y="1533.00" textLength="11.59" lengthAdjust="spacingAndGlyphs">2</text>
</g>
<g font-size="17.31" font-weight="bold" stroke="#000" stroke-width="0.5" fill="#000">
<text x="639.45" y="1533.00" textLength="23.19" lengthAdjust="spacingAndGlyphs">80</text>
<text x="662.63" y="1533.00" textLength="6.33" lengthAdjust="spacingAndGlyphs">.</text>
<text x="668.96" y="1533.00" textLength="11.59" lengthAdjust="spacingAndGlyphs">4</text>
</g>
<g font-size="17.31" font-weight="bold" stroke="#000" stroke-width="0.5" fill="#000">
<text x="886.70" y="1533.00" textLength="23.19" lengthAdjust="spacingAndGlyphs">68</text>
<text x="909.88" y="1533.00" textLength="6.33" lengthAdjust="spacingAndGlyphs">.</text>
<text x="916.21" y="1533.00" textLength="11.59" lengthAdjust="spacingAndGlyphs">6</text>
</g>
<g font-size="17.31" font-weight="bold" stroke="#000" stroke-width="0.5" fill="#000">
<text x="1133.95" y="1533.00" textLength="23.19" lengthAdjust="spacingAndGlyphs">53</text>
<text x="1157.13" y="1533.00" textLength="6.33" lengthAdjust="spacingAndGlyphs">.</text>
<text x="1163.46" y="1533.00" textLength="11.59" lengthAdjust="spacingAndGlyphs">1</text>
</g>
<g font-size="17.31" font-weight="bold" stroke="#000" stroke-width="0.5" fill="#000">
<text x="24.30" y="1557.70" textLength="33.91" lengthAdjust="spacingAndGlyphs">Lon</text>
<text x="58.21" y="1557.70" textLength="6.66" lengthAdjust="spacingAndGlyphs">:</text>
</g>
<g font-size="17.31" font-weight="bold" stroke="#000" stroke-width="0.5" fill="#000">
<text x="139.15" y="1557.70" textLength="34.78" lengthAdjust="spacingAndGlyphs">105</text>
<text x="173.93" y="1557.70" textLength="6.33" lengthAdjust="spacingAndGlyphs">.</text>
<text x="180.26" y="1557.70" textLength="11.59" lengthAdjust="spacingAndGlyphs">2</text>
</g>
<g font-size="17.31" font-weight="bold" stroke="#000" stroke-width="0.5" fill="#000">
<text x="386.40" y="1557.70" textLength="34.78" lengthAdjust="spacingAndGlyphs">122</text>
<text x="421.18" y="1557.70" textLength="6.33" lengthAdjust="spacingAndGlyphs">.</text>
<text x="427.51" y="1557.70" textLength="11.59" lengthAdjust="spacingAndGlyphs">4</text>
</g>
<g font-size="17.31" font-weight="bold" stroke="#000" stroke-width="0.5" fill="#000">
<text x="630.20" y="1557.70" textLength="6.91" lengthAdjust="spacingAndGlyphs">-</text>
<text x="637.10" y="1557.70" textLength="34.78" lengthAdjust="spacingAndGlyphs">163</text>
<text x="671.88" y="1557.70" textLength="6.33" lengthAdjust="spacingAndGlyphs">.</text>
<text x="678.21" y="1557.70" textLength="11.59" lengthAdjust="spacingAndGlyphs">9</text>
</g>
<g font-size="17.31" font-weight="bold" stroke="#000" stroke-width="0.5" fill="#000">
<text x="877.45" y="1557.70" textLength="6.91" lengthAdjust="spacingAndGlyphs">-</text>
<text x="884.35" y="1557.70" textLength="34.78" lengthAdjust="spacingAndGlyphs">117</text>
<text x="919.13" y="1557.70" textLength="6.33" lengthAdjust="spacingAndGlyphs">.</text>
<text x="925.46" y="1557.70" textLength="11.59" lengthAdjust="spacingAndGlyphs">9</text>
</g>
<g font-size="17.31" font-weight="bold" stroke="#000" stroke-width="0.5" fill="#000">
<text x="1124.70" y="1557.70" textLength="6.91" lengthAdjust="spacingAndGlyphs">-</text>
<text x="1131.60" y="1557.70" textLength="34.78" lengthAdjust="spacingAndGlyphs">107</text>
<text x="1166.38" y="1557.70" textLength="6.33" lengthAdjust="spacingAndGlyphs">.</text>
<text x="1172.71" y="1557.70" textLength="11.59" lengthAdjust="spacingAndGlyphs">1</text>
</g>
<g font-size="17.31" font-weight="bold" stroke="#000" stroke-width="0.5" fill="#000">
<text x="24.30" y="1582.40" textLength="41.48" lengthAdjust="spacingAndGlyphs">Mlat</text>
<text x="65.78" y="1582.40" textLength="6.66" lengthAdjust="spacingAndGlyphs">:</text>
</g>
<g font-size="17.31" font-weight="bold" stroke="#000" stroke-width="0.5" fill="#000">
<text x="144.95" y="1582.40" textLength="23.19" lengthAdjust="spacingAndGlyphs">50</text>
<text x="168.13" y="1582.40" textLength="6.33" lengthAdjust="spacingAndGlyphs">.</text>
<text x="174.46" y="1582.40" textLength="11.59" lengthAdjust="spacingAndGlyphs">6</text>
</g>
<g font-size="17.31" font-weight="bold" stroke="#000" stroke-width="0.5" fill="#000">
<text x="392.20" y="1582.40" textLength="23.19" lengthAdjust="spacingAndGlyphs">65</text>
<text x="415.38" y="1582.40" textLength="6.33" lengthAdjust="spacingAndGlyphs">.</text>
<text x="421.71" y="1582.40" textLength="11.59" lengthAdjust="spacingAndGlyphs">0</text>
</g>
<g font-size="17.31" font-weight="bold" stroke="#000" stroke-width="0.5" fill="#000">
<text x="639.45" y="1582.40" textLength="23.19" lengthAdjust="spacingAndGlyphs">76</text>
<text x="662.63" y="1582.40" textLength="6.33" lengthAdjust="spacingAndGlyphs">.</text>
<text x="668.96" y="1582.40" textLength="11.59" lengthAdjust="spacingAndGlyphs">5</text>
</g>
<g font-size="17.31" font-weight="bold" stroke="#000" stroke-width="0.5" fill="#000">
<text x="886.70" y="1582.40" textLength="23.19" lengthAdjust="spacingAndGlyphs">73</text>
<text x="909.88" y="1582.40" textLength="6.33" lengthAdjust="spacingAndGlyphs">.</text>
<text x="916.21" y="1582.40" textLength="11.59" lengthAdjust="spacingAndGlyphs">9</text>
</g>
<g font-size="17.31" font-weight="bold" stroke="#000" stroke-width="0.5" fill="#000">
<text x="1133.95" y="1582.40" textLength="23.19" lengthAdjust="spacingAndGlyphs">60</text>
<text x="1157.13" y="1582.40" textLength="6.33" lengthAdjust="spacingAndGlyphs">.</text>
<text x="1163.46" y="1582.40" textLength="11.59" lengthAdjust="spacingAndGlyphs">4</text>
</g>
<g font-size="17.31" font-weight="bold" stroke="#000" stroke-width="0.5" fill="#000">
<text x="24.30" y="1607.00" textLength="30.25" lengthAdjust="spacingAndGlyphs">Mlt</text>
<text x="54.55" y="1607.00" textLength="6.66" lengthAdjust="spacingAndGlyphs">:</text>
</g>
<g font-size="17.31" font-weight="bold" stroke="#000" stroke-width="0.5" fill="#000">
<text x="139.15" y="1607.00" textLength="11.59" lengthAdjust="spacingAndGlyphs">3</text>
<text x="150.74" y="1607.00" textLength="6.33" lengthAdjust="spacingAndGlyphs">.</text>
<text x="157.07" y="1607.00" textLength="34.78" lengthAdjust="spacingAndGlyphs">203</text>
</g>
<g font-size="17.31" font-weight="bold" stroke="#000" stroke-width="0.5" fill="#000">
<text x="386.40" y="1607.00" textLength="11.59" lengthAdjust="spacingAndGlyphs">4</text>
<text x="397.99" y="1607.00" textLength="6.33" lengthAdjust="spacingAndGlyphs">.</text>
<text x="404.32" y="1607.00" textLength="34.78" lengthAdjust="spacingAndGlyphs">018</text>
</g>
<g font-size="17.31" font-weight="bold" stroke="#000" stroke-width="0.5" fill="#000">
<text x="633.65" y="1607.00" textLength="11.59" lengthAdjust="spacingAndGlyphs">6</text>
<text x="645.24" y="1607.00" textLength="6.33" lengthAdjust="spacingAndGlyphs">.</text>
<text x="651.57" y="1607.00" textLength="34.78" lengthAdjust="spacingAndGlyphs">450</text>
</g>
<g font-size="17.31" font-weight="bold" stroke="#000" stroke-width="0.5" fill="#000">
<text x="875.10" y="1607.00" textLength="23.19" lengthAdjust="spacingAndGlyphs">10</text>
<text x="898.29" y="1607.00" textLength="6.33" lengthAdjust="spacingAndGlyphs">.</text>
<text x="904.62" y="1607.00" textLength="34.78" lengthAdjust="spacingAndGlyphs">943</text>
</g>
<g font-size="17.31" font-weight="bold" stroke="#000" stroke-width="0.5" fill="#000">
<text x="1122.35" y="1607.00" textLength="23.19" lengthAdjust="spacingAndGlyphs">12</text>
<text x="1145.54" y="1607.00" textLength="6.33" lengthAdjust="spacingAndGlyphs">.</text>
<text x="1151.87" y="1607.00" textLength="34.78" lengthAdjust="spacingAndGlyphs">682</text>
</g>
<g font-size="17.31" font-weight="bold" stroke="#000" stroke-width="0.5" fill="#000">
<text x="-1.20" y="1643.20" textLength="88.89" lengthAdjust="spacingAndGlyphs">Summary</text>
<text x="93.49" y="1643.20" textLength="18.69" lengthAdjust="spacingAndGlyphs">of</text>
<text x="117.97" y="1643.20" textLength="41.62" lengthAdjust="spacingAndGlyphs">MGF</text>
<text x="159.60" y="1643.20" textLength="8.33" lengthAdjust="spacingAndGlyphs">_</text>
<text x="167.93" y="1643.20" textLength="92.75" lengthAdjust="spacingAndGlyphs">20201218</text>
<text x="260.68" y="1643.20" textLength="8.33" lengthAdjust="spacingAndGlyphs">_</text>
<text x="269.00" y="1643.20" textLength="69.56" lengthAdjust="spacingAndGlyphs">201750</text>
<text x="338.57" y="1643.20" textLength="8.33" lengthAdjust="spacingAndGlyphs">_</text>
<text x="346.89" y="1643.20" textLength="69.56" lengthAdjust="spacingAndGlyphs">203359</text>
<text x="416.46" y="1643.20" textLength="8.33" lengthAdjust="spacingAndGlyphs">_</text>
<text x="424.78" y="1643.20" textLength="10.86" lengthAdjust="spacingAndGlyphs">v</text>
<text x="435.64" y="1643.20" textLength="11.59" lengthAdjust="spacingAndGlyphs">2</text>
<text x="447.24" y="1643.20" textLength="6.33" lengthAdjust="spacingAndGlyphs">.</text>
<text x="453.57" y="1643.20" textLength="11.59" lengthAdjust="spacingAndGlyphs">1</text>
<text x="465.16" y="1643.20" textLength="6.33" lengthAdjust="spacingAndGlyphs">.</text>
<text x="471.49" y="1643.20" textLength="11.59" lengthAdjust="spacingAndGlyphs">0</text>
<text x="483.08" y="1643.20" textLength="6.33" lengthAdjust="spacingAndGlyphs">.</text>
<text x="489.41" y="1643.20" textLength="16.56" lengthAdjust="spacingAndGlyphs">lv</text>
<text x="505.97" y="1643.20" textLength="11.59" lengthAdjust="spacingAndGlyphs">2</text>
<text x="523.36" y="1643.20" textLength="23.30" lengthAdjust="spacingAndGlyphs">on</text>
<text x="552.46" y="1643.20" textLength="23.19" lengthAdjust="spacingAndGlyphs">24</text>
<text x="575.64" y="1643.20" textLength="6.91" lengthAdjust="spacingAndGlyphs">-</text>
<text x="582.55" y="1643.20" textLength="36.23" lengthAdjust="spacingAndGlyphs">Nov</text>
<text x="618.78" y="1643.20" textLength="6.91" lengthAdjust="spacingAndGlyphs">-</text>
<text x="625.69" y="1643.20" textLength="46.38" lengthAdjust="spacingAndGlyphs">2021</text>
<text x="677.86" y="1643.20" textLength="23.19" lengthAdjust="spacingAndGlyphs">18</text>
<text x="701.05" y="1643.20" textLength="6.66" lengthAdjust="spacingAndGlyphs">:</text>
<text x="707.71" y="1643.20" textLength="23.19" lengthAdjust="spacingAndGlyphs">43</text>
<text x="730.89" y="1643.20" textLength="6.66" lengthAdjust="spacingAndGlyphs">:</text>
<text x="737.55" y="1643.20" textLength="23.19" lengthAdjust="spacingAndGlyphs">29</text>
<text x="766.53" y="1643.20" textLength="7.61" lengthAdjust="spacingAndGlyphs">(</text>
<text x="774.14" y="1643.20" textLength="100.86" lengthAdjust="spacingAndGlyphs">calibration</text>
<text x="880.80" y="1643.20" textLength="31.02" lengthAdjust="spacingAndGlyphs">cas</text>
<text x="911.82" y="1643.20" textLength="8.33" lengthAdjust="spacingAndGlyphs">_</text>
<text x="920.14" y="1643.20" textLength="36.53" lengthAdjust="spacingAndGlyphs">mgf</text>
<text x="956.67" y="1643.20" textLength="8.33" lengthAdjust="spacingAndGlyphs">_</text>
<text x="965.00" y="1643.20" textLength="11.59" lengthAdjust="spacingAndGlyphs">7</text>
<text x="976.60" y="1643.20" textLength="33.50" lengthAdjust="spacingAndGlyphs">day</text>
<text x="1010.10" y="1643.20" textLength="8.33" lengthAdjust="spacingAndGlyphs">_</text>
<text x="1018.42" y="1643.20" textLength="26.81" lengthAdjust="spacingAndGlyphs">cal</text>
<text x="1045.24" y="1643.20" textLength="8.33" lengthAdjust="spacingAndGlyphs">_</text>
<text x="1053.57" y="1643.20" textLength="46.38" lengthAdjust="spacingAndGlyphs">2020</text>
<text x="1099.94" y="1643.20" textLength="8.33" lengthAdjust="spacingAndGlyphs">_</text>
<text x="1108.27" y="1643.20" textLength="23.19" lengthAdjust="spacingAndGlyphs">12</text>
<text x="1131.46" y="1643.20" textLength="8.33" lengthAdjust="spacingAndGlyphs">_</text>
<text x="1139.78" y="1643.20" textLength="23.19" lengthAdjust="spacingAndGlyphs">18</text>
<text x="1162.97" y="1643.20" textLength="8.33" lengthAdjust="spacingAndGlyphs">_</text>
<text x="1171.30" y="1643.20" textLength="10.86" lengthAdjust="spacingAndGlyphs">v</text>
<text x="1182.16" y="1643.20" textLength="11.59" lengthAdjust="spacingAndGlyphs">2</text>
<text x="1193.75" y="1643.20" textLength="6.33" lengthAdjust="spacingAndGlyphs">.</text>
<text x="1200.08" y="1643.20" textLength="11.59" lengthAdjust="spacingAndGlyphs">1</text>
<text x="1211.67" y="1643.20" textLength="6.33" lengthAdjust="spacingAndGlyphs">.</text>
<text x="1218.00" y="1643.20" textLength="36.56" lengthAdjust="spacingAndGlyphs">mat</text>
<text x="1260.36" y="1643.20" textLength="7.61" lengthAdjust="spacingAndGlyphs">)</text>
</g>
<text x="449.40" y="43.00" font-size="34.4" fill="#111" style="font-family:'Liberation Serif',serif" textLength="95.35" lengthAdjust="spacingAndGlyphs">e-POP</text>
<text x="558.80" y="43.00" font-size="34.4" fill="#111" style="font-family:'Liberation Serif',serif" textLength="75.81" lengthAdjust="spacingAndGlyphs">MGF</text>
<text x="647.10" y="43.00" font-size="34.4" fill="#111" style="font-family:'Liberation Serif',serif" textLength="135.85" lengthAdjust="spacingAndGlyphs">Summary</text>
<text x="798.90" y="43.00" font-size="34.4" fill="#111" style="font-family:'Liberation Serif',serif" textLength="60.07" lengthAdjust="spacingAndGlyphs">Plot</text>
<text x="522.50" y="83.70" font-size="34.4" fill="#111" style="font-family:'Liberation Serif',serif" textLength="140.44" lengthAdjust="spacingAndGlyphs">December</text>
<text x="678.90" y="83.70" font-size="34.4" fill="#111" style="font-family:'Liberation Serif',serif" textLength="38.80" lengthAdjust="spacingAndGlyphs">18,</text>
<text x="731.80" y="83.70" font-size="34.4" fill="#111" style="font-family:'Liberation Serif',serif" textLength="65.30" lengthAdjust="spacingAndGlyphs">2020</text>
<g id="cassiope">
<defs>
<clipPath id="hexin"><polygon points="234.1,53.3 256.1,14.9 300.9,14.9 323.4,53.3 300.9,91.7 256.1,91.7"/></clipPath>
<radialGradient id="earthg" gradientUnits="userSpaceOnUse" cx="318" cy="260" r="206"><stop offset="0.87" stop-color="#ffffff"/><stop offset="0.905" stop-color="#cfe2f5"/><stop offset="0.94" stop-color="#7fb0e6"/><stop offset="0.972" stop-color="#4a8ad6"/><stop offset="0.992" stop-color="#7db6f0"/><stop offset="1" stop-color="#b5d9fa"/></radialGradient>
<radialGradient id="aurg" gradientUnits="userSpaceOnUse" cx="318" cy="260" r="216"><stop offset="0.953" stop-color="#020a14"/><stop offset="0.961" stop-color="#04141c"/><stop offset="0.968" stop-color="#11704a"/><stop offset="0.976" stop-color="#22a065"/><stop offset="0.986" stop-color="#137548" stop-opacity="0.75"/><stop offset="1" stop-color="#000" stop-opacity="0"/></radialGradient>
<linearGradient id="fadeb" x1="0" y1="0" x2="0" y2="1"><stop offset="0" stop-color="#fff" stop-opacity="0"/><stop offset="1" stop-color="#fff" stop-opacity="1"/></linearGradient>
<linearGradient id="aurfade" gradientUnits="userSpaceOnUse" x1="240" y1="0" x2="325" y2="0"><stop offset="0" stop-color="#000" stop-opacity="0"/><stop offset="1" stop-color="#000" stop-opacity="0.6"/></linearGradient>
</defs>
<polygon points="228.5,53.3 253.6,10.2 303.9,10.2 329,53.3 303.9,96.5 253.0,96.5" fill="#fff" stroke="#c4e6ef" stroke-width="0.7"/>
<g clip-path="url(#hexin)">
<rect x="230" y="10" width="100" height="90" fill="#fff"/><polygon points="230,10 330,10 330,56.3 321.6,56 294,58.3 268,63.4 243,70.8 238,72 230,60" fill="#03060c"/>
<circle cx="318" cy="260" r="211" fill="none" stroke-width="10.6" stroke="url(#aurg)"/>
<rect x="230" y="40" width="100" height="40" fill="url(#aurfade)"/>
<circle cx="318" cy="260" r="206" fill="url(#earthg)"/>
<g fill="#ffffff" opacity="0.75">
<ellipse cx="270" cy="70" rx="13" ry="1.6" transform="rotate(-14 270 70)"/>
<ellipse cx="290" cy="66" rx="10" ry="1.4" transform="rotate(-9 290 66)"/>
<ellipse cx="283" cy="74" rx="12" ry="2.2" transform="rotate(-12 283 74)"/>
<ellipse cx="262" cy="78" rx="9" ry="2" transform="rotate(-18 262 78)"/>
<ellipse cx="305" cy="63" rx="9" ry="1.3" transform="rotate(-6 305 63)"/>
</g>
<polygon points="296.61,83.08 310.42,74.03 303.08,89.12" fill="#2f6cbc"/>
<polygon points="295.75,82.65 309.99,73.59 300.93,74.03" fill="#e8f1fb"/>
<rect x="230" y="80" width="100" height="8" fill="url(#fadeb)"/><rect x="230" y="87.9" width="100" height="5" fill="#fff"/>
<circle cx="258.22" cy="26.14" r="0.75" fill="#cfd6ee"/>
<circle cx="264.26" cy="18.37" r="0.4" fill="#cfd6ee"/>
<circle cx="295.32" cy="16.22" r="0.45" fill="#cfd6ee"/>
<circle cx="240.53" cy="50.30" r="0.55" fill="#cfd6ee"/>
<circle cx="291.44" cy="47.28" r="0.45" fill="#cfd6ee"/>
<circle cx="302.65" cy="40.38" r="0.4" fill="#cfd6ee"/>
<circle cx="280.22" cy="23.55" r="0.3" fill="#cfd6ee"/>
<circle cx="307.83" cy="30.88" r="0.3" fill="#cfd6ee"/>
<circle cx="250.88" cy="33.47" r="0.3" fill="#cfd6ee"/>
<line x1="286.41" y1="50.24" x2="302.18" y2="72.82" stroke="#eef5ff" stroke-width="0.9"/>
<line x1="262.18" y1="47.65" x2="252.53" y2="46.56" stroke="#b9ad94" stroke-width="0.7"/>
<ellipse cx="253.09" cy="46.66" rx="1.7" ry="0.95" fill="#f0a02e"/>
<line x1="273.24" y1="54.47" x2="265.71" y2="63.41" stroke="#8a7a58" stroke-width="0.7"/>
<circle cx="265.71" cy="63.41" r="0.8" fill="#d9902c"/>
<line x1="263.59" y1="42.94" x2="254.65" y2="44.49" stroke="#4d4638" stroke-width="0.4"/>
<polygon points="279.35,42.71 289.00,43.18 286.65,48.59 281.47,54.24 273.24,54.56 272.76,54.00" fill="#d2a85a"/>
<polygon points="281.71,43.27 287.59,43.74 285.24,47.65 282.18,46.56" fill="#3a2c14"/>
<polygon points="278.18,46.47 282.41,47.04 280.06,52.12 276.06,52.12" fill="#e8e6dc"/>
<polygon points="273.24,54.56 281.47,54.24 278.88,56.82 273.71,56.82" fill="#1c2a30"/>
<polygon points="268.06,30.09 286.98,39.65 279.35,42.71 269.47,34.61" fill="#2877cf"/>
<polygon points="269.47,34.61 279.35,42.71 272.76,54.09 262.18,47.04" fill="#3e8fe2"/>
<polygon points="267.02,30.47 269.09,31.22 269.47,34.61 262.18,47.04 261.85,45.76" fill="#c98b35"/>
<g stroke="#2f7fd6" stroke-width="0.35">
<line x1="271.94" y1="36.64" x2="264.82" y2="48.80"/>
<line x1="267.65" y1="37.72" x2="277.71" y2="45.55"/>
<line x1="274.41" y1="38.66" x2="267.47" y2="50.56"/>
<line x1="265.82" y1="40.82" x2="276.06" y2="48.40"/>
<line x1="276.88" y1="40.68" x2="270.12" y2="52.33"/>
<line x1="264.00" y1="43.93" x2="274.41" y2="51.25"/>
</g>
<circle cx="278.93" cy="80.24" r="3.9" fill="#1d6dc2"/>
<path d="M276.53,80.04 h4.6 M276.73,81.54 q2.2,1.4 4.4,0.2" stroke="#e9f3ff" stroke-width="0.8" fill="none"/>
<path d="M281.43,82.04 q3,-1.2 6,-0.2" stroke="#1d6dc2" stroke-width="0.9" fill="none"/>
</g>
<text x="260.8" y="90.5" font-size="4.4" font-weight="bold" fill="#2ea6e0" textLength="35.4" lengthAdjust="spacingAndGlyphs">CASSIOPE</text>
</g>
<g id="esa">
<defs>
<clipPath id="esadisc"><circle cx="997.6" cy="53.7" r="20.2"/></clipPath>
<mask id="esam"><rect x="970" y="25" width="60" height="60" fill="#000"/><circle cx="997.6" cy="53.7" r="20.2" fill="#fff"/><circle cx="1007.3" cy="52.9" r="10.9" fill="#000"/><circle cx="986.2" cy="53.4" r="1.6" fill="#000"/></mask>
</defs>
<clipPath id="esaA"><polygon points="970,25 1030,25 1030,48 1003,58 992,72 984,80 970,80"/></clipPath>
<clipPath id="esaB"><polygon points="970,52 984,50 1000,56 1030,60 1030,85 970,85"/></clipPath>
<g mask="url(#esam)"><g clip-path="url(#esaA)" stroke="#00205f" stroke-width="1.45" fill="none">
<path d="M979.80,31.00 L979.66,32.00 L979.52,33.00 L979.36,34.00 L979.17,35.00 L978.95,36.00 L978.70,37.00 L978.42,38.00 L978.10,39.00 L977.74,40.00 L977.35,41.00 L976.93,42.00 L976.47,43.00 L975.97,44.00 L975.43,45.00 L974.85,46.00 L974.23,47.00 L973.57,48.00 L972.86,49.00 L972.10,50.00 L971.31,51.00 L970.51,52.00 L969.68,53.00 L968.84,54.00 L967.98,55.00 L967.10,56.00 L966.20,57.00 L965.29,58.00 L964.35,59.00 L963.40,60.00 L962.43,61.00 L961.46,62.00 L960.48,63.00 L959.50,64.00 L958.51,65.00 L957.52,66.00 L956.53,67.00 L955.53,68.00 L954.53,69.00 L953.52,70.00 L952.51,71.00 L951.50,72.00 L950.48,73.00 L949.45,74.00 L948.43,75.00 L947.39,76.00 L946.36,77.00"/>
<path d="M982.65,31.00 L982.51,32.00 L982.37,33.00 L982.21,34.00 L982.02,35.00 L981.80,36.00 L981.55,37.00 L981.27,38.00 L980.95,39.00 L980.59,40.00 L980.20,41.00 L979.78,42.00 L979.32,43.00 L978.82,44.00 L978.28,45.00 L977.70,46.00 L977.08,47.00 L976.42,48.00 L975.71,49.00 L974.95,50.00 L974.16,51.00 L973.36,52.00 L972.53,53.00 L971.69,54.00 L970.83,55.00 L969.95,56.00 L969.05,57.00 L968.14,58.00 L967.20,59.00 L966.25,60.00 L965.28,61.00 L964.31,62.00 L963.33,63.00 L962.35,64.00 L961.36,65.00 L960.37,66.00 L959.38,67.00 L958.38,68.00 L957.38,69.00 L956.37,70.00 L955.36,71.00 L954.35,72.00 L953.33,73.00 L952.30,74.00 L951.28,75.00 L950.24,76.00 L949.21,77.00"/>
<path d="M985.50,31.00 L985.36,32.00 L985.22,33.00 L985.06,34.00 L984.87,35.00 L984.65,36.00 L984.40,37.00 L984.12,38.00 L983.80,39.00 L983.44,40.00 L983.05,41.00 L982.63,42.00 L982.17,43.00 L981.67,44.00 L981.13,45.00 L980.55,46.00 L979.93,47.00 L979.27,48.00 L978.56,49.00 L977.80,50.00 L977.01,51.00 L976.21,52.00 L975.38,53.00 L974.54,54.00 L973.68,55.00 L972.80,56.00 L971.90,57.00 L970.99,58.00 L970.05,59.00 L969.10,60.00 L968.13,61.00 L967.16,62.00 L966.18,63.00 L965.20,64.00 L964.21,65.00 L963.22,66.00 L962.23,67.00 L961.23,68.00 L960.23,69.00 L959.22,70.00 L958.21,71.00 L957.20,72.00 L956.18,73.00 L955.15,74.00 L954.13,75.00 L953.09,76.00 L952.06,77.00"/>
<path d="M988.35,31.00 L988.21,32.00 L988.07,33.00 L987.91,34.00 L987.72,35.00 L987.50,36.00 L987.25,37.00 L986.97,38.00 L986.65,39.00 L986.29,40.00 L985.90,41.00 L985.48,42.00 L985.02,43.00 L984.52,44.00 L983.98,45.00 L983.40,46.00 L982.78,47.00 L982.12,48.00 L981.41,49.00 L980.65,50.00 L979.86,51.00 L979.06,52.00 L978.23,53.00 L977.39,54.00 L976.53,55.00 L975.65,56.00 L974.75,57.00 L973.84,58.00 L972.90,59.00 L971.95,60.00 L970.98,61.00 L970.01,62.00 L969.03,63.00 L968.05,64.00 L967.06,65.00 L966.07,66.00 L965.08,67.00 L964.08,68.00 L963.08,69.00 L962.07,70.00 L961.06,71.00 L960.05,72.00 L959.03,73.00 L958.00,74.00 L956.98,75.00 L955.94,76.00 L954.91,77.00"/>
<path d="M991.20,31.00 L991.06,32.00 L990.92,33.00 L990.76,34.00 L990.57,35.00 L990.35,36.00 L990.10,37.00 L989.82,38.00 L989.50,39.00 L989.14,40.00 L988.75,41.00 L988.33,42.00 L987.87,43.00 L987.37,44.00 L986.83,45.00 L986.25,46.00 L985.63,47.00 L984.97,48.00 L984.26,49.00 L983.50,50.00 L982.71,51.00 L981.91,52.00 L981.08,53.00 L980.24,54.00 L979.38,55.00 L978.50,56.00 L977.60,57.00 L976.69,58.00 L975.75,59.00 L974.80,60.00 L973.83,61.00 L972.86,62.00 L971.88,63.00 L970.90,64.00 L969.91,65.00 L968.92,66.00 L967.93,67.00 L966.93,68.00 L965.93,69.00 L964.92,70.00 L963.91,71.00 L962.90,72.00 L961.88,73.00 L960.85,74.00 L959.83,75.00 L958.79,76.00 L957.76,77.00"/>
<path d="M994.05,31.00 L993.91,32.00 L993.77,33.00 L993.61,34.00 L993.42,35.00 L993.20,36.00 L992.95,37.00 L992.67,38.00 L992.35,39.00 L991.99,40.00 L991.60,41.00 L991.18,42.00 L990.72,43.00 L990.22,44.00 L989.68,45.00 L989.10,46.00 L988.48,47.00 L987.82,48.00 L987.11,49.00 L986.35,50.00 L985.56,51.00 L984.76,52.00 L983.93,53.00 L983.09,54.00 L982.23,55.00 L981.35,56.00 L980.45,57.00 L979.54,58.00 L978.60,59.00 L977.65,60.00 L976.68,61.00 L975.71,62.00 L974.73,63.00 L973.75,64.00 L972.76,65.00 L971.77,66.00 L970.78,67.00 L969.78,68.00 L968.78,69.00 L967.77,70.00 L966.76,71.00 L965.75,72.00 L964.73,73.00 L963.70,74.00 L962.68,75.00 L961.64,76.00 L960.61,77.00"/>
<path d="M996.90,31.00 L996.76,32.00 L996.62,33.00 L996.46,34.00 L996.27,35.00 L996.05,36.00 L995.80,37.00 L995.52,38.00 L995.20,39.00 L994.84,40.00 L994.45,41.00 L994.03,42.00 L993.57,43.00 L993.07,44.00 L992.53,45.00 L991.95,46.00 L991.33,47.00 L990.67,48.00 L989.96,49.00 L989.20,50.00 L988.41,51.00 L987.61,52.00 L986.78,53.00 L985.94,54.00 L985.08,55.00 L984.20,56.00 L983.30,57.00 L982.39,58.00 L981.45,59.00 L980.50,60.00 L979.53,61.00 L978.56,62.00 L977.58,63.00 L976.60,64.00 L975.61,65.00 L974.62,66.00 L973.63,67.00 L972.63,68.00 L971.63,69.00 L970.62,70.00 L969.61,71.00 L968.60,72.00 L967.58,73.00 L966.55,74.00 L965.53,75.00 L964.49,76.00 L963.46,77.00"/>
<path d="M999.75,31.00 L999.61,32.00 L999.47,33.00 L999.31,34.00 L999.12,35.00 L998.90,36.00 L998.65,37.00 L998.37,38.00 L998.05,39.00 L997.69,40.00 L997.30,41.00 L996.88,42.00 L996.42,43.00 L995.92,44.00 L995.38,45.00 L994.80,46.00 L994.18,47.00 L993.52,48.00 L992.81,49.00 L992.05,50.00 L991.26,51.00 L990.46,52.00 L989.63,53.00 L988.79,54.00 L987.93,55.00 L987.05,56.00 L986.15,57.00 L985.24,58.00 L984.30,59.00 L983.35,60.00 L982.38,61.00 L981.41,62.00 L980.43,63.00 L979.45,64.00 L978.46,65.00 L977.47,66.00 L976.48,67.00 L975.48,68.00 L974.48,69.00 L973.47,70.00 L972.46,71.00 L971.45,72.00 L970.43,73.00 L969.40,74.00 L968.38,75.00 L967.34,76.00 L966.31,77.00"/>
<path d="M1002.60,31.00 L1002.46,32.00 L1002.32,33.00 L1002.16,34.00 L1001.97,35.00 L1001.75,36.00 L1001.50,37.00 L1001.22,38.00 L1000.90,39.00 L1000.54,40.00 L1000.15,41.00 L999.73,42.00 L999.27,43.00 L998.77,44.00 L998.23,45.00 L997.65,46.00 L997.03,47.00 L996.37,48.00 L995.66,49.00 L994.90,50.00 L994.11,51.00 L993.31,52.00 L992.48,53.00 L991.64,54.00 L990.78,55.00 L989.90,56.00 L989.00,57.00 L988.09,58.00 L987.15,59.00 L986.20,60.00 L985.23,61.00 L984.26,62.00 L983.28,63.00 L982.30,64.00 L981.31,65.00 L980.32,66.00 L979.33,67.00 L978.33,68.00 L977.33,69.00 L976.32,70.00 L975.31,71.00 L974.30,72.00 L973.28,73.00 L972.25,74.00 L971.23,75.00 L970.19,76.00 L969.16,77.00"/>
<path d="M1005.45,31.00 L1005.31,32.00 L1005.17,33.00 L1005.01,34.00 L1004.82,35.00 L1004.60,36.00 L1004.35,37.00 L1004.07,38.00 L1003.75,39.00 L1003.39,40.00 L1003.00,41.00 L1002.58,42.00 L1002.12,43.00 L1001.62,44.00 L1001.08,45.00 L1000.50,46.00 L999.88,47.00 L999.22,48.00 L998.51,49.00 L997.75,50.00 L996.96,51.00 L996.16,52.00 L995.33,53.00 L994.49,54.00 L993.63,55.00 L992.75,56.00 L991.85,57.00 L990.94,58.00 L990.00,59.00 L989.05,60.00 L988.08,61.00 L987.11,62.00 L986.13,63.00 L985.15,64.00 L984.16,65.00 L983.17,66.00 L982.18,67.00 L981.18,68.00 L980.18,69.00 L979.17,70.00 L978.16,71.00 L977.15,72.00 L976.13,73.00 L975.10,74.00 L974.08,75.00 L973.04,76.00 L972.01,77.00"/>
<path d="M1008.30,31.00 L1008.16,32.00 L1008.02,33.00 L1007.86,34.00 L1007.67,35.00 L1007.45,36.00 L1007.20,37.00 L1006.92,38.00 L1006.60,39.00 L1006.24,40.00 L1005.85,41.00 L1005.43,42.00 L1004.97,43.00 L1004.47,44.00 L1003.93,45.00 L1003.35,46.00 L1002.73,47.00 L1002.07,48.00 L1001.36,49.00 L1000.60,50.00 L999.81,51.00 L999.01,52.00 L998.18,53.00 L997.34,54.00 L996.48,55.00 L995.60,56.00 L994.70,57.00 L993.79,58.00 L992.85,59.00 L991.90,60.00 L990.93,61.00 L989.96,62.00 L988.98,63.00 L988.00,64.00 L987.01,65.00 L986.02,66.00 L985.03,67.00 L984.03,68.00 L983.03,69.00 L982.02,70.00 L981.01,71.00 L980.00,72.00 L978.98,73.00 L977.95,74.00 L976.93,75.00 L975.89,76.00 L974.86,77.00"/>
<path d="M1011.15,31.00 L1011.01,32.00 L1010.87,33.00 L1010.71,34.00 L1010.52,35.00 L1010.30,36.00 L1010.05,37.00 L1009.77,38.00 L1009.45,39.00 L1009.09,40.00 L1008.70,41.00 L1008.28,42.00 L1007.82,43.00 L1007.32,44.00 L1006.78,45.00 L1006.20,46.00 L1005.58,47.00 L1004.92,48.00 L1004.21,49.00 L1003.45,50.00 L1002.66,51.00 L1001.86,52.00 L1001.03,53.00 L1000.19,54.00 L999.33,55.00 L998.45,56.00 L997.55,57.00 L996.64,58.00 L995.70,59.00 L994.75,60.00 L993.78,61.00 L992.81,62.00 L991.83,63.00 L990.85,64.00 L989.86,65.00 L988.87,66.00 L987.88,67.00 L986.88,68.00 L985.88,69.00 L984.87,70.00 L983.86,71.00 L982.85,72.00 L981.83,73.00 L980.80,74.00 L979.78,75.00 L978.74,76.00 L977.71,77.00"/>
<path d="M1014.00,31.00 L1013.86,32.00 L1013.72,33.00 L1013.56,34.00 L1013.37,35.00 L1013.15,36.00 L1012.90,37.00 L1012.62,38.00 L1012.30,39.00 L1011.94,40.00 L1011.55,41.00 L1011.13,42.00 L1010.67,43.00 L1010.17,44.00 L1009.63,45.00 L1009.05,46.00 L1008.43,47.00 L1007.77,48.00 L1007.06,49.00 L1006.30,50.00 L1005.51,51.00 L1004.71,52.00 L1003.88,53.00 L1003.04,54.00 L1002.18,55.00 L1001.30,56.00 L1000.40,57.00 L999.49,58.00 L998.55,59.00 L997.60,60.00 L996.63,61.00 L995.66,62.00 L994.68,63.00 L993.70,64.00 L992.71,65.00 L991.72,66.00 L990.73,67.00 L989.73,68.00 L988.73,69.00 L987.72,70.00 L986.71,71.00 L985.70,72.00 L984.68,73.00 L983.65,74.00 L982.63,75.00 L981.59,76.00 L980.56,77.00"/>
<path d="M1016.85,31.00 L1016.71,32.00 L1016.57,33.00 L1016.41,34.00 L1016.22,35.00 L1016.00,36.00 L1015.75,37.00 L1015.47,38.00 L1015.15,39.00 L1014.79,40.00 L1014.40,41.00 L1013.98,42.00 L1013.52,43.00 L1013.02,44.00 L1012.48,45.00 L1011.90,46.00 L1011.28,47.00 L1010.62,48.00 L1009.91,49.00 L1009.15,50.00 L1008.36,51.00 L1007.56,52.00 L1006.73,53.00 L1005.89,54.00 L1005.03,55.00 L1004.15,56.00 L1003.25,57.00 L1002.34,58.00 L1001.40,59.00 L1000.45,60.00 L999.48,61.00 L998.51,62.00 L997.53,63.00 L996.55,64.00 L995.56,65.00 L994.57,66.00 L993.58,67.00 L992.58,68.00 L991.58,69.00 L990.57,70.00 L989.56,71.00 L988.55,72.00 L987.53,73.00 L986.50,74.00 L985.48,75.00 L984.44,76.00 L983.41,77.00"/>
<path d="M1019.70,31.00 L1019.56,32.00 L1019.42,33.00 L1019.26,34.00 L1019.07,35.00 L1018.85,36.00 L1018.60,37.00 L1018.32,38.00 L1018.00,39.00 L1017.64,40.00 L1017.25,41.00 L1016.83,42.00 L1016.37,43.00 L1015.87,44.00 L1015.33,45.00 L1014.75,46.00 L1014.13,47.00 L1013.47,48.00 L1012.76,49.00 L1012.00,50.00 L1011.21,51.00 L1010.41,52.00 L1009.58,53.00 L1008.74,54.00 L1007.88,55.00 L1007.00,56.00 L1006.10,57.00 L1005.19,58.00 L1004.25,59.00 L1003.30,60.00 L1002.33,61.00 L1001.36,62.00 L1000.38,63.00 L999.40,64.00 L998.41,65.00 L997.42,66.00 L996.43,67.00 L995.43,68.00 L994.43,69.00 L993.42,70.00 L992.41,71.00 L991.40,72.00 L990.38,73.00 L989.35,74.00 L988.33,75.00 L987.29,76.00 L986.26,77.00"/>
<path d="M1022.55,31.00 L1022.41,32.00 L1022.27,33.00 L1022.11,34.00 L1021.92,35.00 L1021.70,36.00 L1021.45,37.00 L1021.17,38.00 L1020.85,39.00 L1020.49,40.00 L1020.10,41.00 L1019.68,42.00 L1019.22,43.00 L1018.72,44.00 L1018.18,45.00 L1017.60,46.00 L1016.98,47.00 L1016.32,48.00 L1015.61,49.00 L1014.85,50.00 L1014.06,51.00 L1013.26,52.00 L1012.43,53.00 L1011.59,54.00 L1010.73,55.00 L1009.85,56.00 L1008.95,57.00 L1008.04,58.00 L1007.10,59.00 L1006.15,60.00 L1005.18,61.00 L1004.21,62.00 L1003.23,63.00 L1002.25,64.00 L1001.26,65.00 L1000.27,66.00 L999.28,67.00 L998.28,68.00 L997.28,69.00 L996.27,70.00 L995.26,71.00 L994.25,72.00 L993.23,73.00 L992.20,74.00 L991.18,75.00 L990.14,76.00 L989.11,77.00"/>
<path d="M1025.40,31.00 L1025.26,32.00 L1025.12,33.00 L1024.96,34.00 L1024.77,35.00 L1024.55,36.00 L1024.30,37.00 L1024.02,38.00 L1023.70,39.00 L1023.34,40.00 L1022.95,41.00 L1022.53,42.00 L1022.07,43.00 L1021.57,44.00 L1021.03,45.00 L1020.45,46.00 L1019.83,47.00 L1019.17,48.00 L1018.46,49.00 L1017.70,50.00 L1016.91,51.00 L1016.11,52.00 L1015.28,53.00 L1014.44,54.00 L1013.58,55.00 L1012.70,56.00 L1011.80,57.00 L1010.89,58.00 L1009.95,59.00 L1009.00,60.00 L1008.03,61.00 L1007.06,62.00 L1006.08,63.00 L1005.10,64.00 L1004.11,65.00 L1003.12,66.00 L1002.13,67.00 L1001.13,68.00 L1000.13,69.00 L999.12,70.00 L998.11,71.00 L997.10,72.00 L996.08,73.00 L995.05,74.00 L994.03,75.00 L992.99,76.00 L991.96,77.00"/>
<path d="M1028.25,31.00 L1028.11,32.00 L1027.97,33.00 L1027.81,34.00 L1027.62,35.00 L1027.40,36.00 L1027.15,37.00 L1026.87,38.00 L1026.55,39.00 L1026.19,40.00 L1025.80,41.00 L1025.38,42.00 L1024.92,43.00 L1024.42,44.00 L1023.88,45.00 L1023.30,46.00 L1022.68,47.00 L1022.02,48.00 L1021.31,49.00 L1020.55,50.00 L1019.76,51.00 L1018.96,52.00 L1018.13,53.00 L1017.29,54.00 L1016.43,55.00 L1015.55,56.00 L1014.65,57.00 L1013.74,58.00 L1012.80,59.00 L1011.85,60.00 L1010.88,61.00 L1009.91,62.00 L1008.93,63.00 L1007.95,64.00 L1006.96,65.00 L1005.97,66.00 L1004.98,67.00 L1003.98,68.00 L1002.98,69.00 L1001.97,70.00 L1000.96,71.00 L999.95,72.00 L998.93,73.00 L997.90,74.00 L996.88,75.00 L995.84,76.00 L994.81,77.00"/>
<path d="M1031.10,31.00 L1030.96,32.00 L1030.82,33.00 L1030.66,34.00 L1030.47,35.00 L1030.25,36.00 L1030.00,37.00 L1029.72,38.00 L1029.40,39.00 L1029.04,40.00 L1028.65,41.00 L1028.23,42.00 L1027.77,43.00 L1027.27,44.00 L1026.73,45.00 L1026.15,46.00 L1025.53,47.00 L1024.87,48.00 L1024.16,49.00 L1023.40,50.00 L1022.61,51.00 L1021.81,52.00 L1020.98,53.00 L1020.14,54.00 L1019.28,55.00 L1018.40,56.00 L1017.50,57.00 L1016.59,58.00 L1015.65,59.00 L1014.70,60.00 L1013.73,61.00 L1012.76,62.00 L1011.78,63.00 L1010.80,64.00 L1009.81,65.00 L1008.82,66.00 L1007.83,67.00 L1006.83,68.00 L1005.83,69.00 L1004.82,70.00 L1003.81,71.00 L1002.80,72.00 L1001.78,73.00 L1000.75,74.00 L999.73,75.00 L998.69,76.00 L997.66,77.00"/>
<path d="M1033.95,31.00 L1033.81,32.00 L1033.67,33.00 L1033.51,34.00 L1033.32,35.00 L1033.10,36.00 L1032.85,37.00 L1032.57,38.00 L1032.25,39.00 L1031.89,40.00 L1031.50,41.00 L1031.08,42.00 L1030.62,43.00 L1030.12,44.00 L1029.58,45.00 L1029.00,46.00 L1028.38,47.00 L1027.72,48.00 L1027.01,49.00 L1026.25,50.00 L1025.46,51.00 L1024.66,52.00 L1023.83,53.00 L1022.99,54.00 L1022.13,55.00 L1021.25,56.00 L1020.35,57.00 L1019.44,58.00 L1018.50,59.00 L1017.55,60.00 L1016.58,61.00 L1015.61,62.00 L1014.63,63.00 L1013.65,64.00 L1012.66,65.00 L1011.67,66.00 L1010.68,67.00 L1009.68,68.00 L1008.68,69.00 L1007.67,70.00 L1006.66,71.00 L1005.65,72.00 L1004.63,73.00 L1003.60,74.00 L1002.58,75.00 L1001.54,76.00 L1000.51,77.00"/>
<path d="M1036.80,31.00 L1036.66,32.00 L1036.52,33.00 L1036.36,34.00 L1036.17,35.00 L1035.95,36.00 L1035.70,37.00 L1035.42,38.00 L1035.10,39.00 L1034.74,40.00 L1034.35,41.00 L1033.93,42.00 L1033.47,43.00 L1032.97,44.00 L1032.43,45.00 L1031.85,46.00 L1031.23,47.00 L1030.57,48.00 L1029.86,49.00 L1029.10,50.00 L1028.31,51.00 L1027.51,52.00 L1026.68,53.00 L1025.84,54.00 L1024.98,55.00 L1024.10,56.00 L1023.20,57.00 L1022.29,58.00 L1021.35,59.00 L1020.40,60.00 L1019.43,61.00 L1018.46,62.00 L1017.48,63.00 L1016.50,64.00 L1015.51,65.00 L1014.52,66.00 L1013.53,67.00 L1012.53,68.00 L1011.53,69.00 L1010.52,70.00 L1009.51,71.00 L1008.50,72.00 L1007.48,73.00 L1006.45,74.00 L1005.43,75.00 L1004.39,76.00 L1003.36,77.00"/>
<path d="M1039.65,31.00 L1039.51,32.00 L1039.37,33.00 L1039.21,34.00 L1039.02,35.00 L1038.80,36.00 L1038.55,37.00 L1038.27,38.00 L1037.95,39.00 L1037.59,40.00 L1037.20,41.00 L1036.78,42.00 L1036.32,43.00 L1035.82,44.00 L1035.28,45.00 L1034.70,46.00 L1034.08,47.00 L1033.42,48.00 L1032.71,49.00 L1031.95,50.00 L1031.16,51.00 L1030.36,52.00 L1029.53,53.00 L1028.69,54.00 L1027.83,55.00 L1026.95,56.00 L1026.05,57.00 L1025.14,58.00 L1024.20,59.00 L1023.25,60.00 L1022.28,61.00 L1021.31,62.00 L1020.33,63.00 L1019.35,64.00 L1018.36,65.00 L1017.37,66.00 L1016.38,67.00 L1015.38,68.00 L1014.38,69.00 L1013.37,70.00 L1012.36,71.00 L1011.35,72.00 L1010.33,73.00 L1009.30,74.00 L1008.28,75.00 L1007.24,76.00 L1006.21,77.00"/>
<path d="M1042.50,31.00 L1042.36,32.00 L1042.22,33.00 L1042.06,34.00 L1041.87,35.00 L1041.65,36.00 L1041.40,37.00 L1041.12,38.00 L1040.80,39.00 L1040.44,40.00 L1040.05,41.00 L1039.63,42.00 L1039.17,43.00 L1038.67,44.00 L1038.13,45.00 L1037.55,46.00 L1036.93,47.00 L1036.27,48.00 L1035.56,49.00 L1034.80,50.00 L1034.01,51.00 L1033.21,52.00 L1032.38,53.00 L1031.54,54.00 L1030.68,55.00 L1029.80,56.00 L1028.90,57.00 L1027.99,58.00 L1027.05,59.00 L1026.10,60.00 L1025.13,61.00 L1024.16,62.00 L1023.18,63.00 L1022.20,64.00 L1021.21,65.00 L1020.22,66.00 L1019.23,67.00 L1018.23,68.00 L1017.23,69.00 L1016.22,70.00 L1015.21,71.00 L1014.20,72.00 L1013.18,73.00 L1012.15,74.00 L1011.13,75.00 L1010.09,76.00 L1009.06,77.00"/>
<path d="M1045.35,31.00 L1045.21,32.00 L1045.07,33.00 L1044.91,34.00 L1044.72,35.00 L1044.50,36.00 L1044.25,37.00 L1043.97,38.00 L1043.65,39.00 L1043.29,40.00 L1042.90,41.00 L1042.48,42.00 L1042.02,43.00 L1041.52,44.00 L1040.98,45.00 L1040.40,46.00 L1039.78,47.00 L1039.12,48.00 L1038.41,49.00 L1037.65,50.00 L1036.86,51.00 L1036.06,52.00 L1035.23,53.00 L1034.39,54.00 L1033.53,55.00 L1032.65,56.00 L1031.75,57.00 L1030.84,58.00 L1029.90,59.00 L1028.95,60.00 L1027.98,61.00 L1027.01,62.00 L1026.03,63.00 L1025.05,64.00 L1024.06,65.00 L1023.07,66.00 L1022.08,67.00 L1021.08,68.00 L1020.08,69.00 L1019.07,70.00 L1018.06,71.00 L1017.05,72.00 L1016.03,73.00 L1015.00,74.00 L1013.98,75.00 L1012.94,76.00 L1011.91,77.00"/>
<path d="M1048.20,31.00 L1048.06,32.00 L1047.92,33.00 L1047.76,34.00 L1047.57,35.00 L1047.35,36.00 L1047.10,37.00 L1046.82,38.00 L1046.50,39.00 L1046.14,40.00 L1045.75,41.00 L1045.33,42.00 L1044.87,43.00 L1044.37,44.00 L1043.83,45.00 L1043.25,46.00 L1042.63,47.00 L1041.97,48.00 L1041.26,49.00 L1040.50,50.00 L1039.71,51.00 L1038.91,52.00 L1038.08,53.00 L1037.24,54.00 L1036.38,55.00 L1035.50,56.00 L1034.60,57.00 L1033.69,58.00 L1032.75,59.00 L1031.80,60.00 L1030.83,61.00 L1029.86,62.00 L1028.88,63.00 L1027.90,64.00 L1026.91,65.00 L1025.92,66.00 L1024.93,67.00 L1023.93,68.00 L1022.93,69.00 L1021.92,70.00 L1020.91,71.00 L1019.90,72.00 L1018.88,73.00 L1017.85,74.00 L1016.83,75.00 L1015.79,76.00 L1014.76,77.00"/>
<path d="M1051.05,31.00 L1050.91,32.00 L1050.77,33.00 L1050.61,34.00 L1050.42,35.00 L1050.20,36.00 L1049.95,37.00 L1049.67,38.00 L1049.35,39.00 L1048.99,40.00 L1048.60,41.00 L1048.18,42.00 L1047.72,43.00 L1047.22,44.00 L1046.68,45.00 L1046.10,46.00 L1045.48,47.00 L1044.82,48.00 L1044.11,49.00 L1043.35,50.00 L1042.56,51.00 L1041.76,52.00 L1040.93,53.00 L1040.09,54.00 L1039.23,55.00 L1038.35,56.00 L1037.45,57.00 L1036.54,58.00 L1035.60,59.00 L1034.65,60.00 L1033.68,61.00 L1032.71,62.00 L1031.73,63.00 L1030.75,64.00 L1029.76,65.00 L1028.77,66.00 L1027.78,67.00 L1026.78,68.00 L1025.78,69.00 L1024.77,70.00 L1023.76,71.00 L1022.75,72.00 L1021.73,73.00 L1020.70,74.00 L1019.68,75.00 L1018.64,76.00 L1017.61,77.00"/>
<path d="M1053.90,31.00 L1053.76,32.00 L1053.62,33.00 L1053.46,34.00 L1053.27,35.00 L1053.05,36.00 L1052.80,37.00 L1052.52,38.00 L1052.20,39.00 L1051.84,40.00 L1051.45,41.00 L1051.03,42.00 L1050.57,43.00 L1050.07,44.00 L1049.53,45.00 L1048.95,46.00 L1048.33,47.00 L1047.67,48.00 L1046.96,49.00 L1046.20,50.00 L1045.41,51.00 L1044.61,52.00 L1043.78,53.00 L1042.94,54.00 L1042.08,55.00 L1041.20,56.00 L1040.30,57.00 L1039.39,58.00 L1038.45,59.00 L1037.50,60.00 L1036.53,61.00 L1035.56,62.00 L1034.58,63.00 L1033.60,64.00 L1032.61,65.00 L1031.62,66.00 L1030.63,67.00 L1029.63,68.00 L1028.63,69.00 L1027.62,70.00 L1026.61,71.00 L1025.60,72.00 L1024.58,73.00 L1023.55,74.00 L1022.53,75.00 L1021.49,76.00 L1020.46,77.00"/>
<path d="M1056.75,31.00 L1056.61,32.00 L1056.47,33.00 L1056.31,34.00 L1056.12,35.00 L1055.90,36.00 L1055.65,37.00 L1055.37,38.00 L1055.05,39.00 L1054.69,40.00 L1054.30,41.00 L1053.88,42.00 L1053.42,43.00 L1052.92,44.00 L1052.38,45.00 L1051.80,46.00 L1051.18,47.00 L1050.52,48.00 L1049.81,49.00 L1049.05,50.00 L1048.26,51.00 L1047.46,52.00 L1046.63,53.00 L1045.79,54.00 L1044.93,55.00 L1044.05,56.00 L1043.15,57.00 L1042.24,58.00 L1041.30,59.00 L1040.35,60.00 L1039.38,61.00 L1038.41,62.00 L1037.43,63.00 L1036.45,64.00 L1035.46,65.00 L1034.47,66.00 L1033.48,67.00 L1032.48,68.00 L1031.48,69.00 L1030.47,70.00 L1029.46,71.00 L1028.45,72.00 L1027.43,73.00 L1026.40,74.00 L1025.38,75.00 L1024.34,76.00 L1023.31,77.00"/>
<path d="M1059.60,31.00 L1059.46,32.00 L1059.32,33.00 L1059.16,34.00 L1058.97,35.00 L1058.75,36.00 L1058.50,37.00 L1058.22,38.00 L1057.90,39.00 L1057.54,40.00 L1057.15,41.00 L1056.73,42.00 L1056.27,43.00 L1055.77,44.00 L1055.23,45.00 L1054.65,46.00 L1054.03,47.00 L1053.37,48.00 L1052.66,49.00 L1051.90,50.00 L1051.11,51.00 L1050.31,52.00 L1049.48,53.00 L1048.64,54.00 L1047.78,55.00 L1046.90,56.00 L1046.00,57.00 L1045.09,58.00 L1044.15,59.00 L1043.20,60.00 L1042.23,61.00 L1041.26,62.00 L1040.28,63.00 L1039.30,64.00 L1038.31,65.00 L1037.32,66.00 L1036.33,67.00 L1035.33,68.00 L1034.33,69.00 L1033.32,70.00 L1032.31,71.00 L1031.30,72.00 L1030.28,73.00 L1029.25,74.00 L1028.23,75.00 L1027.19,76.00 L1026.16,77.00"/>
<path d="M1062.45,31.00 L1062.31,32.00 L1062.17,33.00 L1062.01,34.00 L1061.82,35.00 L1061.60,36.00 L1061.35,37.00 L1061.07,38.00 L1060.75,39.00 L1060.39,40.00 L1060.00,41.00 L1059.58,42.00 L1059.12,43.00 L1058.62,44.00 L1058.08,45.00 L1057.50,46.00 L1056.88,47.00 L1056.22,48.00 L1055.51,49.00 L1054.75,50.00 L1053.96,51.00 L1053.16,52.00 L1052.33,53.00 L1051.49,54.00 L1050.63,55.00 L1049.75,56.00 L1048.85,57.00 L1047.94,58.00 L1047.00,59.00 L1046.05,60.00 L1045.08,61.00 L1044.11,62.00 L1043.13,63.00 L1042.15,64.00 L1041.16,65.00 L1040.17,66.00 L1039.18,67.00 L1038.18,68.00 L1037.18,69.00 L1036.17,70.00 L1035.16,71.00 L1034.15,72.00 L1033.13,73.00 L1032.10,74.00 L1031.08,75.00 L1030.04,76.00 L1029.01,77.00"/>
<path d="M1065.30,31.00 L1065.16,32.00 L1065.02,33.00 L1064.86,34.00 L1064.67,35.00 L1064.45,36.00 L1064.20,37.00 L1063.92,38.00 L1063.60,39.00 L1063.24,40.00 L1062.85,41.00 L1062.43,42.00 L1061.97,43.00 L1061.47,44.00 L1060.93,45.00 L1060.35,46.00 L1059.73,47.00 L1059.07,48.00 L1058.36,49.00 L1057.60,50.00 L1056.81,51.00 L1056.01,52.00 L1055.18,53.00 L1054.34,54.00 L1053.48,55.00 L1052.60,56.00 L1051.70,57.00 L1050.79,58.00 L1049.85,59.00 L1048.90,60.00 L1047.93,61.00 L1046.96,62.00 L1045.98,63.00 L1045.00,64.00 L1044.01,65.00 L1043.02,66.00 L1042.03,67.00 L1041.03,68.00 L1040.03,69.00 L1039.02,70.00 L1038.01,71.00 L1037.00,72.00 L1035.98,73.00 L1034.95,74.00 L1033.93,75.00 L1032.89,76.00 L1031.86,77.00"/>
<path d="M1068.15,31.00 L1068.01,32.00 L1067.87,33.00 L1067.71,34.00 L1067.52,35.00 L1067.30,36.00 L1067.05,37.00 L1066.77,38.00 L1066.45,39.00 L1066.09,40.00 L1065.70,41.00 L1065.28,42.00 L1064.82,43.00 L1064.32,44.00 L1063.78,45.00 L1063.20,46.00 L1062.58,47.00 L1061.92,48.00 L1061.21,49.00 L1060.45,50.00 L1059.66,51.00 L1058.86,52.00 L1058.03,53.00 L1057.19,54.00 L1056.33,55.00 L1055.45,56.00 L1054.55,57.00 L1053.64,58.00 L1052.70,59.00 L1051.75,60.00 L1050.78,61.00 L1049.81,62.00 L1048.83,63.00 L1047.85,64.00 L1046.86,65.00 L1045.87,66.00 L1044.88,67.00 L1043.88,68.00 L1042.88,69.00 L1041.87,70.00 L1040.86,71.00 L1039.85,72.00 L1038.83,73.00 L1037.80,74.00 L1036.78,75.00 L1035.74,76.00 L1034.71,77.00"/>
</g>
<g clip-path="url(#esaB)" stroke="#00205f" stroke-width="0.95" fill="none">
<path d="M974.00,56.00 L975.00,55.10 L976.00,54.20 L977.00,53.30 L978.00,52.40 L979.00,51.51 L980.00,50.64 L981.00,49.79 L982.00,48.96 L983.00,48.14 L984.00,47.35 L985.00,46.57 L986.00,45.82 L987.00,45.08 L988.00,44.35 L989.00,43.65 L990.00,42.96 L991.00,42.29 L992.00,41.63 L993.00,40.99 L994.00,40.37 L995.00,39.76 L996.00,39.17 L997.00,38.59 L998.00,38.02 L999.00,37.48 L1000.00,36.94 L1001.00,36.42 L1002.00,35.92 L1003.00,35.43 L1004.00,34.95 L1005.00,34.49 L1006.00,34.04 L1007.00,33.60 L1008.00,33.18 L1009.00,32.77 L1010.00,32.37 L1011.00,31.99 L1012.00,31.62 L1013.00,31.26 L1014.00,30.89 L1015.00,30.53 L1016.00,30.16 L1017.00,29.80 L1018.00,29.44 L1019.00,29.07 L1020.00,28.71"/>
<path d="M974.00,58.10 L975.00,57.20 L976.00,56.30 L977.00,55.40 L978.00,54.50 L979.00,53.61 L980.00,52.74 L981.00,51.89 L982.00,51.06 L983.00,50.24 L984.00,49.45 L985.00,48.67 L986.00,47.92 L987.00,47.18 L988.00,46.45 L989.00,45.75 L990.00,45.06 L991.00,44.39 L992.00,43.73 L993.00,43.09 L994.00,42.47 L995.00,41.86 L996.00,41.27 L997.00,40.69 L998.00,40.12 L999.00,39.58 L1000.00,39.04 L1001.00,38.52 L1002.00,38.02 L1003.00,37.53 L1004.00,37.05 L1005.00,36.59 L1006.00,36.14 L1007.00,35.70 L1008.00,35.28 L1009.00,34.87 L1010.00,34.47 L1011.00,34.09 L1012.00,33.72 L1013.00,33.36 L1014.00,32.99 L1015.00,32.63 L1016.00,32.26 L1017.00,31.90 L1018.00,31.54 L1019.00,31.17 L1020.00,30.81"/>
<path d="M974.00,60.20 L975.00,59.30 L976.00,58.40 L977.00,57.50 L978.00,56.60 L979.00,55.71 L980.00,54.84 L981.00,53.99 L982.00,53.16 L983.00,52.34 L984.00,51.55 L985.00,50.77 L986.00,50.02 L987.00,49.28 L988.00,48.55 L989.00,47.85 L990.00,47.16 L991.00,46.49 L992.00,45.83 L993.00,45.19 L994.00,44.57 L995.00,43.96 L996.00,43.37 L997.00,42.79 L998.00,42.22 L999.00,41.68 L1000.00,41.14 L1001.00,40.62 L1002.00,40.12 L1003.00,39.63 L1004.00,39.15 L1005.00,38.69 L1006.00,38.24 L1007.00,37.80 L1008.00,37.38 L1009.00,36.97 L1010.00,36.57 L1011.00,36.19 L1012.00,35.82 L1013.00,35.46 L1014.00,35.09 L1015.00,34.73 L1016.00,34.36 L1017.00,34.00 L1018.00,33.64 L1019.00,33.27 L1020.00,32.91"/>
<path d="M974.00,62.30 L975.00,61.40 L976.00,60.50 L977.00,59.60 L978.00,58.70 L979.00,57.81 L980.00,56.94 L981.00,56.09 L982.00,55.26 L983.00,54.44 L984.00,53.65 L985.00,52.87 L986.00,52.12 L987.00,51.38 L988.00,50.65 L989.00,49.95 L990.00,49.26 L991.00,48.59 L992.00,47.93 L993.00,47.29 L994.00,46.67 L995.00,46.06 L996.00,45.47 L997.00,44.89 L998.00,44.32 L999.00,43.78 L1000.00,43.24 L1001.00,42.72 L1002.00,42.22 L1003.00,41.73 L1004.00,41.25 L1005.00,40.79 L1006.00,40.34 L1007.00,39.90 L1008.00,39.48 L1009.00,39.07 L1010.00,38.67 L1011.00,38.29 L1012.00,37.92 L1013.00,37.56 L1014.00,37.19 L1015.00,36.83 L1016.00,36.46 L1017.00,36.10 L1018.00,35.74 L1019.00,35.37 L1020.00,35.01"/>
<path d="M974.00,64.40 L975.00,63.50 L976.00,62.60 L977.00,61.70 L978.00,60.80 L979.00,59.91 L980.00,59.04 L981.00,58.19 L982.00,57.36 L983.00,56.54 L984.00,55.75 L985.00,54.97 L986.00,54.22 L987.00,53.48 L988.00,52.75 L989.00,52.05 L990.00,51.36 L991.00,50.69 L992.00,50.03 L993.00,49.39 L994.00,48.77 L995.00,48.16 L996.00,47.57 L997.00,46.99 L998.00,46.42 L999.00,45.88 L1000.00,45.34 L1001.00,44.82 L1002.00,44.32 L1003.00,43.83 L1004.00,43.35 L1005.00,42.89 L1006.00,42.44 L1007.00,42.00 L1008.00,41.58 L1009.00,41.17 L1010.00,40.77 L1011.00,40.39 L1012.00,40.02 L1013.00,39.66 L1014.00,39.29 L1015.00,38.93 L1016.00,38.56 L1017.00,38.20 L1018.00,37.84 L1019.00,37.47 L1020.00,37.11"/>
<path d="M974.00,66.50 L975.00,65.60 L976.00,64.70 L977.00,63.80 L978.00,62.90 L979.00,62.01 L980.00,61.14 L981.00,60.29 L982.00,59.46 L983.00,58.64 L984.00,57.85 L985.00,57.07 L986.00,56.32 L987.00,55.58 L988.00,54.85 L989.00,54.15 L990.00,53.46 L991.00,52.79 L992.00,52.13 L993.00,51.49 L994.00,50.87 L995.00,50.26 L996.00,49.67 L997.00,49.09 L998.00,48.52 L999.00,47.98 L1000.00,47.44 L1001.00,46.92 L1002.00,46.42 L1003.00,45.93 L1004.00,45.45 L1005.00,44.99 L1006.00,44.54 L1007.00,44.10 L1008.00,43.68 L1009.00,43.27 L1010.00,42.87 L1011.00,42.49 L1012.00,42.12 L1013.00,41.76 L1014.00,41.39 L1015.00,41.03 L1016.00,40.66 L1017.00,40.30 L1018.00,39.94 L1019.00,39.57 L1020.00,39.21"/>
<path d="M974.00,68.60 L975.00,67.70 L976.00,66.80 L977.00,65.90 L978.00,65.00 L979.00,64.11 L980.00,63.24 L981.00,62.39 L982.00,61.56 L983.00,60.74 L984.00,59.95 L985.00,59.17 L986.00,58.42 L987.00,57.68 L988.00,56.95 L989.00,56.25 L990.00,55.56 L991.00,54.89 L992.00,54.23 L993.00,53.59 L994.00,52.97 L995.00,52.36 L996.00,51.77 L997.00,51.19 L998.00,50.62 L999.00,50.08 L1000.00,49.54 L1001.00,49.02 L1002.00,48.52 L1003.00,48.03 L1004.00,47.55 L1005.00,47.09 L1006.00,46.64 L1007.00,46.20 L1008.00,45.78 L1009.00,45.37 L1010.00,44.97 L1011.00,44.59 L1012.00,44.22 L1013.00,43.86 L1014.00,43.49 L1015.00,43.13 L1016.00,42.76 L1017.00,42.40 L1018.00,42.04 L1019.00,41.67 L1020.00,41.31"/>
<path d="M974.00,70.70 L975.00,69.80 L976.00,68.90 L977.00,68.00 L978.00,67.10 L979.00,66.21 L980.00,65.34 L981.00,64.49 L982.00,63.66 L983.00,62.84 L984.00,62.05 L985.00,61.27 L986.00,60.52 L987.00,59.78 L988.00,59.05 L989.00,58.35 L990.00,57.66 L991.00,56.99 L992.00,56.33 L993.00,55.69 L994.00,55.07 L995.00,54.46 L996.00,53.87 L997.00,53.29 L998.00,52.72 L999.00,52.18 L1000.00,51.64 L1001.00,51.12 L1002.00,50.62 L1003.00,50.13 L1004.00,49.65 L1005.00,49.19 L1006.00,48.74 L1007.00,48.30 L1008.00,47.88 L1009.00,47.47 L1010.00,47.07 L1011.00,46.69 L1012.00,46.32 L1013.00,45.96 L1014.00,45.59 L1015.00,45.23 L1016.00,44.86 L1017.00,44.50 L1018.00,44.14 L1019.00,43.77 L1020.00,43.41"/>
<path d="M974.00,72.80 L975.00,71.90 L976.00,71.00 L977.00,70.10 L978.00,69.20 L979.00,68.31 L980.00,67.44 L981.00,66.59 L982.00,65.76 L983.00,64.94 L984.00,64.15 L985.00,63.37 L986.00,62.62 L987.00,61.88 L988.00,61.15 L989.00,60.45 L990.00,59.76 L991.00,59.09 L992.00,58.43 L993.00,57.79 L994.00,57.17 L995.00,56.56 L996.00,55.97 L997.00,55.39 L998.00,54.82 L999.00,54.28 L1000.00,53.74 L1001.00,53.22 L1002.00,52.72 L1003.00,52.23 L1004.00,51.75 L1005.00,51.29 L1006.00,50.84 L1007.00,50.40 L1008.00,49.98 L1009.00,49.57 L1010.00,49.17 L1011.00,48.79 L1012.00,48.42 L1013.00,48.06 L1014.00,47.69 L1015.00,47.33 L1016.00,46.96 L1017.00,46.60 L1018.00,46.24 L1019.00,45.87 L1020.00,45.51"/>
<path d="M974.00,74.90 L975.00,74.00 L976.00,73.10 L977.00,72.20 L978.00,71.30 L979.00,70.41 L980.00,69.54 L981.00,68.69 L982.00,67.86 L983.00,67.04 L984.00,66.25 L985.00,65.47 L986.00,64.72 L987.00,63.98 L988.00,63.25 L989.00,62.55 L990.00,61.86 L991.00,61.19 L992.00,60.53 L993.00,59.89 L994.00,59.27 L995.00,58.66 L996.00,58.07 L997.00,57.49 L998.00,56.92 L999.00,56.38 L1000.00,55.84 L1001.00,55.32 L1002.00,54.82 L1003.00,54.33 L1004.00,53.85 L1005.00,53.39 L1006.00,52.94 L1007.00,52.50 L1008.00,52.08 L1009.00,51.67 L1010.00,51.27 L1011.00,50.89 L1012.00,50.52 L1013.00,50.16 L1014.00,49.79 L1015.00,49.43 L1016.00,49.06 L1017.00,48.70 L1018.00,48.34 L1019.00,47.97 L1020.00,47.61"/>
<path d="M974.00,77.00 L975.00,76.10 L976.00,75.20 L977.00,74.30 L978.00,73.40 L979.00,72.51 L980.00,71.64 L981.00,70.79 L982.00,69.96 L983.00,69.14 L984.00,68.35 L985.00,67.57 L986.00,66.82 L987.00,66.08 L988.00,65.35 L989.00,64.65 L990.00,63.96 L991.00,63.29 L992.00,62.63 L993.00,61.99 L994.00,61.37 L995.00,60.76 L996.00,60.17 L997.00,59.59 L998.00,59.02 L999.00,58.48 L1000.00,57.94 L1001.00,57.42 L1002.00,56.92 L1003.00,56.43 L1004.00,55.95 L1005.00,55.49 L1006.00,55.04 L1007.00,54.60 L1008.00,54.18 L1009.00,53.77 L1010.00,53.37 L1011.00,52.99 L1012.00,52.62 L1013.00,52.26 L1014.00,51.89 L1015.00,51.53 L1016.00,51.16 L1017.00,50.80 L1018.00,50.44 L1019.00,50.07 L1020.00,49.71"/>
<path d="M974.00,79.10 L975.00,78.20 L976.00,77.30 L977.00,76.40 L978.00,75.50 L979.00,74.61 L980.00,73.74 L981.00,72.89 L982.00,72.06 L983.00,71.24 L984.00,70.45 L985.00,69.67 L986.00,68.92 L987.00,68.18 L988.00,67.45 L989.00,66.75 L990.00,66.06 L991.00,65.39 L992.00,64.73 L993.00,64.09 L994.00,63.47 L995.00,62.86 L996.00,62.27 L997.00,61.69 L998.00,61.12 L999.00,60.58 L1000.00,60.04 L1001.00,59.52 L1002.00,59.02 L1003.00,58.53 L1004.00,58.05 L1005.00,57.59 L1006.00,57.14 L1007.00,56.70 L1008.00,56.28 L1009.00,55.87 L1010.00,55.47 L1011.00,55.09 L1012.00,54.72 L1013.00,54.36 L1014.00,53.99 L1015.00,53.63 L1016.00,53.26 L1017.00,52.90 L1018.00,52.54 L1019.00,52.17 L1020.00,51.81"/>
<path d="M974.00,81.20 L975.00,80.30 L976.00,79.40 L977.00,78.50 L978.00,77.60 L979.00,76.71 L980.00,75.84 L981.00,74.99 L982.00,74.16 L983.00,73.34 L984.00,72.55 L985.00,71.77 L986.00,71.02 L987.00,70.28 L988.00,69.55 L989.00,68.85 L990.00,68.16 L991.00,67.49 L992.00,66.83 L993.00,66.19 L994.00,65.57 L995.00,64.96 L996.00,64.37 L997.00,63.79 L998.00,63.22 L999.00,62.68 L1000.00,62.14 L1001.00,61.62 L1002.00,61.12 L1003.00,60.63 L1004.00,60.15 L1005.00,59.69 L1006.00,59.24 L1007.00,58.80 L1008.00,58.38 L1009.00,57.97 L1010.00,57.57 L1011.00,57.19 L1012.00,56.82 L1013.00,56.46 L1014.00,56.09 L1015.00,55.73 L1016.00,55.36 L1017.00,55.00 L1018.00,54.64 L1019.00,54.27 L1020.00,53.91"/>
<path d="M974.00,83.30 L975.00,82.40 L976.00,81.50 L977.00,80.60 L978.00,79.70 L979.00,78.81 L980.00,77.94 L981.00,77.09 L982.00,76.26 L983.00,75.44 L984.00,74.65 L985.00,73.87 L986.00,73.12 L987.00,72.38 L988.00,71.65 L989.00,70.95 L990.00,70.26 L991.00,69.59 L992.00,68.93 L993.00,68.29 L994.00,67.67 L995.00,67.06 L996.00,66.47 L997.00,65.89 L998.00,65.32 L999.00,64.78 L1000.00,64.24 L1001.00,63.72 L1002.00,63.22 L1003.00,62.73 L1004.00,62.25 L1005.00,61.79 L1006.00,61.34 L1007.00,60.90 L1008.00,60.48 L1009.00,60.07 L1010.00,59.67 L1011.00,59.29 L1012.00,58.92 L1013.00,58.56 L1014.00,58.19 L1015.00,57.83 L1016.00,57.46 L1017.00,57.10 L1018.00,56.74 L1019.00,56.37 L1020.00,56.01"/>
<path d="M974.00,85.40 L975.00,84.50 L976.00,83.60 L977.00,82.70 L978.00,81.80 L979.00,80.91 L980.00,80.04 L981.00,79.19 L982.00,78.36 L983.00,77.54 L984.00,76.75 L985.00,75.97 L986.00,75.22 L987.00,74.48 L988.00,73.75 L989.00,73.05 L990.00,72.36 L991.00,71.69 L992.00,71.03 L993.00,70.39 L994.00,69.77 L995.00,69.16 L996.00,68.57 L997.00,67.99 L998.00,67.42 L999.00,66.88 L1000.00,66.34 L1001.00,65.82 L1002.00,65.32 L1003.00,64.83 L1004.00,64.35 L1005.00,63.89 L1006.00,63.44 L1007.00,63.00 L1008.00,62.58 L1009.00,62.17 L1010.00,61.77 L1011.00,61.39 L1012.00,61.02 L1013.00,60.66 L1014.00,60.29 L1015.00,59.93 L1016.00,59.56 L1017.00,59.20 L1018.00,58.84 L1019.00,58.47 L1020.00,58.11"/>
<path d="M974.00,87.50 L975.00,86.60 L976.00,85.70 L977.00,84.80 L978.00,83.90 L979.00,83.01 L980.00,82.14 L981.00,81.29 L982.00,80.46 L983.00,79.64 L984.00,78.85 L985.00,78.07 L986.00,77.32 L987.00,76.58 L988.00,75.85 L989.00,75.15 L990.00,74.46 L991.00,73.79 L992.00,73.13 L993.00,72.49 L994.00,71.87 L995.00,71.26 L996.00,70.67 L997.00,70.09 L998.00,69.52 L999.00,68.98 L1000.00,68.44 L1001.00,67.92 L1002.00,67.42 L1003.00,66.93 L1004.00,66.45 L1005.00,65.99 L1006.00,65.54 L1007.00,65.10 L1008.00,64.68 L1009.00,64.27 L1010.00,63.87 L1011.00,63.49 L1012.00,63.12 L1013.00,62.76 L1014.00,62.39 L1015.00,62.03 L1016.00,61.66 L1017.00,61.30 L1018.00,60.94 L1019.00,60.57 L1020.00,60.21"/>
<path d="M974.00,89.60 L975.00,88.70 L976.00,87.80 L977.00,86.90 L978.00,86.00 L979.00,85.11 L980.00,84.24 L981.00,83.39 L982.00,82.56 L983.00,81.74 L984.00,80.95 L985.00,80.17 L986.00,79.42 L987.00,78.68 L988.00,77.95 L989.00,77.25 L990.00,76.56 L991.00,75.89 L992.00,75.23 L993.00,74.59 L994.00,73.97 L995.00,73.36 L996.00,72.77 L997.00,72.19 L998.00,71.62 L999.00,71.08 L1000.00,70.54 L1001.00,70.02 L1002.00,69.52 L1003.00,69.03 L1004.00,68.55 L1005.00,68.09 L1006.00,67.64 L1007.00,67.20 L1008.00,66.78 L1009.00,66.37 L1010.00,65.97 L1011.00,65.59 L1012.00,65.22 L1013.00,64.86 L1014.00,64.49 L1015.00,64.13 L1016.00,63.76 L1017.00,63.40 L1018.00,63.04 L1019.00,62.67 L1020.00,62.31"/>
<path d="M974.00,91.70 L975.00,90.80 L976.00,89.90 L977.00,89.00 L978.00,88.10 L979.00,87.21 L980.00,86.34 L981.00,85.49 L982.00,84.66 L983.00,83.84 L984.00,83.05 L985.00,82.27 L986.00,81.52 L987.00,80.78 L988.00,80.05 L989.00,79.35 L990.00,78.66 L991.00,77.99 L992.00,77.33 L993.00,76.69 L994.00,76.07 L995.00,75.46 L996.00,74.87 L997.00,74.29 L998.00,73.72 L999.00,73.18 L1000.00,72.64 L1001.00,72.12 L1002.00,71.62 L1003.00,71.13 L1004.00,70.65 L1005.00,70.19 L1006.00,69.74 L1007.00,69.30 L1008.00,68.88 L1009.00,68.47 L1010.00,68.07 L1011.00,67.69 L1012.00,67.32 L1013.00,66.96 L1014.00,66.59 L1015.00,66.23 L1016.00,65.86 L1017.00,65.50 L1018.00,65.14 L1019.00,64.77 L1020.00,64.41"/>
<path d="M974.00,93.80 L975.00,92.90 L976.00,92.00 L977.00,91.10 L978.00,90.20 L979.00,89.31 L980.00,88.44 L981.00,87.59 L982.00,86.76 L983.00,85.94 L984.00,85.15 L985.00,84.37 L986.00,83.62 L987.00,82.88 L988.00,82.15 L989.00,81.45 L990.00,80.76 L991.00,80.09 L992.00,79.43 L993.00,78.79 L994.00,78.17 L995.00,77.56 L996.00,76.97 L997.00,76.39 L998.00,75.82 L999.00,75.28 L1000.00,74.74 L1001.00,74.22 L1002.00,73.72 L1003.00,73.23 L1004.00,72.75 L1005.00,72.29 L1006.00,71.84 L1007.00,71.40 L1008.00,70.98 L1009.00,70.57 L1010.00,70.17 L1011.00,69.79 L1012.00,69.42 L1013.00,69.06 L1014.00,68.69 L1015.00,68.33 L1016.00,67.96 L1017.00,67.60 L1018.00,67.24 L1019.00,66.87 L1020.00,66.51"/>
<path d="M974.00,95.90 L975.00,95.00 L976.00,94.10 L977.00,93.20 L978.00,92.30 L979.00,91.41 L980.00,90.54 L981.00,89.69 L982.00,88.86 L983.00,88.04 L984.00,87.25 L985.00,86.47 L986.00,85.72 L987.00,84.98 L988.00,84.25 L989.00,83.55 L990.00,82.86 L991.00,82.19 L992.00,81.53 L993.00,80.89 L994.00,80.27 L995.00,79.66 L996.00,79.07 L997.00,78.49 L998.00,77.92 L999.00,77.38 L1000.00,76.84 L1001.00,76.32 L1002.00,75.82 L1003.00,75.33 L1004.00,74.85 L1005.00,74.39 L1006.00,73.94 L1007.00,73.50 L1008.00,73.08 L1009.00,72.67 L1010.00,72.27 L1011.00,71.89 L1012.00,71.52 L1013.00,71.16 L1014.00,70.79 L1015.00,70.43 L1016.00,70.06 L1017.00,69.70 L1018.00,69.34 L1019.00,68.97 L1020.00,68.61"/>
<path d="M974.00,98.00 L975.00,97.10 L976.00,96.20 L977.00,95.30 L978.00,94.40 L979.00,93.51 L980.00,92.64 L981.00,91.79 L982.00,90.96 L983.00,90.14 L984.00,89.35 L985.00,88.57 L986.00,87.82 L987.00,87.08 L988.00,86.35 L989.00,85.65 L990.00,84.96 L991.00,84.29 L992.00,83.63 L993.00,82.99 L994.00,82.37 L995.00,81.76 L996.00,81.17 L997.00,80.59 L998.00,80.02 L999.00,79.48 L1000.00,78.94 L1001.00,78.42 L1002.00,77.92 L1003.00,77.43 L1004.00,76.95 L1005.00,76.49 L1006.00,76.04 L1007.00,75.60 L1008.00,75.18 L1009.00,74.77 L1010.00,74.37 L1011.00,73.99 L1012.00,73.62 L1013.00,73.26 L1014.00,72.89 L1015.00,72.53 L1016.00,72.16 L1017.00,71.80 L1018.00,71.44 L1019.00,71.07 L1020.00,70.71"/>
<path d="M974.00,100.10 L975.00,99.20 L976.00,98.30 L977.00,97.40 L978.00,96.50 L979.00,95.61 L980.00,94.74 L981.00,93.89 L982.00,93.06 L983.00,92.24 L984.00,91.45 L985.00,90.67 L986.00,89.92 L987.00,89.18 L988.00,88.45 L989.00,87.75 L990.00,87.06 L991.00,86.39 L992.00,85.73 L993.00,85.09 L994.00,84.47 L995.00,83.86 L996.00,83.27 L997.00,82.69 L998.00,82.12 L999.00,81.58 L1000.00,81.04 L1001.00,80.52 L1002.00,80.02 L1003.00,79.53 L1004.00,79.05 L1005.00,78.59 L1006.00,78.14 L1007.00,77.70 L1008.00,77.28 L1009.00,76.87 L1010.00,76.47 L1011.00,76.09 L1012.00,75.72 L1013.00,75.36 L1014.00,74.99 L1015.00,74.63 L1016.00,74.26 L1017.00,73.90 L1018.00,73.54 L1019.00,73.17 L1020.00,72.81"/>
<path d="M974.00,102.20 L975.00,101.30 L976.00,100.40 L977.00,99.50 L978.00,98.60 L979.00,97.71 L980.00,96.84 L981.00,95.99 L982.00,95.16 L983.00,94.34 L984.00,93.55 L985.00,92.77 L986.00,92.02 L987.00,91.28 L988.00,90.55 L989.00,89.85 L990.00,89.16 L991.00,88.49 L992.00,87.83 L993.00,87.19 L994.00,86.57 L995.00,85.96 L996.00,85.37 L997.00,84.79 L998.00,84.22 L999.00,83.68 L1000.00,83.14 L1001.00,82.62 L1002.00,82.12 L1003.00,81.63 L1004.00,81.15 L1005.00,80.69 L1006.00,80.24 L1007.00,79.80 L1008.00,79.38 L1009.00,78.97 L1010.00,78.57 L1011.00,78.19 L1012.00,77.82 L1013.00,77.46 L1014.00,77.09 L1015.00,76.73 L1016.00,76.36 L1017.00,76.00 L1018.00,75.64 L1019.00,75.27 L1020.00,74.91"/>
<path d="M974.00,104.30 L975.00,103.40 L976.00,102.50 L977.00,101.60 L978.00,100.70 L979.00,99.81 L980.00,98.94 L981.00,98.09 L982.00,97.26 L983.00,96.44 L984.00,95.65 L985.00,94.87 L986.00,94.12 L987.00,93.38 L988.00,92.65 L989.00,91.95 L990.00,91.26 L991.00,90.59 L992.00,89.93 L993.00,89.29 L994.00,88.67 L995.00,88.06 L996.00,87.47 L997.00,86.89 L998.00,86.32 L999.00,85.78 L1000.00,85.24 L1001.00,84.72 L1002.00,84.22 L1003.00,83.73 L1004.00,83.25 L1005.00,82.79 L1006.00,82.34 L1007.00,81.90 L1008.00,81.48 L1009.00,81.07 L1010.00,80.67 L1011.00,80.29 L1012.00,79.92 L1013.00,79.56 L1014.00,79.19 L1015.00,78.83 L1016.00,78.46 L1017.00,78.10 L1018.00,77.74 L1019.00,77.37 L1020.00,77.01"/>
<path d="M974.00,106.40 L975.00,105.50 L976.00,104.60 L977.00,103.70 L978.00,102.80 L979.00,101.91 L980.00,101.04 L981.00,100.19 L982.00,99.36 L983.00,98.54 L984.00,97.75 L985.00,96.97 L986.00,96.22 L987.00,95.48 L988.00,94.75 L989.00,94.05 L990.00,93.36 L991.00,92.69 L992.00,92.03 L993.00,91.39 L994.00,90.77 L995.00,90.16 L996.00,89.57 L997.00,88.99 L998.00,88.42 L999.00,87.88 L1000.00,87.34 L1001.00,86.82 L1002.00,86.32 L1003.00,85.83 L1004.00,85.35 L1005.00,84.89 L1006.00,84.44 L1007.00,84.00 L1008.00,83.58 L1009.00,83.17 L1010.00,82.77 L1011.00,82.39 L1012.00,82.02 L1013.00,81.66 L1014.00,81.29 L1015.00,80.93 L1016.00,80.56 L1017.00,80.20 L1018.00,79.84 L1019.00,79.47 L1020.00,79.11"/>
<path d="M974.00,108.50 L975.00,107.60 L976.00,106.70 L977.00,105.80 L978.00,104.90 L979.00,104.01 L980.00,103.14 L981.00,102.29 L982.00,101.46 L983.00,100.64 L984.00,99.85 L985.00,99.07 L986.00,98.32 L987.00,97.58 L988.00,96.85 L989.00,96.15 L990.00,95.46 L991.00,94.79 L992.00,94.13 L993.00,93.49 L994.00,92.87 L995.00,92.26 L996.00,91.67 L997.00,91.09 L998.00,90.52 L999.00,89.98 L1000.00,89.44 L1001.00,88.92 L1002.00,88.42 L1003.00,87.93 L1004.00,87.45 L1005.00,86.99 L1006.00,86.54 L1007.00,86.10 L1008.00,85.68 L1009.00,85.27 L1010.00,84.87 L1011.00,84.49 L1012.00,84.12 L1013.00,83.76 L1014.00,83.39 L1015.00,83.03 L1016.00,82.66 L1017.00,82.30 L1018.00,81.94 L1019.00,81.57 L1020.00,81.21"/>
<path d="M974.00,110.60 L975.00,109.70 L976.00,108.80 L977.00,107.90 L978.00,107.00 L979.00,106.11 L980.00,105.24 L981.00,104.39 L982.00,103.56 L983.00,102.74 L984.00,101.95 L985.00,101.17 L986.00,100.42 L987.00,99.68 L988.00,98.95 L989.00,98.25 L990.00,97.56 L991.00,96.89 L992.00,96.23 L993.00,95.59 L994.00,94.97 L995.00,94.36 L996.00,93.77 L997.00,93.19 L998.00,92.62 L999.00,92.08 L1000.00,91.54 L1001.00,91.02 L1002.00,90.52 L1003.00,90.03 L1004.00,89.55 L1005.00,89.09 L1006.00,88.64 L1007.00,88.20 L1008.00,87.78 L1009.00,87.37 L1010.00,86.97 L1011.00,86.59 L1012.00,86.22 L1013.00,85.86 L1014.00,85.49 L1015.00,85.13 L1016.00,84.76 L1017.00,84.40 L1018.00,84.04 L1019.00,83.67 L1020.00,83.31"/>
<path d="M974.00,112.70 L975.00,111.80 L976.00,110.90 L977.00,110.00 L978.00,109.10 L979.00,108.21 L980.00,107.34 L981.00,106.49 L982.00,105.66 L983.00,104.84 L984.00,104.05 L985.00,103.27 L986.00,102.52 L987.00,101.78 L988.00,101.05 L989.00,100.35 L990.00,99.66 L991.00,98.99 L992.00,98.33 L993.00,97.69 L994.00,97.07 L995.00,96.46 L996.00,95.87 L997.00,95.29 L998.00,94.72 L999.00,94.18 L1000.00,93.64 L1001.00,93.12 L1002.00,92.62 L1003.00,92.13 L1004.00,91.65 L1005.00,91.19 L1006.00,90.74 L1007.00,90.30 L1008.00,89.88 L1009.00,89.47 L1010.00,89.07 L1011.00,88.69 L1012.00,88.32 L1013.00,87.96 L1014.00,87.59 L1015.00,87.23 L1016.00,86.86 L1017.00,86.50 L1018.00,86.14 L1019.00,85.77 L1020.00,85.41"/>
<path d="M974.00,114.80 L975.00,113.90 L976.00,113.00 L977.00,112.10 L978.00,111.20 L979.00,110.31 L980.00,109.44 L981.00,108.59 L982.00,107.76 L983.00,106.94 L984.00,106.15 L985.00,105.37 L986.00,104.62 L987.00,103.88 L988.00,103.15 L989.00,102.45 L990.00,101.76 L991.00,101.09 L992.00,100.43 L993.00,99.79 L994.00,99.17 L995.00,98.56 L996.00,97.97 L997.00,97.39 L998.00,96.82 L999.00,96.28 L1000.00,95.74 L1001.00,95.22 L1002.00,94.72 L1003.00,94.23 L1004.00,93.75 L1005.00,93.29 L1006.00,92.84 L1007.00,92.40 L1008.00,91.98 L1009.00,91.57 L1010.00,91.17 L1011.00,90.79 L1012.00,90.42 L1013.00,90.06 L1014.00,89.69 L1015.00,89.33 L1016.00,88.96 L1017.00,88.60 L1018.00,88.24 L1019.00,87.87 L1020.00,87.51"/>
<path d="M974.00,116.90 L975.00,116.00 L976.00,115.10 L977.00,114.20 L978.00,113.30 L979.00,112.41 L980.00,111.54 L981.00,110.69 L982.00,109.86 L983.00,109.04 L984.00,108.25 L985.00,107.47 L986.00,106.72 L987.00,105.98 L988.00,105.25 L989.00,104.55 L990.00,103.86 L991.00,103.19 L992.00,102.53 L993.00,101.89 L994.00,101.27 L995.00,100.66 L996.00,100.07 L997.00,99.49 L998.00,98.92 L999.00,98.38 L1000.00,97.84 L1001.00,97.32 L1002.00,96.82 L1003.00,96.33 L1004.00,95.85 L1005.00,95.39 L1006.00,94.94 L1007.00,94.50 L1008.00,94.08 L1009.00,93.67 L1010.00,93.27 L1011.00,92.89 L1012.00,92.52 L1013.00,92.16 L1014.00,91.79 L1015.00,91.43 L1016.00,91.06 L1017.00,90.70 L1018.00,90.34 L1019.00,89.97 L1020.00,89.61"/>
<path d="M974.00,119.00 L975.00,118.10 L976.00,117.20 L977.00,116.30 L978.00,115.40 L979.00,114.51 L980.00,113.64 L981.00,112.79 L982.00,111.96 L983.00,111.14 L984.00,110.35 L985.00,109.57 L986.00,108.82 L987.00,108.08 L988.00,107.35 L989.00,106.65 L990.00,105.96 L991.00,105.29 L992.00,104.63 L993.00,103.99 L994.00,103.37 L995.00,102.76 L996.00,102.17 L997.00,101.59 L998.00,101.02 L999.00,100.48 L1000.00,99.94 L1001.00,99.42 L1002.00,98.92 L1003.00,98.43 L1004.00,97.95 L1005.00,97.49 L1006.00,97.04 L1007.00,96.60 L1008.00,96.18 L1009.00,95.77 L1010.00,95.37 L1011.00,94.99 L1012.00,94.62 L1013.00,94.26 L1014.00,93.89 L1015.00,93.53 L1016.00,93.16 L1017.00,92.80 L1018.00,92.44 L1019.00,92.07 L1020.00,91.71"/>
<path d="M974.00,121.10 L975.00,120.20 L976.00,119.30 L977.00,118.40 L978.00,117.50 L979.00,116.61 L980.00,115.74 L981.00,114.89 L982.00,114.06 L983.00,113.24 L984.00,112.45 L985.00,111.67 L986.00,110.92 L987.00,110.18 L988.00,109.45 L989.00,108.75 L990.00,108.06 L991.00,107.39 L992.00,106.73 L993.00,106.09 L994.00,105.47 L995.00,104.86 L996.00,104.27 L997.00,103.69 L998.00,103.12 L999.00,102.58 L1000.00,102.04 L1001.00,101.52 L1002.00,101.02 L1003.00,100.53 L1004.00,100.05 L1005.00,99.59 L1006.00,99.14 L1007.00,98.70 L1008.00,98.28 L1009.00,97.87 L1010.00,97.47 L1011.00,97.09 L1012.00,96.72 L1013.00,96.36 L1014.00,95.99 L1015.00,95.63 L1016.00,95.26 L1017.00,94.90 L1018.00,94.54 L1019.00,94.17 L1020.00,93.81"/>
<path d="M974.00,123.20 L975.00,122.30 L976.00,121.40 L977.00,120.50 L978.00,119.60 L979.00,118.71 L980.00,117.84 L981.00,116.99 L982.00,116.16 L983.00,115.34 L984.00,114.55 L985.00,113.77 L986.00,113.02 L987.00,112.28 L988.00,111.55 L989.00,110.85 L990.00,110.16 L991.00,109.49 L992.00,108.83 L993.00,108.19 L994.00,107.57 L995.00,106.96 L996.00,106.37 L997.00,105.79 L998.00,105.22 L999.00,104.68 L1000.00,104.14 L1001.00,103.62 L1002.00,103.12 L1003.00,102.63 L1004.00,102.15 L1005.00,101.69 L1006.00,101.24 L1007.00,100.80 L1008.00,100.38 L1009.00,99.97 L1010.00,99.57 L1011.00,99.19 L1012.00,98.82 L1013.00,98.46 L1014.00,98.09 L1015.00,97.73 L1016.00,97.36 L1017.00,97.00 L1018.00,96.64 L1019.00,96.27 L1020.00,95.91"/>
<path d="M974.00,125.30 L975.00,124.40 L976.00,123.50 L977.00,122.60 L978.00,121.70 L979.00,120.81 L980.00,119.94 L981.00,119.09 L982.00,118.26 L983.00,117.44 L984.00,116.65 L985.00,115.87 L986.00,115.12 L987.00,114.38 L988.00,113.65 L989.00,112.95 L990.00,112.26 L991.00,111.59 L992.00,110.93 L993.00,110.29 L994.00,109.67 L995.00,109.06 L996.00,108.47 L997.00,107.89 L998.00,107.32 L999.00,106.78 L1000.00,106.24 L1001.00,105.72 L1002.00,105.22 L1003.00,104.73 L1004.00,104.25 L1005.00,103.79 L1006.00,103.34 L1007.00,102.90 L1008.00,102.48 L1009.00,102.07 L1010.00,101.67 L1011.00,101.29 L1012.00,100.92 L1013.00,100.56 L1014.00,100.19 L1015.00,99.83 L1016.00,99.46 L1017.00,99.10 L1018.00,98.74 L1019.00,98.37 L1020.00,98.01"/>
</g></g>
<g stroke="#00205f" fill="none">
<circle cx="1007.3" cy="52.9" r="10.3" stroke-width="0.8" stroke-dasharray="1.6 2.2" stroke-dashoffset="0" pathLength="0" clip-path="url(#esagr)"/>
</g>
<g stroke="#00205f" fill="none" stroke-linecap="round">
<path d="M1002.6,55.5 A5.6,5.6 0 0 1 1011.2,47.6" stroke-width="1.5" stroke-dasharray="1.1 0.7"/>
<path d="M1008.8,51.3 h3.2" stroke-width="0.9"/>
<path d="M1003.2,58.2 q1.6,1.2 3.4,-0.6" stroke-width="1.0"/>
<path d="M1005.2,58.9 q5.5,-2.6 11.2,-1.2" stroke-width="1.2"/>
<path d="M1006.5,61.6 q4,-1.6 8.2,-1.4" stroke-width="0.9"/>
</g>
<text x="1021.2" y="65.6" font-size="43.5" font-weight="bold" fill="#00205f" textLength="66.3" lengthAdjust="spacingAndGlyphs">esa</text>
</g>
</svg></body></html>
